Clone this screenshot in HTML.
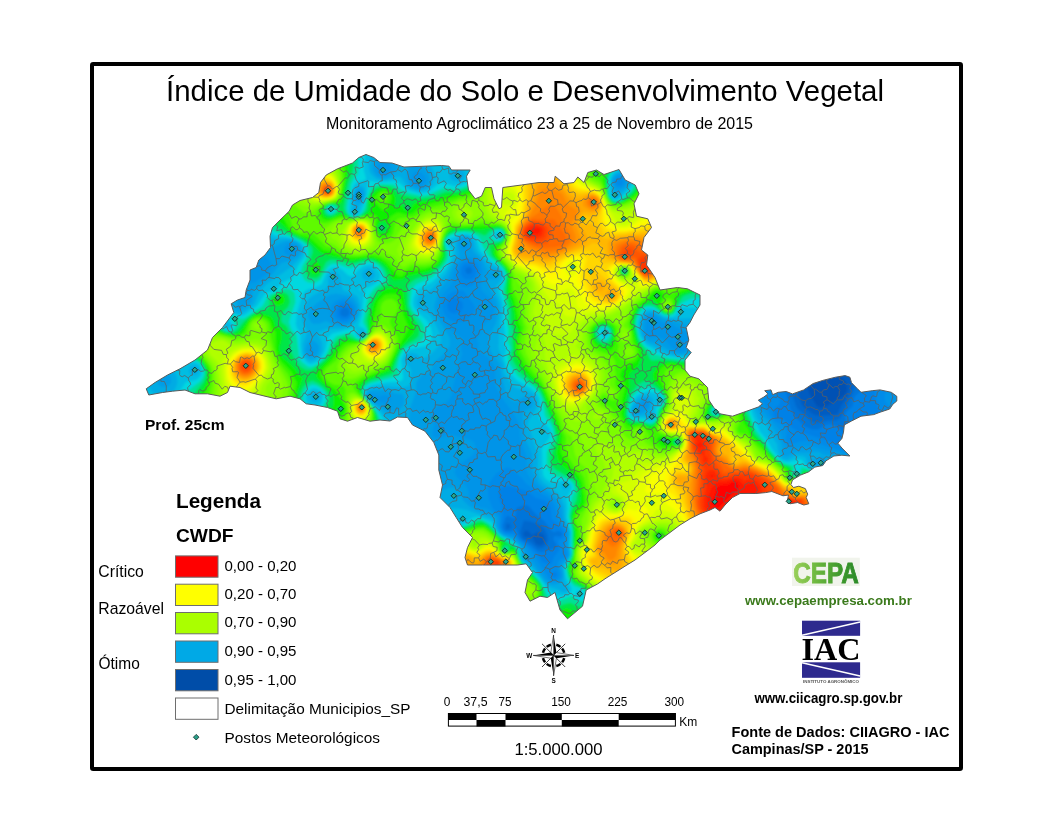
<!DOCTYPE html>
<html lang="pt-BR"><head><meta charset="utf-8"><title>Índice de Umidade do Solo e Desenvolvimento Vegetal</title>
<style>
html,body{margin:0;padding:0;background:#fff}
body{width:1056px;height:816px;position:relative;overflow:hidden;font-family:"Liberation Sans",sans-serif}
svg text{font-family:"Liberation Sans",sans-serif;fill:#000}
svg text.b{font-weight:bold}
svg text.serif{font-family:"Liberation Serif",serif;font-weight:bold}
</style></head><body>
<svg width="1056" height="816" viewBox="0 0 1056 816" style="position:absolute;left:0;top:0">
<defs><clipPath id="st"><path d="M366,154.5 373.8,157.5 380,162.5 392,163 404,167 441.5,165.5 449,166.2 451.5,170 470.2,170 466.5,176.2 468.5,190 475.2,198.8 481.5,196.2 485.2,187.5 491.5,187.5 494,198.8 499,208.8 501.5,207.5 502.8,187.5 521.5,185 539,182.5 554,182.5 555.2,176.2 564,183.8 574,182.5 577.8,177 584,182.5 587.8,172.5 596.5,170 604,174.5 619,169.5 625.2,180 635.2,185 639,193.8 634,203.8 636.5,216.2 647.8,218.8 651.5,227.5 644,237.5 641.5,250 647.8,255 646.5,265 650,270 655,277.5 660,290 677.5,287.5 687.5,288.8 700,295 700,305 693.8,315 690,322.5 686.2,327.5 688.8,340 686.2,347.5 691.2,352.5 685,360 685,370 690,376.2 698.8,378.8 707.5,387.5 708.8,400 713.8,407.5 720,413.8 732.5,416.2 750,410 758.3,407 762.5,403.8 758.3,400.2 763.9,397 767.9,393.9 764.7,390.7 771,389.9 772.6,394.7 778.2,392.3 786.2,391.5 792.5,393.9 803.7,389.9 813.2,383.5 822.8,380.4 835.5,377.2 845.1,375.6 849.9,377.2 851.5,382.7 857,388.3 861,392.3 872.2,390.7 880.1,389.9 891.3,392.3 896.8,396.3 896.8,401 892.9,404.2 889.7,409 880.1,412.2 873.8,414.6 861,416.2 851.5,421 844.3,424.9 843.5,432.1 841.9,438.5 837.9,443.2 841.9,448 849.9,456 841.9,455.2 833.9,456 826,460.8 822.8,465.5 814.8,467.1 808.5,471.9 800.5,475.1 792.5,479.9 790.9,484.6 793.5,487.5 798.9,486.2 805.3,488.6 807.7,494.2 806.2,497.5 808.8,503.8 803.8,505 797.5,502.5 790,503.8 787.5,500 788.5,495 783,495.8 771.8,491.5 765.5,492.6 755.9,493.5 748,493.4 740,493.5 732.5,497.5 725,505 720,511.2 715,507.5 710,510 700,513.8 690,518.8 680,525 670,532.5 660,540 655,545 645,552.5 635,560 625,566.2 615,572.5 605,578.8 597.5,584 586.2,590 582.5,606.2 575,612.5 567.5,618.8 560,610 555,592.5 547.5,597.5 540,596.2 530,601.2 525,592.5 527.5,580 532.5,572.5 526.2,563.8 517.5,565 500,565 482.5,565 467.5,565 465,557.5 467.5,547.5 472.5,537.5 462.5,527.5 456.2,517.5 450,507.5 440,497.5 442.5,485 438.8,470 438.8,455 433.8,442.5 425,431.2 412.5,425 407.5,417.5 397.5,417 390,421 380,420 370,421.2 357.5,417.5 347.5,421.2 340,418.8 337.5,411.2 327.5,407.5 315,405 306.2,403.8 300,398.8 290,396.2 276.2,398.8 265,396.2 250,392.5 240,387.5 230,386.2 227.5,392.5 220,396.2 207.5,393.8 195,393.8 185,390 172.5,391.2 162.5,392.5 148.8,395 146.2,388.8 155,382.5 167.5,375 180,368.8 195,360 207.5,350 212.5,337.5 222.5,327.5 233.8,312.5 231.2,303.8 237.5,300 245,297.5 246.2,290 250,280 250,270 256.2,267.5 258.8,260 265,255 270.5,247.5 270,236.2 272.5,227.5 280,220 289.2,211.2 292.5,205 300,200.5 312.5,197.5 318.8,192.5 320.5,182.5 326.2,175 337.5,168.8 352.5,163 358.8,157.5Z"/></clipPath>
<filter id="bl" x="-2%" y="-2%" width="104%" height="104%"><feGaussianBlur stdDeviation="1.2"/></filter>
<linearGradient id="cepa" x1="0" x2="1" y1="0" y2="0"><stop offset="0" stop-color="#9ad05a"/><stop offset="0.35" stop-color="#6db83f"/><stop offset="0.7" stop-color="#3f9a2c"/><stop offset="1" stop-color="#2a8a28"/></linearGradient>
</defs>
<rect x="92" y="64" width="869" height="705" fill="#fff" stroke="#000" stroke-width="4" rx="1.2"/>
<g clip-path="url(#st)">
<g filter="url(#bl)">
<rect x="126" y="136" width="792" height="504" fill="#ff0000"/>
<path d="M908,630.3 136,630.4 135.5,146 908,145.4 908.6,146 908,630.3ZM719.8,506 732,493.8 738,490.2 739.1,486 736.6,482 732.5,482 728,485.1 720,485.5 716.7,488 714.3,496 711.7,500 711.5,504 716,507.8 718,507.7 719.8,506Z" fill="#ff1800" fill-rule="evenodd"/>
<path d="M908,630.3 136,630.4 135.5,146 908,145.4 908,630.3ZM537.9,234 540,232.1 540.3,230 538,227.4 534,227.7 529.5,232 530.6,234 537.9,234ZM702.2,446 702,443.8 700,442.8 698.1,444 698,446 700,447.4 702.2,446ZM713.9,476 712,473.6 709.8,476 712,477.8 713.9,476ZM752.2,584 752.9,568 754.7,560 756.4,520 754.1,510 751.5,506 755.4,494 758,490.2 758.1,488 754.5,484 752,482.8 744,485.5 738.2,480 736,479.1 726,481.8 716,482.8 711.6,488 707.1,498 706.5,502 707.6,508 716,521.1 722.9,528 725.5,532 732,545 735.5,550 738.2,560 743.7,570 748,582.6 750,585.5 752.2,584ZM791.9,504 791.6,502 788,500 786,502 788,504.6 791.9,504ZM794.3,504 794,503.8 792.2,504 794,504.2 794.3,504Z" fill="#ff2800" fill-rule="evenodd"/>
<path d="M908,630.2 136,630.4 135.5,146 908,145.4 908,630.2ZM540.1,236 542.1,234 542.9,230 542,227.8 538,225.4 532.6,226 528,229 526.2,232 527.8,236 530,237.1 536,237.5 540.1,236ZM644.2,262 642.9,262 644,263.4 644.2,262ZM646.2,272 647.3,270 646.4,268 644,267.5 644,271.4 646.2,272ZM706.9,462 707.9,460 707.3,458 704.2,454 705.4,448 703.1,440 703.7,436 702,435.2 698,436 696,434.2 694,434.4 694,436.7 697.4,440 695.8,444 696.2,448 698,451.1 703.7,456 703,460 703.9,462 706,462.6 706.9,462ZM698,438 697.6,438 698,437.9 698,438ZM752.4,590 755.1,582 755.3,568 757.1,560 757.3,548 758.9,542 759.4,530 760.5,524 760.7,518 759.6,512 762,492 760.8,486 758,482.3 752,478.8 744,480.4 740.5,478 736,477 726,479.5 722,479.4 719.1,478 714,470.4 710,470 707.3,472 705.7,476 707.2,486 704,498 703.5,504 704.2,508 708,515.8 713.5,524 719.5,530 732.8,550 736.7,562 741.4,570 746.4,584 750,589.6 752.4,590ZM797.1,506 798.2,504 797.5,502 790,499.5 786,499.4 784.1,502 785.6,506 788,507.3 794,507.4 797.1,506Z" fill="#ff3700" fill-rule="evenodd"/>
<path d="M908,630.2 136,630.4 135.5,146 908,145.4 908,630.2ZM536.1,240 542.2,238 544.2,236 545.5,232 544.7,228 543,226 536,223.7 532,224.5 528,226.8 526,228.8 524.7,232 525.6,236 527.7,238 536.1,240ZM648.7,272 649.3,268 647.2,260 644.3,258 642,258.2 640,260 639.6,262 642,270.3 644,273 646,273.6 648.7,272ZM247.2,368 248.4,366 247.5,364 244,364 243.3,366 244,367.9 247.2,368ZM764,612 768.1,584 766.8,578 766.7,570 765.2,564 765.3,556 763.9,550 764.6,528 769.2,510 767.6,504 765.4,500 765.8,490 764.5,484 763.1,482 754,476.1 748,474.3 734,475.2 726,477.4 722,476.8 716,468.8 712.1,466 710.9,464 710.8,458 705.7,436 703.8,434 694,432.8 692.2,434 691.9,436 693.8,440 694.4,448 698.9,456 701.9,464 704.9,468 703.1,476 703.6,488 700.9,502 701.5,508 706,516.5 720.1,538 726,551.2 733.2,564 736,573.9 739.9,582 746,602.2 752,596.8 759,604 764,612ZM794.6,510 798,508.4 799.8,506 801.2,502 800,500.3 794,500.1 788,498 786,498.1 783.2,500 782,504 783.6,508 788,510.7 794.6,510ZM498,564 498,561.9 495.2,562 495.4,564 498,564Z" fill="#ff4700" fill-rule="evenodd"/>
<path d="M908,630.2 136,630.3 135.6,146 908,145.5 908,630.2ZM329.1,192 330,190 328,187.9 326,188.5 325.2,190 325.8,192 329.1,192ZM540.1,242 544,240.6 546.5,238 548.4,232 547.7,228 544,224.4 540,223 534,222.3 530,223.7 526,226.8 524,229.7 523.4,232 524.1,236 526,238.4 530,240.7 536,242.2 540.1,242ZM629.7,256 632.6,254 633.2,252 632,249.3 628,248.2 624,251.7 622.6,256 624,257.5 626,257.6 629.7,256ZM648.4,274 651.1,270 650.2,260 646,255.7 642,255.5 638.8,258 638.2,260 638.8,264 642,272.3 644,274.1 648.4,274ZM248.5,370 250.2,368 250,363.6 248,361.7 243.5,362 241.2,366 242,369 246,370.9 248.5,370ZM581,388 581.8,386 580,384 578,384.5 577.1,386 577.6,388 581,388ZM767.5,618 769.4,610 770.2,600 771.1,584 770.1,572 772.6,536 775.1,530 776,523.7 778,520.1 782,521.1 784,515.7 786,514.9 792,515.2 800,510.1 803.1,504 802.5,500 800,499.1 794,499.4 786,497.1 783,498 778,502.3 776,502.8 772,500 771.5,498 771.6,494 773.6,490 772,489.2 768.2,482 764,479 754,473.8 748,471.9 732,473.6 726,475.2 722,474.1 714.5,462 712.4,456 710.7,450 710.7,440 709.7,438 704,433.2 693.3,432 691.1,434 691,436 692.7,442 693,448 697.9,458 701.9,470 700.9,476 701.1,486 698.6,502 699.6,508 706,520.7 720,544 723.7,554 727,560 728,565.3 738.9,592 742,605.3 746,613.5 748,614.7 749.1,614 750.4,606 752,602.9 756,604.6 764,618.4 766,619.6 767.5,618ZM618.9,534 619.1,532 618,531.6 617.6,534 618.9,534ZM498.3,566 499.7,564 499.5,562 498,560.5 490,560 488.5,562 490,564.7 496,566.6 498.3,566Z" fill="#ff5700" fill-rule="evenodd"/>
<path d="M908,630.2 771.6,630 775.4,608 773.6,592 774,570.6 778,559.7 788,551.3 790,547.6 788,525 790,522.8 794,520.9 796,517.8 802,513 804.6,508 804.9,502 802,498.5 796,499 788,496.4 780,496.2 778,489.5 768.7,480 750,470.7 746,470.1 736,471.7 724,471.7 721,466 716,459.6 713.3,454 712.4,450 712.9,442 711.5,438 704,432.3 694,431.2 691.5,432 690,436 691.6,442 692.2,450 696.5,458 699.5,468 698.9,488 696.9,502 698,508 704.6,522 720.5,550 736.8,592 740.8,606 744.6,614 748.7,620 749.9,626 751.8,630 136,630.3 135.6,146 908,145.5 908,630.2ZM330.5,192 330.9,190 330,187.7 328,186.6 324.4,188 324,191.3 326,193.4 328,193.7 330.5,192ZM546.3,244 549.8,240 551.9,234 551.6,228 548.7,224 544,222.2 534,220.7 530,222.1 524,227.5 522.3,234 524,238 526,239.9 536,244.4 546.3,244ZM359.1,230 358,229.9 357.9,230 358,230.3 359.1,230ZM430,240 432.4,238 432,236.3 430,235.6 428.3,238 430,240ZM650.3,274 652.8,270 653.6,264 652.4,258 650,254.9 646,252.5 638,251.5 635.7,248 632,245.6 626,245.8 622.7,248 620,254 621.6,258 626,259 634,256.9 635.9,258 637.6,264 642,273.2 646,275.5 650.3,274ZM248.3,372 251.9,368 251.9,364 248,360.2 244,360.3 240.1,364 240,368.5 242,371.3 244,372.4 248.3,372ZM580.9,390 583,388 582.9,384 580.3,382 578,382 575.5,384 575.2,388 578,390.3 580.9,390ZM620.3,536 621.7,534 621.5,532 619.9,530 615.9,530 614.3,532 615.4,536 618,537 620.3,536ZM498,568 500,566.4 501,564 500.7,562 498.9,560 492,558.2 490,558.2 487.3,560 486.6,564 488,566.4 492,568.2 498,568ZM766,630 752.5,630 753.9,618 756,614.6 758,613.7 764,624.4 766,630Z" fill="#ff6700" fill-rule="evenodd"/>
<path d="M908,630.2 817.9,630 810.3,606 810,601.9 800.8,574 800.1,568 795.6,554 792.8,540 794,535.2 796,533.8 796.6,532 798,523.6 804,517.9 807.1,512 807.7,506 805.6,500 802,497.6 794,498 782.5,494 778,487.1 770,479.4 764,475.6 751.8,470 746,468.6 736,470.2 730,468.7 718,459.1 716,456.4 713.9,450 714.8,442 713,438 704,431.6 694,430.6 690.3,432 689.3,436 690.7,442 691,450 695.1,458 697.8,468 697,488 695.4,500 696.6,508 701.4,520 719,552 720.9,558 724.9,566 739.2,606 746.8,622 749.2,630 136,630.3 135.6,146 908,145.5 908,630.2ZM329.4,194 331.3,192 331.2,188 328,185.5 324.9,186 323,188 323,192 326,194.3 329.4,194ZM596.2,204 595.6,200 594,199.1 590.8,200 589.9,202 592,205.2 594,205.5 596.2,204ZM560.2,246 564,244 566,240.6 566.2,238 564,233.2 554,219.5 532,219.2 526,223.6 522.5,228 521.2,234 522.6,238 526,241.4 532,245.1 538,247 546,247.9 560.2,246ZM361,232 361.5,230 360,228 357.8,228 356.2,230 358,233 361,232ZM432.9,240 433.8,238 432,234.3 430,233.8 428,234.8 426.6,238 428,240.9 430,241.6 432.9,240ZM648.8,276 653.4,272 655.6,266 655.4,258 652,252.2 648,249.5 632,243.2 626,243.5 620.9,246 617.9,252 618.5,256 619.8,258 624,260 634,259.7 642,274.2 646,276.3 648.8,276ZM374.7,346 374.5,344 371.9,344 372,346.5 374.7,346ZM246.4,374 250,372.6 252,370.5 253.4,366 252,361.7 250,359.8 246,358.8 242.1,360 240,362 238.5,366 239.2,370 240.6,372 244,373.9 246.4,374ZM582.8,390 584.6,386 583,382 580,380.4 578,380.4 575,382 573.2,386 574.8,390 578,391.6 582.8,390ZM362.4,408 362,407.1 360,408 362,408.6 362.4,408ZM615.2,542 622,536.4 622.9,534 621.6,530 618,528.2 612.9,530 609.4,538 610.6,542 612,542.8 615.2,542ZM497.3,570 500,568.5 501.7,566 501.8,562 500.2,560 492,557.1 487.4,558 484.9,562 486,567.1 490,570 494,570.6 497.3,570Z" fill="#ff7700" fill-rule="evenodd"/>
<path d="M908,630.1 819.9,630 803.6,572 804.4,556 800.9,534 802,530 808,524 810.9,518 811.6,510 808.8,502 804,497.5 794,497.3 784,492.7 778,485.5 770,478 754.7,470 746,467.1 736,468.8 730,466.7 724,460.9 718,456.7 716.2,454 715.1,450 716.5,442 714.3,438 704,430.9 694,430 689.3,432 688.7,436 689.9,442 690.3,452 694,458.6 696.4,468 693.9,498 696.2,512 698.2,518 706,530.2 723.4,566 725.9,576 736.5,606 740,611.5 741,616 747.2,630 136,630.3 135.6,146 908,145.5 908,630.1ZM330.6,194 332.4,190 330.7,186 326,184.4 323,186 321.4,190 323.6,194 328,195.1 330.6,194ZM596.5,206 597.9,202 596,198.5 594,197.5 590,198.2 587.8,202 589.7,206 594,207.4 596.5,206ZM548.3,252 558,250.1 564,247.7 570.2,242 571.1,238 570.2,234 563.5,222 560,213.2 556,207.4 550,204.7 542,209.2 538,213.3 530,218.2 522.6,226 520.2,232 520.5,236 522,239.4 528,244.7 534,248.1 548.3,252ZM360.6,234 362.4,232 361.6,228 358,227.1 356.2,228 355.3,230 356,233 358,234.4 360.6,234ZM432.3,242 434.6,238 434,234.8 432,233 428,233.3 425.7,236 425.7,240 428,242.4 432.3,242ZM650.9,276 654.8,272 658,264 657.6,256 655.3,250 648,245.8 634,241.2 626,241.5 618,245.2 616.3,248 615.6,252 618.2,258 622,260.2 632,260.5 634,261.6 642,274.9 646,277.1 650.9,276ZM375.1,348 376.6,346 376.5,344 374,342 372,342.6 370.1,346 372,348.4 375.1,348ZM250.1,374 252.3,372 254.4,368 253.5,362 252,360 248,357.9 242,359 237.9,364 238,370.3 240,373.3 244,375.3 250.1,374ZM581.2,392 584,390 585.1,388 585.4,384 582,379.7 580,379 576,379.5 574,380.9 572.1,384 572.1,388 576,392.2 581.2,392ZM362.2,410 363.5,408 362.5,406 360,405.7 358.9,408 360,409.9 362.2,410ZM672.5,426 673.1,424 672,422.5 670,422.5 669,424 669.6,426 672.5,426ZM615.4,546 622,538.5 624.1,534 622.8,530 618,527 614,527.3 610.1,530 606.1,538 607,542 610,545.8 612,546.8 615.4,546ZM497.2,572 502.4,568 503.9,564 503.5,562 498,558 492,556.1 488,556.5 486,557.7 484.2,560 483.2,564 484,567.6 485.7,570 492,572.7 497.2,572Z" fill="#ff8700" fill-rule="evenodd"/>
<path d="M908,630.1 830.4,630 814.1,576 811.3,570 806.6,550 806.5,544 814.8,534 818.3,524 817.8,516 812.6,504 806,497.5 802,496.2 794,496.6 786,492.3 770,476.6 756,469.5 746,465.8 736,467.5 732,466.4 725.9,460 717.6,454 716.4,450 718.3,442 715.8,438 704,430.2 694,429.5 690,430.4 687.9,434 689.3,442 689.4,454 694,463.6 695,468 692.8,480 692.2,498 693.1,506 697.3,520 706,533.6 715.1,554 722,566.9 726.3,592 726.3,600 728.2,610 732,623.6 735.5,630 136,630.3 135.6,146 908,145.5 908,630.1ZM331.4,194 332.7,192 332.7,188 330,184.4 326,183.4 322,185.4 320.4,190 322.4,194 328,195.7 331.4,194ZM552.6,254 564.1,250 574.6,242 575.6,240 575.7,236 571.7,226 571.4,222 576,217.5 577.4,212 576,209.4 568,205.3 562,193.8 552,188.4 546,188.2 542,188.9 540,190.9 538.5,198 535.3,206 529.6,216 520.4,228 519.3,232 519.4,236 522,242.1 530,249 546,255.1 552.6,254ZM596.4,208 598.8,204 598.3,200 596.8,198 592,196.2 587.7,198 585.8,202 587.1,206 592,209 596.4,208ZM362.3,234 363.4,230 362,227.4 358,226.3 355.3,228 354.5,232 356,234.5 360,235.4 362.3,234ZM433.6,242 435.3,238 434.5,234 432,231.9 428,232.1 424.6,236 424.5,240 425.5,242 430,243.9 433.6,242ZM652.6,276 657.5,270 660.5,262 660.3,254 658,247.6 650,243 636,239 626,239.7 617.7,242 615.2,244 613.3,248 613.3,252 616.4,258 622,260.8 632.6,262 634.7,264 640.6,274 644,277.1 648,278 652.6,276ZM376.9,348 377.7,344 376,341.7 372,341.6 369.7,344 369.8,348 372,349.6 374,349.8 376.9,348ZM248.7,376 254,371.5 255.4,368 255.4,364 253.4,360 250.9,358 248,357 244,357.2 240,359.4 237.8,362 236.5,366 236.7,370 239,374 242,376.1 246,376.7 248.7,376ZM582.8,392 586,388 585.7,382 584,379.7 580,377.7 574,379.1 570.7,384 571.7,390 576,393.1 580,393.2 582.8,392ZM363.5,410 364.3,408 363.4,406 360,404.9 358.4,406 357.9,408 358.9,410 362,411.1 363.5,410ZM674,426 674,423 672,421.3 670,421.4 667.9,424 668.3,426 670,427.2 672,427.3 674,426ZM612.4,560 616,556.5 617.1,550 625,534 624,530.1 622.2,528 616,525.7 612,526.2 607.6,530 604.2,536 604.1,546 600,547.6 599.4,550 602,552 604,552.1 608,558.9 610,560 612.4,560ZM497.6,574 503,570 506.5,564 506.5,562 492,555.2 488,555.4 486,556.4 482,562 481.5,566 482.6,570 486,573.3 490,574.9 497.6,574Z" fill="#ff9700" fill-rule="evenodd"/>
<path d="M908,630.1 833.1,630 824,602.2 816.1,572 816.6,570 823.5,562 828,554.5 831.1,546 831.5,540 830,534.3 825.4,524 815.5,504 809.6,498 806,496.3 802,495.4 796,496.6 794.1,496 790,491.7 784,489.3 770,475.4 759.1,470 746,464.4 744,464.2 736,466.3 732,465 726,457.4 720,454.4 718.2,452 718.1,448 720.4,442 717.4,438 704,429.6 694,429.1 689.1,430 687.5,432 687.3,434 688.7,442 687.9,458 692,463.7 693.7,468 689.6,486 690.9,504 696,521.1 708,541.6 719.4,566 724,592 723.4,604 728.5,630 136,630.2 135.7,146 908,145.5 908,630.1ZM554.5,256 567.8,250 578.1,244 580,242 580.7,238 575.6,224 580.3,210 578.7,206 572,201.4 568,197.4 564,191.5 556,183.1 552,180.8 548,180.4 544,181.5 537.5,186 534.8,198 528.8,214 520.4,226 518.7,230 518.2,234 519.3,244 518.3,248 518.7,250 520.7,252 538,254.8 546,257.9 554.5,256ZM328.8,196 332.2,194 333.2,192 333.3,188 330,183.5 324,182.8 320.1,186 319.4,188 319.9,192 324,195.8 328.8,196ZM596.1,210 598.3,208 599.8,204 598,198 596,196.2 592,195.1 588,196 585.2,198 582.9,202 583.3,206 590,210.3 594,210.8 596.1,210ZM361,236 364,232.5 364,229.3 361.1,226 357,226 354,229.2 354,232.9 356.8,236 361,236ZM432.3,244 435.5,240 436,236 433.9,232 432,230.9 428,231.1 424,235.2 423.4,240 426.2,244 430,244.8 432.3,244ZM651,278 657.9,272 663.7,260 663.3,250 660,244.4 656,241.8 636,237 616,240 612.5,242 610.5,250 611.4,254 614.2,258 620,260.9 632,262.6 642,276.3 646,278.7 651,278ZM612.4,296 612,294.9 611.1,296 612,296.3 612.4,296ZM376.4,350 378.9,346 378,342.3 376,340.7 372,341 369,344 368.9,348 372,350.7 376.4,350ZM246.1,378 250,376.7 253.4,374 255.9,370 256.7,366 255.9,362 254,359.2 248,356.1 244,356.3 240,358.3 236.8,362 235.5,366 235.6,370 238,374.9 242,377.6 246.1,378ZM580,394 584,392 585.8,390 587.2,384 586,380.5 584,378.3 578,376.3 574,377.5 571.1,380 569.2,386 570.3,390 572,392.1 576,394.1 580,394ZM364.4,410 364.1,406 362,404.3 360,404.1 357.6,406 357.8,410 360,411.8 362,412 364.4,410ZM672.4,428 675,426 675.4,424 674,421.3 672,420.3 670,420.5 667.9,422 667.5,426 670,428 672.4,428ZM681.6,480 680,479.4 679.5,480 680,480.7 681.6,480ZM615.9,564 618.9,560 620.9,546 626,534 625.1,530 622,526.6 618,524.8 614,524.3 609.1,526 604,532.2 602.2,536 601.2,542 598,546.5 597.5,550 608,563 612,564.7 615.9,564ZM498.4,576 502,573.7 505.2,570 508,565.2 508.3,562 506.1,560 502,559.1 492,554.4 486,555.3 482.8,558 480.3,562 479.1,568 480.4,572 484,575.5 488,577.3 494,577.5 498.4,576ZM468.7,562 468.9,560 468,559.2 465.5,560 466,562.2 468.7,562Z" fill="#ffa700" fill-rule="evenodd"/>
<path d="M908,630.1 859.5,630 865.2,618 867.9,610 866,599 858.3,580 852.6,572 835.5,540 830,528.5 823.9,512 818,502 813.5,498 808,495.6 802,494.6 796,496 793.3,494 792.1,490 784,488.1 770,474.3 746,462.9 742,463 736,465 732.6,464 730.5,462 727.8,456 720,451.5 720,447.8 723.3,444 723.1,442 719.2,438 710,433.3 704,429 692,428.6 688,429.8 686.7,432 688.1,444 685.7,458 686.4,460 691.6,466 692,471.3 690,475.4 688,477 678.5,476 676.4,478 675.9,480 678,483.6 684,486.1 686,487.9 688,494 688.8,504 691.5,514 696,525.2 708,545.7 716.9,566 720.8,582 721.8,594 721.5,602 725.7,630 136,630.2 135.7,146 908,145.6 908,630.1ZM549.2,260 581.7,246 586,242.8 587,236 578.6,224 579.3,218 582,213.3 584,211.6 592,213.1 596,212.1 599.6,208 600.6,204 598.8,198 594,194.4 588,194.6 580,199.2 578,199.4 572,196.6 568,193.1 552,173.7 550,171.9 546,170.8 540,172.9 536.4,178 527.1,214 525.3,218 519.3,226 517.7,230 517.4,240 515.5,248 516.3,252 518,254.1 522,256.1 539.2,258 544,260.6 549.2,260ZM330.3,196 333.7,192 333.1,186 331.7,184 328,181.8 322,182.4 318.8,186 318.9,192 320.2,194 324,196.4 330.3,196ZM362.7,236 364.9,232 364,227.6 360,225.1 355.7,226 353.1,230 354,234.8 358,237.4 362.7,236ZM433.5,244 436.1,240 436.1,234 434,231.1 432,230 428,230.2 425.2,232 422.8,236 423.1,242 424.5,244 428,245.7 433.5,244ZM652.8,278 661.2,270 667.5,258 667.8,248 666.6,244 664,241 660,239.3 644,235.6 634,235.3 616,238 612,239.2 608.1,242 608.1,252 609.3,256 611,258 618,261.1 632,263.4 639.4,274 644,278.7 648,279.7 652.8,278ZM603,290 604.2,288 603.8,286 602,284 598,284 596.6,286 598,290 600,290.8 603,290ZM614.9,298 616.1,294 614,290.9 610,289.9 606.6,292 606.4,296 608,298.5 612,299.6 614.9,298ZM378,350 379.9,346 379.8,344 378,341 374,339.7 369.7,342 367.8,346 369.2,350 374,351.9 378,350ZM250,378 256,372 257.5,368 257.5,364 255.9,360 252,356.4 248,355.2 244,355.4 239.1,358 235.9,362 234.5,366 235,372 238,376.8 242,379.1 246,379.4 250,378ZM581.9,394 584.9,392 587.5,388 588.1,384 586.8,380 584,376.9 580,375.1 574,376 571.1,378 568.5,382 567.9,386 569,390 574,394.5 578,395.1 581.9,394ZM363.4,412 365,410 364.6,406 362,403.8 358,404.4 356.5,408 358,411.5 360,412.7 363.4,412ZM674.2,428 676.1,426 675.8,422 672,419.5 668,421 666.5,424 668,427.5 670,428.5 674.2,428ZM620.5,570 622.3,564 622.4,546 626.5,536 626.8,532 625,528 622,525.3 618,523.6 612,523.1 606.2,526 601.7,532 596.6,546 596.3,550 601.5,560 606,565.5 616,571 618,571.2 620.5,570ZM494.7,580 500,577.7 506,572 509.5,564 508.1,560 502,558.4 494,554.3 490,553.2 484,555.5 476,563.5 471.3,558 468,556.1 465.8,556 462.2,558 461,562 462,565 464,567.1 468,568.7 474,569.3 478.3,576 484,579.5 490,580.7 494.7,580ZM597,562 596,561.4 593.8,562 596,562.9 597,562Z" fill="#ffb700" fill-rule="evenodd"/>
<path d="M908,630 898.3,630 880.9,604 854,570 842,546.5 831.1,516 825.4,506 820.5,500 816,496.2 812,494.4 802,493.7 796,495 794.6,494 794,489.6 792,488.3 784,487 770,473.3 746,461.3 742,460.8 738,463 734,463.1 731.1,460 730,448 726.9,442 718,436.1 710,432.8 706,429.4 702,428.1 690,428.2 686.4,430 685.8,432 687.6,444 684,458 684.5,460 690.2,466 691,470 688,474.1 678,474.1 675.6,476 674.2,480 676,484.2 683.7,490 685.1,492 686,494.2 686.2,502 689.4,514 697.6,532 706.5,546 712.1,558 718.9,584 720.1,602 723.9,624 724,630 136,630.2 135.7,146 908,145.6 908,630ZM650.4,280 657.3,276 661.6,272 671.2,258 673.4,248 672,239.9 670.2,238 666,236.4 646,232.7 616,236.2 606,238.9 602.9,238 599,234 592.6,224 584,224.2 582,222.9 580.9,220 582,216.9 584,215.4 592,217.2 598,213.1 600.8,208 601.3,204 600.5,200 598.1,196 592,193.2 578,195.4 572,192.2 561.2,182 542,155.1 540,153.4 538,153.2 532.3,166 532.6,180 530.6,186 528.9,200 525.7,214 524,218 518.2,226 516.7,230 516.1,240 513.9,248 514.5,252 516,254.7 522,258.4 538,260.5 544,263.3 548,263.3 570,252.4 588,246.2 592,243.2 596,243.2 600,245.1 604,249.9 606.1,258 608,259.4 618.6,262 630,263.2 633.7,266 637.3,272 644,279.5 648,280.6 650.4,280ZM331.2,196 333.3,194 334.5,190 333.8,186 332,183.3 326,180.5 320,182.3 318,184.8 317.1,188 319,194 324,196.9 328,197.1 331.2,196ZM361,238 364,236 365.6,230 363.4,226 358,224.7 354.9,226 353.1,228 352.8,234 356,237.7 361,238ZM431.8,246 435.8,242 437,236 436,232.2 434,230 430,228.9 426.5,230 424,232.1 421.9,236 421.5,240 423.1,244 425.6,246 428,246.7 431.8,246ZM614.9,300 616.9,298 618.2,294 616,289.6 602,280.2 598,280 594.8,282 593,286 593.1,288 596,292.6 602,295.6 608,300.7 612,301.1 614.9,300ZM377,352 380.4,348 380.7,344 378.2,340 374,339.1 369.2,342 367.8,344 367.2,348 368.1,350 372,352.6 377,352ZM248.5,380 252,378 256,373.9 258.5,368 258.5,364 257.1,360 254,356.6 250,354.7 246,354.3 240,356.3 236.1,360 234.1,364 233.4,370 234.5,374 238,378.6 244,380.9 248.5,380ZM583.2,394 586,391.7 588.3,388 588.9,384 587.9,380 584,375.4 580,373.7 576,373.9 572,375.6 569.1,378 567,382 566.6,386 568,390.7 570.8,394 574,395.5 578,395.8 583.2,394ZM364.5,412 365.7,408 364,404.7 360,403.1 357.5,404 355.8,408 357.5,412 360,413.5 362,413.5 364.5,412ZM675.5,428 677.6,424 676,420.7 672,418.7 668,420.1 665.9,424 667.7,428 672,429.2 675.5,428ZM626,578 626.7,576 625.8,562 623.4,548 627.4,536 627.5,530 625,526 620,522.8 614,521.7 609.9,522 604,525.6 599.5,532 594.9,548 597.2,556 596,557.7 591,560 590.8,562 594.1,566 604,568.6 612,572.9 626,578ZM490.9,584 500,580.5 506,574.9 510.2,566 510.3,562 509.1,560 502,557.9 490,552.3 486,553.2 478,558.8 476,559.1 470,555.5 466,554.5 462,555.4 459.2,558 457.7,562 458,565.5 462,572.2 478,582.4 486,584.2 490.9,584Z" fill="#ffc700" fill-rule="evenodd"/>
<path d="M908,630 900.8,630 882,602.2 866.4,582 860.9,572 856,560 848.4,536 843.3,524 834.4,510 825.3,500 817.6,494 812,491.7 800,492.4 798.2,494 796,494 795.7,492 796.8,490 795.6,488 786,487 784,486 770,472.4 754,465.1 738,455.2 730,442.7 726.8,440 720,435.8 712,433.4 704,427.7 690,427.5 687.3,428 685,430 687.1,444 686,449.1 682.3,458 682.6,460 688.9,466 689.4,470 688,472 686,472.9 678,472.1 676,473 672.8,478 672.8,482 682.4,494 687.5,514 695.9,532 706,548.7 709.9,558 714,572 718.4,594 719.6,610 722.2,624 722.1,630 136,630.2 135.7,146 908,145.6 908,630ZM652.5,280 659.2,276 663.8,272 676.6,256 679.9,246 680.6,240 679.9,236 676,233.5 668,233 650,229.2 626,233.6 606,235.3 604,233.9 597.6,222 597.5,220 602.1,206 601.1,200 598.9,196 596,193.5 592,192.3 580,192.8 576,191.7 562.3,180 553.1,168 544.6,154 540,148.7 535.8,150 533.9,152 530,162 529.6,176 526.9,184 527.2,196 524.4,214 522.8,218 516.9,226 516,228.8 515,240 512.8,248 513.1,252 515.2,256 518,258.3 524,260.8 536,262.4 544,265.3 550,265.8 570,254.1 582,250.7 588,250.7 590.8,252 592,254.8 594,256.5 598,256.7 602,263.4 614,262.4 630,263.8 632.9,266 636.7,272 644,280.5 648,281.5 652.5,280ZM332.1,196 334,193.7 335,190 334.4,186 332,182.3 326,179.5 322,180 318.3,182 315.8,188 317.9,194 320.1,196 324,197.5 328,197.6 332.1,196ZM363.1,238 365,236 366.3,232 365.6,228 364.3,226 360,224.1 354,226 351.8,230 352.9,236 354.8,238 358,239.3 363.1,238ZM433.1,246 436,242.7 437,240 437.3,234 436,230.9 434,229 432,228.2 428,228.3 424,230.9 421.9,234 420.6,238 420.9,242 423.6,246 426,247.3 430,247.5 433.1,246ZM613.2,302 616.7,300 619.5,296 620,294 618,289.2 594,268.7 592,268 590,268.8 588.3,272 591.1,278 589.9,286 592.2,292 596,296.1 606,301.7 610,302.5 613.2,302ZM378.7,352 381.4,348 381,342 378,339 376,338.4 372,339.3 367.3,344 366.5,348 367.2,350 372,353.5 376,353.5 378.7,352ZM246.8,382 252,379.5 256,375.5 259,370 259.7,366 259.1,362 256,357 252,354.4 246,353.4 240,355.3 236,358.8 233.1,364 232.3,370 234,376 237.3,380 242,382.2 246.8,382ZM580.4,396 584.3,394 588.1,390 589.5,386 589.5,382 587.9,378 584,373.9 580,372.3 576,372.5 570,375.2 567.3,378 565.5,382 565.5,388 568,392.9 572,395.9 576,396.8 580.4,396ZM362.6,414 366,410.4 365.4,406 362,403 358,403 355.5,406 356,411.1 359.2,414 362.6,414ZM676.9,428 678.9,424 678.4,422 676,419.3 674,418.2 670,418.4 666,421.8 665.6,426 668,428.8 672,429.8 676.9,428ZM736,461 733.6,460 733.6,458 736,456.1 738.3,458 737.7,460 736,461ZM632,584 634.2,582 624.7,550 625,544 628.8,534 627.5,524 626,522.4 616,520.6 610,520.6 606,521.8 602.8,524 597.4,532 593.8,546 595.2,556 590,558.7 589,560 589.1,562 592,566.4 598,570.5 614,577.9 622,580 628,584.3 632,584ZM490.9,588 498,585 506,577.8 508.4,574 511.1,566 511.1,562 510,559.9 502,557.5 490,551.4 486,552.2 478,557 476,557.1 466,553.2 462,553.6 457.9,556 455.2,560 454.2,566 456.1,574 460,578.9 466.7,584 474,588.1 484,588.8 490.9,588Z" fill="#ffd700" fill-rule="evenodd"/>
<path d="M908,630 903.8,630 898,618.7 893.9,598 890.1,584 885,570 877.3,554 861.3,530 842.8,510 825.6,496 814,490.2 800.9,486 788,486.4 784,485.2 772,472.8 756,465.3 750.8,462 739.5,452 730,441 722,435.4 712,432.9 704,427.1 688,426.8 684.3,428 683.5,430 686.5,440 686.6,444 680.4,460 681.4,462 687.4,466 688,468.9 686,471 684,471.2 678,469.4 676,470.1 671.5,476 670.7,482 682,502.4 691.2,526 700.4,542 710,565.1 716.7,594 716.8,600 718,604 716,612 714,611.8 713.2,614 715.2,622 714.8,626 715.7,630 136,630.2 135.7,146 525.4,146 524.9,150 527.7,168 524,184 524.9,200 522.5,216 516.8,224 515.1,228 514.4,238 511.7,248 511.9,252 513.6,256 516,258.6 522,261.9 536,264.2 542,266.9 550,268.9 554,267.3 559.3,262 568,256.6 578,253.9 582,254.1 585,256 587,260 584,271.3 583.8,276 590.4,294 594,298 597.4,300 604,302.8 610,303.7 614,302.8 618,300.2 621.6,294 619.1,288 610.5,280 607.2,274 606.7,270 608.7,266 616,263.4 629.1,264 632.2,266 644,281.6 648,282.4 652,281.1 658.1,278 666.3,272 683.4,254 689.8,240 691.5,232 691,230 686,229 680,229.8 674,229.3 662,227.2 658,224.8 656,224.7 636,230.5 624,232.6 614,232.5 606,229.9 604.3,228 601,220 602.8,206 601.8,200 599.7,196 594,191.9 580,190.6 576,188.9 564,178 556,169.1 546,152.6 540.9,146 908,145.6 908,630ZM328,198 332,196.6 334.4,194 335.4,190 334.1,184 332,181.2 328,178.8 324,178.4 318.5,180 316.3,182 314.6,186 315.4,192 320,196.8 324,198.1 328,198ZM361.1,240 364,238.5 365.9,236 366.8,230 364,225.1 362,224 358,223.7 354,225.4 352,227.8 351.2,234 354,238.7 358,240.3 361.1,240ZM431.2,248 436,243.8 438.1,236 436,229.7 434,228 430,227 426,228.3 422.1,232 420.2,236 419.6,240 420.6,244 424,247.7 428,248.7 431.2,248ZM377.4,354 381.6,350 382.6,344 380,339.3 377.7,338 374,337.9 368.1,342 365.8,348 367.7,352 370,353.7 374,354.7 377.4,354ZM245,384 250,382.3 254,379.2 258.2,374 260.6,368 260.2,362 258,357.7 254,354.2 248,352.5 242,353.4 237.6,356 232.9,362 231.2,368 231.7,374 234.9,380 240,383.6 245,384ZM582.1,396 586,393.4 588.9,390 590.3,386 590,380 587.9,376 584,372.4 580,370.9 576,370.9 570,373.3 566,377.2 564,382 564.1,388 566,392.4 570,396.3 576,397.7 582.1,396ZM364.2,414 366.6,410 365.9,406 362,402.6 358,402.4 356,403.7 354.8,406 355.7,412 360,415.1 364.2,414ZM674.2,430 678.9,428 680.5,426 679.9,422 675.8,418 674,417.3 670,417.7 666,420.7 665,426 668,429.3 674.2,430ZM630.4,590 633.4,586 636,585.6 640,586.9 641.5,586 625.9,550 626,544 629.9,534 631.1,522 630,520 626,518.3 606,520 602,522 596,530.9 592.4,546 592.6,550 594,554 592.8,556 588.2,558 587.7,562 592,568.5 596,571.9 616,583.8 628,589.8 630.4,590ZM474.8,596 490,593.4 498,588.7 504,583.3 508,577.8 511.6,568 511.8,562 510,559.1 502,557.1 490,550.4 486,551.1 478,555.6 474,555.1 464,551.9 460,552.5 454.7,556 452,560 450.3,566 450.9,578 452,581.2 456,586.6 462,591.7 470,595.7 474.8,596Z" fill="#ffe700" fill-rule="evenodd"/>
<path d="M708,630 136,630.2 135.7,146 521.4,146 521.1,150 523.5,160 521.1,172 523,200 521.2,216 514.2,226 513.6,238 510.6,250 512.3,256 516,260.2 522,263.4 536,266.3 542,269.7 552,273.5 556,270.8 562.5,262 568,258.2 576,256.3 580,257 582,258.8 583.2,262 580.6,276 581.2,282 588.5,296 592,299.9 595.5,302 602,304.2 608,305 612,304.5 617.3,302 621.2,298 623.2,294 623.3,292 621.1,288 614,281.6 610.3,276 609.4,270 612,266 620,263.7 626,263.7 630,264.9 644,283 648,283.3 652,281.9 660.1,278 669.2,272 682,259.6 694.1,250 702.8,238 709.8,224 708.6,222 706,221.4 690,225 684,224.8 670,223 667.7,222 668,219.6 666,218.8 654,221.6 634,229.4 626,231.1 616,231.1 608,228.5 603.8,220 603.4,204 600,195.4 594,191 582,189 576,186.2 564,173.4 557.2,168 544.6,146 908,145.6 908,542.4 869.1,518 827.8,494 804,484.5 790,485.7 784,484.3 770,470.4 756,464.6 752.1,462 732.6,442 722.6,434 712,432.4 704,426.4 694,426.9 684,425 680.5,420 676,416.9 670,417 666,419.7 664.8,422 664.5,426 665.5,428 670,430.6 680,429.2 682,430.4 684.9,436 686.3,442 685.1,448 678.9,458 677.2,464 669.6,474 667.2,488 669.4,492 674,495.1 680,504.2 690,527.3 699.3,544 710,574 711.2,582 715.1,596 714.8,600 716,604.3 714,604.4 708,598.4 706.2,600 706.7,608 705.8,612 704,612.9 696,609.5 693.9,610 695.1,616 698,621.2 700,623.5 709.7,630 708,630ZM329.8,198 333.4,196 335.6,192 335.5,186 333.6,182 330,178.6 326,177.2 322,177.4 316,179.8 314.2,182 313.1,186 313.3,190 315.2,194 320.9,198 326,198.6 329.8,198ZM363.6,240 366,237.6 367.4,234 367.4,230 366,226.3 363.4,224 360,223.2 354,224.8 352,226.7 350.6,230 350.5,234 352,237.9 354,239.9 358,241.4 363.6,240ZM432.9,248 436,244.8 438,240 438,232 436,228.5 434,227 428,226.4 424,228.7 421.2,232 418.7,238 418.7,242 420.5,246 424,249 428,249.7 432.9,248ZM379.4,354 382,351.2 383.4,348 383,342 379.7,338 374,337.3 370,339.7 366.3,344 365.1,348 365.5,350 368,353.4 372,355.5 376,355.5 379.4,354ZM244.3,386 248,385 254,380.7 259.4,374 261.7,368 261.4,362 259.6,358 255.6,354 250,351.8 244,351.9 238,354.5 232.9,360 230.4,366 230.3,374 232.8,380 238,384.8 244.3,386ZM578.9,398 584,395.7 588.3,392 590.6,388 591.3,382 590,377.2 586,372.1 582,369.8 576,369.1 570,371.4 566,374.6 562.8,380 562.3,386 564.1,392 568,396.6 574,398.7 578.9,398ZM365.2,414 366.5,412 366.9,408 364.7,404 360,401.6 356,402.9 354,408 356,413.7 360,416 362,415.9 365.2,414ZM686,468.2 684,468.8 682.4,468 682.3,466 684.9,466 686,468.2ZM664.9,596 648,579.9 632,559.5 628,552.9 626.7,548 626.9,544 631.1,534 633.7,524 632,519.3 630,517.2 626,515.9 618,517.6 606,518.1 601.5,520 599.4,522 593.8,532 590.7,546 591.4,554 588,555.4 586.2,558 586.5,562 592,570.8 596,574.4 614,585.7 618,587.3 624,591.5 630,593.9 636,594.1 637.7,592 642,591.1 650,594.7 656,595.3 660,594.6 664.9,596ZM471.7,606 482,603.2 488,600.3 496,594.7 504,586.8 508.6,580 512.6,568 512.5,562 510,558.4 502,556.7 490,549.4 486,550 480,553.6 476,554.5 466,551 460,550.8 456,552.2 451.3,556 447.4,562 445.4,568 443.5,584 444.5,588 449.7,596 456,601.5 464,605.4 468,606.4 471.7,606Z" fill="#fff700" fill-rule="evenodd"/>
<path d="M684,630 458.7,630 458,627.7 454,630 136,630.1 135.8,146 517.6,146 518.7,158 518,159.5 514.3,162 514.2,168 515.2,174 518.8,184 521.3,198 519.7,208 519.7,216 513.2,224 513.2,236 509.6,250 511.1,256 514,259.9 518,262.8 524,265.5 536,268.6 540,271.8 546,274.5 550,278.7 552,279.6 556,278.7 559.4,276 562.4,266 565.5,262 572,258.7 578,259.1 580.4,262 580.9,266 576.8,280 586.2,298 589.8,302 593.3,304 600,305.8 606,306.3 612,305.5 618,302.6 621,300 625,294 624.9,290 614.4,280 611.9,276 611.2,270 614.2,266 622,264 630,265.4 638.1,276 642,283.1 644,284.4 650,283.5 662.2,278 672.6,272 694,254.3 718.7,240 739.2,222 738.4,220 730,215.5 724,214.7 714,216.4 708,215.2 700,218.5 678,217 677.1,216 677.5,214 679.9,212 680.6,210 680,209.3 654,218 630,228.9 622,230.2 614,228.9 609,226 607,222 604,204 600,194.5 596,191 582,187.3 576.4,184 565.3,170 560,166.7 556.2,162 546.8,146 908,145.6 908,523.3 900,520.6 885.6,512 872,505.9 820.6,490 808,483.9 802,483.2 792,485 786,484.6 782.2,482 777.5,476 770,469.3 753.3,462 734.1,442 724,432.9 712,431.8 706,426.4 704,425.8 696,426.6 691.7,426 684,422.2 682,419 676,415.5 672,415.7 668,417.2 664.2,422 663.9,426 664.9,428 670,431 678,430.4 682,432.1 685.1,438 685.7,444 684,449.1 677.2,458 672,466.8 666.4,472 662.6,486 663,488 674,501.8 675.9,506 682,514.1 698,547 708,576 709.5,588 708,591.6 706,591.9 704,594.1 702,594.1 694,589.3 690,589 687.8,592 688.7,600 688,601.7 660,582.3 634,558.5 629,552 627.5,546 635.2,526 636.6,520 636,517.8 630,513.9 626,513.8 616,516.4 606,516.3 602,517.5 598.6,520 592.4,532 590.4,542 584.8,556 584.7,560 590.8,572 594.5,576 618,589.6 627.4,598 638,604.2 642,603.6 643,602 642.5,596 644,594.9 650.7,598 654,601.6 660,605.1 680,622.7 685.1,628 685.7,630 684,630ZM331,198 334.1,196 336.4,190 335.4,184 332,178.9 328,176.5 324,175.8 318,177 314,179.2 312.1,182 311.5,186 311.9,190 314,194.4 318,197.7 322,198.9 331,198ZM362.1,242 366,239.2 367.6,236 368.2,232 367.6,228 364,223.7 360,222.7 356,223.3 352,225.8 350.5,228 349.6,232 350.1,236 352,239.6 354,241.3 358,242.5 362.1,242ZM431,250 434,248.2 437,244 438.4,240 439,234 438,230 436,227.2 430,225 426,226.2 421.6,230 418.4,236 417.4,242 418.9,246 422,249.3 426,250.8 431,250ZM377.7,356 382.7,352 384.4,348 384.5,344 381.2,338 376,336.3 372,337.7 368,341.2 365.8,344 364.4,348 365.5,352 370,355.9 374,356.8 377.7,356ZM245.1,388 250,385.8 256,380.2 260.6,374 262.9,368 262.6,362 259.5,356 256,352.9 250,350.8 242,351.4 236,354.9 230.6,362 228.7,368 229.3,376 233.6,384 240,388 245.1,388ZM581.1,398 587.3,394 590.5,390 591.9,386 592.1,380 590,374.6 586,370.2 580,367.4 576,367.2 569,370 564.2,374 561,380 560.7,386 563.6,394 568,398.3 574,399.9 581.1,398ZM363.9,416 367.1,412 366.6,406 362,401.8 358,401.2 356,402 354.3,404 353.4,408 355.2,414 360,417 363.9,416ZM643,514 643.6,512 642,510.8 639.7,514 642,514.8 643,514ZM467.7,624 475.8,620 481.4,616 483,614 483.1,612 498,598.2 508,584.7 512.7,572 513.5,564 512,559.5 510,557.7 501.5,556 490,548.3 486,548.7 480,552.4 476,553.4 462,549 458,549.4 452.1,552 447.3,556 442.8,562 438.6,572 436.7,582 431.5,588 431.1,592 432,595.3 436.4,604 442,611.1 450,617.1 460,621.1 464,624.7 467.7,624ZM670,606.3 669.9,606 670.1,606 670,606.3ZM696,630 692.4,630 684,622.9 670.6,608 672,607.2 678,610 688,617.2 694,620 696.8,630 696,630Z" fill="#f7ff00" fill-rule="evenodd"/>
<path d="M680,630 481.5,630 494,614.7 498.9,604 508,588.9 511.6,580 514.4,568 513.8,562 511.4,558 502,555.9 492,547.9 488,546.8 480,551.2 476,552.4 462,547.4 455.6,548 450.7,550 444.7,554 437.3,562 431.3,572 426.6,584 415.9,596 413.1,604 407.4,612 406.2,616 408,629.9 418,622.6 423.5,630 136,630.1 135.8,146 514.9,146 514,154.8 508.7,158 508,159.5 508,170 510.1,178 517.8,190 519.5,198 516.7,208 517.2,216 512,220 511.4,222 512.6,234 508.6,250 509.9,256 516,262.8 522,266.1 536,271.1 552,284.2 558,284.9 570,280.6 578,288.9 583.1,300 586,303.9 592,306.6 602,307.9 610,307.2 618,303.6 622.6,300 627.7,292 628,290 626.5,288 616,280 613.2,276 612.7,270 616,266 624,264.3 630,265.9 638.7,278 640.6,284 642,285.5 650,284.3 675.9,272 712,247.6 719.5,244 727.2,242 742,234.1 782,208.1 784,204.3 787.2,202 780,200.9 762,205 754,205.4 752,206.4 734,209.1 726,209.3 722,206.8 718,205.8 691.2,208 696,201.3 700.6,198 704,193.3 708,191.2 713,190 728,179.3 742,171.2 750,164.5 754,162.3 760,156.3 764,154.2 771.7,148 773,146 908,145.7 908,521.5 900,518.8 886,510 858,495.9 826,490.2 806,482.2 790,484.5 786,483.9 782,480.9 778,475.4 772,469.6 766,466.2 758,463.8 754,461.7 744.3,450 724,431.1 712,431.1 708,427 704,425.1 693.8,426 688.9,424 686.6,422 682,415.7 676,414.1 670,415.5 666,418.1 664,421.2 663.3,424 664.2,428 670,431.5 678,431.2 682,433.2 685.2,440 684.8,446 682,450.8 675.3,458 670,465.5 663.4,468 656,473 652,474.6 644.8,490 645.7,492 648,493.1 656,493.6 662,492.9 664,493.7 666,496 665.4,502 666.3,504 676,510.6 682,519.5 689.4,534 696.4,552 700.6,570 701.7,582 701.1,584 700,585 688,580.4 686,580.8 684,587.5 682,588.4 654,570.6 634,555.7 630.5,552 628.8,548 628.8,544 633.1,536 635,530 638,524.4 647,516 648.1,514 648.3,512 646.6,508 644,505.4 642,504.9 640,505.8 638,509.3 636,510.7 630,509 618,514.8 604,514.7 598,517.8 591.9,530 589.2,542 583.8,550 583,556 584.8,564 589.7,574 593.8,578 617.5,592 626.2,600 638,607.1 642,608.2 646,607.9 663.3,618 666,618.6 681.3,630 680,630ZM628,228.1 622,228.8 616.8,228 610,223 604.1,202 600,193.5 596,190.1 583,186 577,182 567.9,168 562.1,162 552.7,146 741,146 727.3,162 690.1,198 646,217.8 632.9,226 628,228.1ZM758,147.5 757,146 759.2,146 758,147.5ZM756,148.3 756,147.8 756.5,148 756,148.3ZM332.1,198 335.9,194 336.9,188 335.2,182 332,177.6 328,175.1 322,174.2 318,175.1 312,178.2 310.1,182 310.4,190 313.8,196 318,198.7 322,199.5 328,199.2 332.1,198ZM364.6,242 366.7,240 368.5,236 368.7,230 367.3,226 365.6,224 362,222.4 358,222.4 353.3,224 351,226 349.2,230 349.1,236 350.8,240 356,243.4 360,243.6 364.6,242ZM426.2,252 430,251.5 434,249.3 436.5,246 438.8,240 439.5,234 438.8,230 436,225.9 432,224 426,225.1 422.2,228 419.4,232 416.2,240 416.2,244 418.7,248 422,250.9 426.2,252ZM572,276.5 570,277.6 568,275.4 565.8,272 565.1,268 568,262.7 570,261.4 574,260.7 576,261.2 578,263.2 578.5,268 576,273 572,276.5ZM380,356 384.9,350 385.6,344 384.1,340 382,337.4 379.6,336 376,335.6 372,337.2 366.8,342 364.2,346 363.7,350 366,354.1 370,357.3 374,357.8 380,356ZM246.7,390 252,386.4 259.2,378 262.9,372 264.3,366 263.2,360 259.4,354 254,350.6 248,349.5 240,351.1 234,355.3 229.2,362 227.2,370 228.8,380 234,387.6 240,390.9 246.7,390ZM578.8,400 586,395.9 590.2,392 592.9,386 593.2,380 591.2,374 588,369.7 582,365.9 576,365.1 568,368.2 564,371.2 559.5,378 558.8,384 560.8,392 566,398.9 572,401.1 578.8,400ZM365.2,416 367.6,412 367,406 362,401.4 358,400.6 356,401.2 354,403.1 353,406 353,410 354.3,414 356,416.2 360,417.9 365.2,416Z" fill="#e5ff00" fill-rule="evenodd"/>
<path d="M676,630 489.9,630 501.1,610 502.8,604 510,589.4 514.6,574 515.3,568 514.4,562 512,557.7 502,555.5 499.4,554 492,546.5 488,545.2 484,546.7 480,550 476,551.4 472,550.5 462,545.6 456,545.8 448,548.5 438.9,554 430,562 423.3,570 416.7,580 409.3,594 402,600.1 382,609.8 376.1,614 372,620 367.2,630 280.7,630 291.3,618 290,616 280,621.2 276,625.3 273.4,630 136,630.1 135.8,146 508.3,146 507.2,154 505.3,158 502,170 502,178.7 504.9,184 514.2,190 516.6,194 517.5,198 516.9,202 514,206.3 505.2,212 505.6,216 510,224.5 511.8,232 511.5,238 507.5,250 508.7,256 516,264.1 534,272.2 544,283.2 556,291.9 560,291.8 568,288.7 572,289.8 574.4,292 576.4,296 576.8,306 580,308.6 586,310 602,309.8 612,307.7 619.2,304 624.4,300 631,292 632.3,290 632.3,288 620,281.8 614.4,276 613.9,270 617.4,266 624,264.6 629.3,266 631.3,268 634,273.6 637.9,278 638.7,282 638.1,286 642,287.3 648,285.9 670,276.6 740,239.4 744,237 746,233.9 782,210.5 786,205.4 792.4,202 795.9,198 792,197.4 790,198.7 786,198.8 783.4,198 783.3,196 802.2,186 807,182 806,181.1 792,178.9 778,178.1 762,178.7 744,180.7 741.6,178 750,168 778.5,146 908,145.7 908,520.3 900,517.1 886,508.5 858,493.9 846,491.4 830,489.6 808,481.4 802,481.4 790,484 786,483.3 782,480.1 778,474.2 772,468.4 766,465.1 758,463 754,460.7 746,449.6 732,438 728,432.7 724,429.2 720,429 714,430.8 711.5,430 708.2,426 706,424.9 702,424.4 696,425.7 692,424.8 687,420 684,412.4 676,412.3 670,414.6 666,417.2 664,420 662.7,424 663.5,428 668,431.4 672,432.3 678,432.1 682,434.2 684.2,438 685,442 683.3,448 668,463.9 648,470.9 643.6,474 638.7,480 635.3,488 630.6,494 627.2,506 624.5,510 620,512.8 616,513.9 604,512.4 598,514.3 590.8,530 588.1,542 582.1,550 581.5,554 582.7,562 586.4,572 591.3,578 615.9,594 626,603.8 640,614.1 642,615.2 646,612.3 650,612.7 674.9,628 676.7,630 676,630ZM628,226.2 620,226.8 614.8,224 611.3,220 603.1,198 600,192.4 596,189.2 582.4,184 577.7,180 571.7,170 569.7,164 565.3,158 561.5,146 707.1,146 700.3,162 702,162.6 706,161.8 713.3,156 717.8,154 726,148.1 727,150 726,151.9 716.6,164 708,174 695.2,186 671.3,202 651.7,212 644,214.7 632.1,224 628,226.2ZM730,146.5 728.7,146 730.4,146 730,146.5ZM728,148.4 726.3,148 728,146.8 728,148.4ZM325.5,200 332,198.6 335.3,196 337.3,190 336.7,184 334,178.3 330,174.6 324,172.5 318,173 311.5,176 309.4,178 308.2,184 308.9,192 311.7,196 316,199 320,200 325.5,200ZM363.5,244 366.5,242 368.9,238 369.5,232 368.1,226 366,223.5 362,221.9 358,222 352.3,224 350.2,226 348.4,230 348.1,236 349.3,240 352,243 356,244.8 363.5,244ZM431.6,252 436,248.1 438,244.1 440,232 438.9,228 436,224.5 430,222.7 424,225.1 420,229.4 415.5,238 414.5,244 418,249.6 422,252.5 426,253.4 431.6,252ZM572,270.2 570,268.7 569.8,266 572,264.3 574,264.5 575.1,266 575,268 572,270.2ZM378.3,358 384,353.7 386,350 386.7,346 386.1,342 384,338.1 381.7,336 378,334.6 374,335.5 368,340.2 363.5,346 362.7,350 364.5,354 370,358.8 378.3,358ZM244.7,394 250,391 254,386.8 263.3,374 265.6,368 264.6,360 261.2,354 256,350.1 250,348.5 242,349.2 234,353.5 228.6,360 225.8,368 226.3,378 230.9,388 234,391.4 238,393.8 244.7,394ZM577,402 586,396.9 591.2,392 593.9,386 594.4,380 592,372 588.8,368 582,363.8 576,362.6 568,365.6 562,369.9 558,376 556.9,382 559.2,392 564,399.5 570,402.6 577,402ZM684.3,400 684.8,398 683.5,396 682,395.5 679.2,396 678,397.9 680,401 682,401.4 684.3,400ZM364.1,418 366,416.5 368,412.8 368.4,410 367.3,406 362,401 356,400.4 353.9,402 352.3,406 353.4,414 356,417.5 358,418.7 362,418.9 364.1,418ZM654,506.8 650,504.5 649.3,502 650,500.8 652,500 654.7,502 655.3,504 654,506.8ZM696,576.9 686,572.3 682,576.7 670,575 662,570.5 644,558 634,553.2 630.9,550 629.9,548 629.8,544 634.6,536 638,527.1 640,524.7 652.1,516 656,510.1 658,509.4 664,510.3 674,514.1 684,527.6 688,535 693.3,552 696.8,570 696,576.9ZM374,630 372,630 370.6,630 374,627.7 374,630Z" fill="#d3ff00" fill-rule="evenodd"/>
<path d="M674,630 499,630 500.8,620 505.3,610 506.2,604 512,590.3 515.6,576 516.1,568 514.3,560 512,557 504,555.7 500,554 494,546.7 490,543.9 486,543.5 480,548.5 476,550.3 472,549.3 464,544 460,543.4 452,544.5 442.1,548 430.9,554 422.3,560 404.5,576 394.2,588 384.4,602 376.7,608 360,615 354,618.5 333.2,626 326,629.8 283.2,630 329.1,582 330.7,580 330.7,578 330,577.9 324,579.3 322,580.8 316.5,588 306,598.2 302.1,604 292,613.4 284,616 282.4,614 287.1,602 289.6,598 288,597.8 252,623.9 248,630 136,630.1 135.8,146 503.8,146 502,160.2 498.9,170 497,188 498,211.1 499.5,214 508,223.6 511.2,232 510.9,238 506.5,250 506.6,254 508.7,258 516,265.4 534,274.7 550,299.9 556,301.7 559.3,304 564,314.4 566.5,316 572,317 594,312.2 606,310.9 612,308.9 626,300.6 636,290.9 670,277.7 716,254.8 746,241.2 752.6,236 751,234 752.8,232 784,211.3 788,206.6 798,199.7 799.4,198 795.8,194 814,185.1 818,181.7 841,146 908,145.7 908,518.9 884,505.2 858,492.4 848,490.1 831.1,488 808,480.3 802,480.7 790,483.4 786,482.7 782.7,480 778.9,474 772,467.3 766,464 758,462.2 754.4,460 746,447.7 733.2,438 728,430.7 724,427 720,426.8 714,429.9 712,429.1 709.9,426 706,424.1 702,423.6 696,425.2 691.6,424 688.7,420 687.7,416 689.3,408 689.6,396 688.5,394 686,392.7 682,392 678,392.8 676,394.4 675,398 677,408 674,411.5 668,414.8 664.6,418 662.6,422 662.2,426 664,429.4 668,431.9 672,432.8 678,432.8 682,435.1 684.6,442 682.6,448 668,461.1 652,465.3 638,471.7 630,480.3 622,482.8 618,485.3 616.4,488 616.3,490 617.4,492 624,496.8 625.4,500 625.4,504 624,508 620,511.5 616,512.7 610.7,512 602,508 600,508.4 596,512.1 593.2,522 589.7,530 587.1,542 580.8,550 580.2,554 582.4,570 584.6,574 588.9,578 612,594.3 624,606.2 630,610.4 646,624.9 648,626.2 650,625.3 650.6,624 650,618 652,617.2 656,618.4 664,623 674,630ZM626,224.4 620,224.2 617.1,222 608,208.6 602,194.4 598.6,190 585.3,184 578.4,178 573.3,168 569.6,156 568.4,146 692.5,146 687.3,164 677.6,182 678,183.4 684,179.9 686.2,180 686.4,182 676,192 665.6,200 652.3,208 641.4,212 630.3,222 626,224.4ZM808,146.9 806,147.1 804.2,146 808.9,146 808,146.9ZM328.4,200 334,198 336,196 337.5,192 337.4,184 334,176.6 328,171.8 322,170.3 316,171.1 308,175.6 306.3,182 305.8,190 309.3,196 314,199.4 318,200.7 328.4,200ZM512,204.3 506,205.2 501.4,202 500.5,198 502.8,194 508,192.2 512,193.3 514,195.3 514.9,200 512,204.3ZM361.9,246 366.2,244 369.3,240 370.2,236 369.9,230 368.8,226 366,222.7 362,221.4 358,221.6 352,223.5 349.2,226 347.1,232 347.1,238 348.8,242 352,244.8 356,246.2 361.9,246ZM430,254 434,251.6 436.8,248 439.1,242 440.6,234 440.4,230 439,226 436,222.8 432,221.4 426,222.6 421.5,226 414.2,238 412.7,244 414.1,248 420,253.4 426,254.8 430,254ZM634,284.3 626,283 618,279.1 614.8,274 614.9,270 616.1,268 618.7,266 624,265 628,265.7 630,267.1 633.2,274 636.7,278 637.4,280 636,283.4 634,284.3ZM375.2,360 380,358.6 383.5,356 386.3,352 387.6,348 387.3,342 385.3,338 382,334.9 378,333.7 374,334.8 367.7,340 362.7,346 361.6,350 362.9,354 368,359.6 372,360.7 375.2,360ZM245.3,398 250,394.9 254,390.2 265,374 267.2,368 266,360 262,352.7 258,349.4 250,347.2 242,348 233.4,352 226.4,360 224,368 225.3,382 230,391.8 236,397.2 242,398.4 245.3,398ZM576.4,404 590.8,394 594.4,388 595.7,380 593.9,372 590,366.4 582,361.5 578,359.9 574,359.5 566,363.5 559.7,368 556,374.2 554.9,380 556.8,390 562,400.1 566,403.3 570,404.7 576.4,404ZM362.2,420 366,417.7 368,414.7 368.5,408 366.3,404 364,401.9 360,399.8 356,399.6 354,400.7 352,404 351.6,408 352.5,414 356,419 360,420.3 362.2,420ZM690,570 684,568.2 680,570 672,566.4 662,564.6 656,561.8 644,553.4 636,551.6 633.1,550 631.5,548 631.2,544 635.6,538 637.7,530 640,526.6 650,520.8 662,515.9 668,516.2 676,520.5 685.5,534 688.9,544 692.2,562 691.8,568 690,570Z" fill="#c1ff00" fill-rule="evenodd"/>
<path d="M644,630 503.6,630 503.5,620 507.3,612 508.7,604 514.4,590 517.1,576 516.6,566 514.9,560 512,556.2 504,555.4 500.7,554 492,543.3 486,540.9 483.1,542 478.3,548 476,548.8 472,548 466,542.1 464,541.5 456,541.6 446,543.6 427.1,550 406.2,560 379.2,576 357,592 336.1,610 316.6,630 312.2,630 317.6,620 321.4,616 326.8,606 330.5,602 333.8,596 333.9,590 337.3,576 334,573.2 328,575.1 326,575.4 324,574 322,574.8 300,588.8 296,588.6 294,589.8 250,621.7 248,624 245.4,630 136,630.1 135.8,146 498,146 496.8,164 490.9,192 491,202 492,207.9 494.4,212 497.5,216 506,223.1 510.1,230 510.2,238 505.4,250 505.4,254 508,258.6 516,266.9 530,274.3 534.1,278 541.1,292 542,298 540,310 546,319.2 547.4,324 547.1,328 548.3,330 554,334.4 566,334.9 568,334.4 572,330.9 575.3,324 584,318.4 594,314.6 610,311.3 627,302 638.6,292 670,278.9 716,256.8 734,249.2 746,243.2 760,232.6 794,216.8 798.8,212 804,204.6 804.3,202 801.8,200 811.1,192 820,181.5 842.7,146 908,145.7 908,517.4 896,510.8 874,495.5 866,491.7 850,487.9 830,485.4 810,479.5 804,479.6 790,482.9 786,482.1 783.5,480 780,474 772,466.3 766,462.9 758,461.3 754,458.4 746,445.4 734,437.6 726,425.3 720,424.7 714,426.7 704,422.9 702,422.7 696,424.6 692,423.2 689.7,418 694.3,404 693.7,398 692,392.9 690,390.5 688,389.8 678,390.4 676,391.3 673.9,394 673.3,398 674.4,406 673.2,410 664,417.8 662.1,422 661.5,426 663.6,430 666,431.5 670,433.1 678,433.5 682,436 684,440.4 683.2,446 680,449.9 666,459.7 654,462.1 642,463.2 636,465.3 628,472.2 616.5,480 611.6,488 611.4,492 613.4,494 620,497 622.9,500 623.6,504 622.3,508 618,511.1 614,511.4 608,508.7 604,503.6 602,502.5 599.1,504 593.6,512 591.9,522 588.6,530 586.2,542 580.8,548 579.2,552 581,564 580.7,570 582,574 611,596 624,612.1 626,613 628,611.8 630,613 639.5,622 645.7,630 644,630ZM628,214.6 622,215.6 612,211.5 608,206.5 600,190.2 596,187.1 586,182.8 580.7,178 575.2,166 574,158 574.2,146 684,146 674.3,174 670,182 664.2,190 658.7,196 650,203.2 634,212.4 628,214.6ZM330.3,200 336,196.9 338,192 338.1,184 335,176 330,170.9 324,168.2 316,168 310,170.5 306,174 303.7,180 302.3,188 304.6,194 310,199.1 316,201.5 322,201.5 330.3,200ZM428.1,256 432,254.5 436.5,250 439,244 441.1,234 441,228 439.2,224 436,220.9 432,219.8 426,221.1 420,226 412.7,238 410.7,244 411.1,248 414.3,252 420,255.3 428.1,256ZM365.8,246 369.8,242 371,238 370.6,230 368.5,224 366,221.9 362,220.8 356,221.5 350,224 347.1,228 346.1,232 345.5,238 346.7,242 350,245.4 354,247.2 360,247.8 365.8,246ZM634,281 626,281.2 620,279.4 615.8,274 615.9,270 617,268 622,265.5 628,266.1 630.2,268 632.7,276 634.6,278 635.1,280 634,281ZM373.1,362 382,359.1 386.5,354 388.9,348 388.6,342 386.7,338 384,334.9 380,332.7 376,333 372,335.5 363.4,344 360.8,348 360.9,354 364,359.2 368,361.7 373.1,362ZM248.2,402 254,395.8 260.2,384 267.1,374 269,368 266.9,358 262,350.3 256,346.8 248,345.7 242,346.5 236,348.5 226.7,354 222.9,360 221.9,370 224,385.8 226.3,392 230,398.1 234,401.6 240,403.7 244,403.7 248.2,402ZM577.6,406 590,396.3 593.7,392 596.4,386 597.3,378 594.2,368 590.7,364 580,357 572,355.1 569.2,356 556,365.9 552.7,372 552.6,378 555.2,390 558.7,398 562,403 566,405.9 570,407.4 574,407.4 577.6,406ZM364.9,420 369,414 369.3,410 368,406 364,401.5 360,399.2 356,398.8 354,399.5 351.8,402 350.9,406 351.6,414 353.3,418 358,421.6 362,421.5 364.9,420ZM682,562 678,563.6 658,557.5 642,547.2 636,548.5 634,547.7 633.2,544 637.7,540 638.2,532 640,528.4 644,525.5 660,519.7 668,519.7 674,522.3 681.4,532 685,542 685.6,552 683.6,560 682,562ZM670,630 657.1,630 655.3,622 657.9,622 662.1,624 671.8,630 670,630Z" fill="#b0ff00" fill-rule="evenodd"/>
<path d="M634,630 505.9,630 506,623.1 512.1,610 513.5,602 516.9,592 518.8,576 517.4,566 515.5,560 512.8,556 501.3,554 499.1,552 494.6,544 492,541.4 486,538.2 482,537.7 480,538.1 478.1,540 478.1,544 476,546.5 473.2,546 471.8,544 471,540 468,539 462,539.1 439.2,542 388.4,552 365.7,560 350,567.4 344,571.4 341.6,570 346.1,560 344,558.5 342,559.1 330,564.4 304,583.1 294,587.4 290,591 280,597.3 276,601.1 249.5,620 246.2,624 243.8,630 197.2,630 205.5,618 206,615 204,614.9 201.7,616 192.7,624 187.5,630 136,630 135.9,146 492.7,146 492.5,166 487.2,194 487.6,202 489.7,212 492,215.1 504,222.7 508,227.1 509.4,230 509.6,238 503.9,252 505,256 514,266.8 529.1,276 534.1,282 537.5,294 534,308 533.5,314 538.4,322 538.4,326 540.9,330 545.3,344 544.8,356 552.1,386 555.9,396 560.2,404 566,409.2 574,412.8 578,410.9 585,402 592.4,396 597.3,388 599.1,380 598.8,374 595.8,366 592.3,362 581.8,354 575.6,346 578.1,342 577.4,336 578.6,328 579.5,326 583.9,322 594,316.7 610,313.2 624,305.9 634,297.8 649.4,288 668,281.1 678.8,276 686,274 704,264.3 740,249.3 764.1,236 788,224.5 794,219.8 804.7,208 810.9,196 825.8,176 844.4,146 908,145.7 908,515.9 874,493.2 858,484.9 828,482.9 808,478.2 790,482.4 786,481.4 784,479.7 780,472.7 772,465.3 766,461.8 758,460.3 754.9,458 746.8,444 734,436.4 728,424.2 726,422.8 712,423.6 702,421.7 696,424.1 692,422 691.7,418 695.6,412 699.6,398 697,396 695.5,390 692,386.8 686,386.2 676,388.3 674,389.9 672.2,394 672.1,408 664,416.7 661.5,422 660.8,426 662.6,430 666,432.1 670,433.6 678,434.2 681.2,436 683.5,440 682.7,446 680,449.1 670,455.5 662,458.4 652,458.9 644,453.8 636,452.8 624,455.7 616.8,460 614,465 612.8,476 610.1,484 604.5,496 595.7,504 592.6,510 590.5,522 587.4,530 586.1,540 584,543.7 579.6,548 578.2,552 579.9,564 579.4,572 580.1,574 610.3,598 624,617.2 633.2,626 635.6,630 634,630ZM624,210.3 616,211 612,209.5 608,204.9 600,188.9 596,186 587.2,182 582.9,178 579.9,172 578,163.5 578.3,156 580.5,146 672.2,146 673,156 672.3,162 665.1,180 658.9,190 651.4,198 642,204.9 634,208.7 624,210.3ZM323,202 334,199.3 337.3,196 339,188 338,179.8 334,172.1 328,167.1 320,164.5 312,165.2 306.2,168 302.4,172 300.5,176 299.3,184 297.6,188 300.7,194 308,200.6 314,202.7 323,202ZM464.8,216 465.9,214 464,212.6 462,213.9 463.1,216 464.8,216ZM432.1,256 436,252.5 438,249 442.1,230 441.7,226 439.8,222 436,218.7 432,218 426,219.5 420,224 410.8,238 407.7,246 409.1,252 411.2,254 420,257.3 424,257.7 428,257.7 432.1,256ZM365.2,248 370,244.9 371.9,240 371.4,230 369.5,224 366,221 362,220.3 354,221.6 348.5,224 345,230 343.5,236 343.5,240 345.5,244 350,247.5 354,248.9 360,249.4 365.2,248ZM628,279 622,279.3 618,276.4 616.4,272 617.9,268 624,265.6 626.7,266 629.7,268 631.2,274 630,277.3 628,279ZM372.7,364 380,362 384,359.4 387.9,354 390.1,348 390.3,344 388.2,338 384,333.2 380,331.3 374,333.1 360.8,346 357.2,354 352.2,360 351.8,362 352.7,364 356,365.2 362,363.7 372.7,364ZM251,410 254,408.1 256.8,404 261.8,386 270.9,372 270.5,364 266,352.5 262,347.6 254,344.4 246,344.3 232,346.7 225.8,342 222,340.6 218,341 212,343.4 209.2,346 208.3,350 210,354.3 218,362.2 222,388.8 226.8,402 230,405.9 238,411 244,412 251,410ZM364.5,422 368,418.4 369.7,414 369.7,410 368.4,406 362,399.7 358,398.1 354,398.3 351.8,400 350.4,404 350.5,412 352,418.4 354,421.4 358,423.5 362,423.3 364.5,422ZM616,510.3 612,509.1 608.5,506 607.7,502 610,498.5 614,497.5 618,498.2 620.7,500 621.8,502 621.9,506 620.7,508 616,510.3ZM676,556.6 672,556.9 660,554.1 652.2,550 640.3,538 639.2,534 640.3,530 644,527 658,522.5 668,522.6 674,525.1 676.4,528 679,534 681,544 680.2,550 676,556.6Z" fill="#9efe00" fill-rule="evenodd"/>
<path d="M624,630 511,630 514.2,618 520.6,602 524,597 532,592.7 532.6,590 532,588 528.6,586 524,585.5 522.6,584 518.8,568 514,556 512,554.7 502,554 498.4,550 496,543.8 492,539.4 486,535.6 478,533.8 462,537.1 438,538.9 424,541.5 406,541.4 392,546 370,556.1 366,557 348,564.9 347.3,564 349.3,558 348.3,556 342,556.9 328,563.6 304,580.9 300,582.1 299.1,580 298,579.9 254,611.3 252,611.4 249.1,608 252.2,594 250,594.4 242,606 240.5,610 241,616 243,622 239.1,630 223.1,630 224.2,628 224,625.7 221.4,626 213.9,630 206.4,630 216.6,614 220.4,610 225.2,598 224,596.8 218,598.8 214,599 210,604.6 206,606.7 176.3,630 136,630 135.9,146 487.9,146 489.5,162 489.1,176 482.6,200 483.2,204 486.2,212 490,217.5 502,222.6 506,225.9 508.7,230 509.5,234 509,238 502.5,252 503.7,256 516,270.6 528,277.7 531.4,282 532.6,286 532.8,294 530.9,302 530,316 537.8,336 534.9,348 535.4,354 544,367.3 545.5,374 552.4,392 559.2,406 572,419.2 576,421.4 584,420.6 589.3,416 586.7,410 586.3,406 588,403 593.4,398 598.3,390 600.6,384 601.8,378 601.6,374 596.5,362 584.7,352 581.4,346 582.8,328 588,322.1 596,318.1 612,314.7 624,309.1 634,299.6 654,286.6 672,281.5 688,275 704,265.9 746.7,250 754,246.5 782,236.8 790.3,228 796,220 806,209.9 808.2,206 816.7,196 822.3,186 832,174 833,168 848.3,148 848.9,146 908,145.7 908,513.2 887.8,498 857.4,482 852,480.7 842,481.5 828,481.1 808,477.2 790,481.9 786,480.7 783.7,478 780.8,472 772,464.3 766,460.6 760,459.9 756,457.7 751.3,448 747.1,442 740,439.1 734,434.9 728,421.2 726,420.7 710,422.5 700,420.3 696,423 693.5,422 693.1,420 694,418 696.8,416 697.9,414 699.5,406 704.5,396 704.5,394 701.9,392 699.6,388 694,383.3 686,379.9 679.6,380 676,382.7 672,388.3 670.8,394 671.3,404 670.5,408 662.5,418 660.1,426 661.4,430 664.3,432 670,434.3 678,434.9 682,437.7 683,440 683,444 680,448.3 668,454.7 662,456.2 654,455.7 644,450 628,450.3 602,442.6 598,443.6 596,445.6 595.3,448 596,452 601.6,458 603.8,462 606.6,476 606.5,482 600.5,496 594,502 591.6,506 588.8,522 586.3,528 585.2,540 577.7,550 577.2,556 579,566 577.9,572 580,576.2 598.2,590 607.7,600 622,622 625.7,630 624,630ZM624,208.3 616,209.3 612,207.8 608,203.5 600,187.4 588,180.8 583.7,176 581.8,170 582.1,160 587.4,146 661.2,146 664,156 664.5,166 662.9,174 658.3,184 651.1,194 642.1,202 634,205.9 624,208.3ZM318,204 332,200.5 336.8,198 339.1,192 339.4,182 336,172 330,165.3 322,161.1 312,160.3 305.6,162 299.5,166 296,172 294,181.4 290.4,184 290.5,186 295.2,194 302,200.4 310,204.2 318,204ZM468.1,220 471.8,216 472.4,212 471,210 466,206.6 462,206.7 459.4,208 456.4,212 456.2,214 458.1,218 462,220.5 468.1,220ZM431.7,258 436,254.4 438.5,250 443.2,228 442.9,224 441,220 438,216.9 434,215.9 426,217.5 419.6,222 405.2,242 403,250 403.6,252 408,257.2 414,257.2 420,259.5 428,259.4 431.7,258ZM364.7,250 371.8,246 373.5,242 371.7,228 370,223 366,220.2 362,219.7 352,221.5 346.3,224 341.3,232 340.1,236 340.3,240 342.3,244 346.8,248 352,250.2 360,251.1 364.7,250ZM626,278.5 621.4,278 617.5,274 617.5,270 618.8,268 622,266.3 626,266.2 628,267.1 630.2,270 630,274.9 626,278.5ZM359.8,370 366,367.4 376,365.3 382,363 385.5,360 388.1,356 391.5,348 391.5,342 388.7,336 384,331.2 380,329.8 376,330.7 374,332.1 356,349.8 350,354.6 348,357.4 346.4,364 348.6,368 354,370.9 359.8,370ZM250.1,424 258.1,416 267,402 267.3,398 265.6,390 266,386.3 274,375.4 273.8,368 268,352.4 264,346.2 258,342.8 248,342.3 236,344.2 232,343.4 226.5,340 222,338.5 216,338.5 210,340 205.6,344 204.9,350 206.6,354 215,364 216.7,368 219.7,394 223.1,408 230,417.3 236,422 242,423.4 246,425.7 250.1,424ZM364.6,424 368,420.6 370,416.1 370.5,412 369.7,408 367.5,404 362,399.2 358,397.2 354,396.9 351.7,398 349.7,402 349.8,414 350.9,420 353.8,424 356,425.3 360,425.8 364.6,424ZM601.2,418 602.4,416 602.2,414 600,412.4 596,412.9 592.5,416 593.2,418 596,419.6 601.2,418ZM259.5,464 259.9,452 259.6,450 258,449.5 256.9,452 256.4,462 258,465.3 259.5,464ZM618,508.4 614,508.4 611.3,506 610.7,504 612,501.2 616,499.7 620,501.9 620.4,506 618,508.4ZM668,552.1 660,551.2 654,548 642,537 640.7,534 641.9,530 644,528.5 650,527.7 660,524.2 666,524.7 672.8,528 676.2,534 677.8,542 677.5,546 676,548.5 668,552.1Z" fill="#8cfe00" fill-rule="evenodd"/>
<path d="M612,630 518.2,630 519.3,618 522.2,610 526,603 534,596.3 535.7,592 535.1,588 532.1,584 524,578.3 514,554.9 512,553.9 506,554.5 502,553.5 499,550 497.4,544 494.7,540 488,534.4 482,531.5 476,531.6 462,535.4 440,536 422,539.5 406,538.6 358,555.8 355.9,556 354,552.8 344,552.7 340,551.6 334.5,554 328,557.9 324,561.6 318,563.9 308,571.6 300,575.5 254,608.7 252,608.5 251.3,606 254.7,594 253.8,588 257.1,580 256.2,578 240,590.1 238,588.6 236,588.8 220,595 218.9,594 222,584 225.7,576 242,528.5 248.6,516 258.9,482 262.1,478 263.1,468 267.5,452 271,434 272.3,430 274,428.8 276,424.7 278.6,406 282.3,394 283.2,386 281.9,380 268,347.6 266,344.2 262,340.5 256,338.9 236,341.9 224,337.5 214,336.3 208,337.2 204,339.5 201.5,344 201.5,348 204.1,354 212,364 214.9,370 216.2,380 217.1,412 224.4,430 228,434.4 234,434.7 236,436 237,444 238,445.3 242,445.6 248,444.3 252.3,442 260,432.1 268,419.4 270,420.4 270.3,422 269.4,428 268,430.2 267.5,434 262.9,442 256,446.9 253.9,450 254,459.4 251.3,470 243.7,486 220,510.9 215.3,514 193.8,536 164.4,584 158,592.8 149.4,608 139.9,622 136,626 136,145.9 485.3,146 487.4,164 487.3,176 482.2,194 476,202.3 472,203.7 462,203.2 456.1,206 452.4,210 452,214 453.9,218 456,220 462,222.8 469.7,222 476,216.9 482,215.4 488.5,220 498,222 504,225.2 507.9,230 508.8,236 507.6,240 501.5,250 501.3,254 503.6,258 516,273.3 524.5,278 528.1,282 529.2,286 527.1,302 528.3,320 531.7,328 529.7,346 531.4,356 540.7,370 554.9,402 560,411.2 566.5,420 570,429.1 577.1,432 579.4,434 583.1,444 588.3,450 596,466 595.9,470 593,480 596,490 595.8,494 591.7,500 587.8,512 586.4,522 584.5,528 584.2,540 578,547.2 576.9,550 576.4,558 578.1,566 576.4,572 578,576.1 593.7,588 602,598 607.3,608 611.1,618 613.9,630 612,630ZM626,206.2 618,207.8 612,206.5 608,202.3 600,185.7 589.4,180 586,176 584.4,170 586,162.2 590,155.8 598.9,146 651.5,146 655.9,156 657.7,164 657.5,174 655.2,182 650.7,190 643.2,198 636,202.6 626,206.2ZM908,511.3 888,495.2 880,491.7 868,484.5 852,478.7 842,480 826,479.3 808,476.2 790,481.3 786,480 782.3,472 778.3,468 768,460.3 764,458.6 759.1,458 756.7,456 754.5,450 748,440.7 746,439.2 740,437.6 734.8,434 733.1,430 731.6,420 730,419 726,418.7 720,420.5 708,421.6 703.2,420 700.8,418 700.2,414 701.1,408 705.5,400 712.4,392 712.5,386 710,385 706,387.1 704,386.8 699.3,382 694,378.4 686,375.4 682,375.2 678,376.6 672,382.4 669.5,390 669.7,406 662,417.7 659.2,426 660.1,430 664,432.7 670,435 680,436.4 682.6,440 682.5,444 681.4,446 678,448.7 664,454 654,452.5 644,446.4 638,445.6 630,446.8 626.8,446 618,439.7 610.3,436 605.2,430 604.6,426 607.1,418 606.4,414 604,410.6 598,407.2 596,404 596.1,398 603.2,386 605.3,376 602.8,366 600.3,362 596,357.1 588.8,352 586.3,348 585,334 586.2,328 591.8,322 600,318.5 608,317.5 618,320.5 622,320.1 624.2,318 631.5,304 654,287.6 674,283.5 692,275.2 704.6,268 734,256.1 748,251.4 754.9,248 782,238.7 792,228.5 800,217.6 807.9,210 810,205.5 825.3,192 824.6,188 834,174.5 833.9,170 834.9,168 850,148.3 850.6,146 908,145.8 908,511.3ZM316.5,206 334,200.6 337.8,198 340.2,188 339.5,176 337.2,170 334,165.2 326,158.3 316,154.5 310,154 304,154.7 296,157.9 291.8,162 288.8,168 285.4,184 290,194.5 296.6,202 302,205.3 308,207.2 312,207.3 316.5,206ZM431.7,260 436,256.5 438.7,252 444.9,226 444.9,222 443.5,218 440,214 436,213.1 428,214.3 418.7,220 410.1,232 401.3,240 396.6,250 398.9,256 406,261.8 412,260.1 420,261.6 428,261.4 431.7,260ZM364,252 373.4,248 375.6,244 372,225.2 370,221.1 366,219.2 360,219.3 340,222.5 336.1,224 334,226 330.7,232 331.3,238 336,240.5 342,247.5 346,250.1 352,252.2 358,252.8 364,252ZM628,276.3 624,277.8 619.8,276 617.9,272 619.6,268 624,266.4 628.5,268 630,272 628,276.3ZM669.7,308 670.3,306 669.4,304 668,303.3 666,303.9 665,306 665.6,308 668,308.9 669.7,308ZM258.3,330 260,329.2 261.6,326 261.1,324 258,322 254.2,324 253.7,326 256,329.8 258.3,330ZM357.3,374 382,365 386,362.1 389.7,356 392.9,348 393.3,342 390.8,336 384,328.8 380,327.8 376,329 366,339.9 350,350.8 345.5,356 342.5,362 342.4,364 345.1,370 350,374.1 357.3,374ZM625.3,338 627.4,336 627.4,334 626,332.1 624,331.8 622,333.8 621.9,336 623.8,338 625.3,338ZM362.1,428 366,425.6 369.8,420 371.2,414 370.8,410 367.8,404 362,398.7 356,395.6 352,395.6 349.4,398 348.5,402 349.4,422 351.6,426 354,427.8 358,428.8 362.1,428ZM618,506.3 616,506.8 614.3,506 614,503.5 616,502 618,502.9 618.6,504 618,506.3ZM666,548.3 660,548.2 656,546.7 652.7,544 648,537.5 644,535.9 642.7,534 642.8,532 645.8,530 650,530.5 658,526.3 664,526.4 668,528.2 672.9,534 674,540 672.7,544 666,548.3ZM236,630 225.5,630 230.1,622 231.3,618 236,612.9 238,612.1 240.8,622 236.9,630 236,630Z" fill="#7bfd00" fill-rule="evenodd"/>
<path d="M608,630 520.7,630 522,616.5 526,608.7 532,603.1 536,597.5 537.5,592 536.9,588 534.6,584 529.1,580 524,574.3 514,553.7 512,552.9 504,554 502,553 499.6,550 498.7,544 496.5,540 488,532.1 482,529.3 476,529.9 460,534 442,533.6 420,535.2 410,534.1 388,536.1 379.1,538 368,542.5 364,542 358,547.5 356.4,546 356,542.8 354,542.7 346,547.2 340,547.8 328,555.5 322,560.6 318,561.5 312,565.5 306,570.6 300,572.8 294,578.2 284,584.4 280,588.2 256,604.8 254.4,604 254.6,600 256.4,594 256.5,590 259,586 260.9,576 263.4,570 262,568 258,569.9 240,583.5 232,587.9 229.7,588 230,584 235.3,570 236,564.6 254,512.5 258,507.1 260,506.5 262,511.2 264,510.2 267,504 272,497.6 275.3,482 274,468 276,439.7 279.8,426 281.9,422 288.6,390 288.4,386 286,379.1 276,362 269.7,344 266,338 265.5,334 266.5,328 265.7,324 262,320.5 258,319.4 254,320.7 252,322.7 250.8,326 250.7,334 249.3,336 245.3,338 236,339.7 218,334.8 208,333.7 202,335.3 197.8,340 197.3,344 199.2,350 211,366 213.3,372 213.7,386 209.4,420 212.8,424 213.2,426 212.8,448 214,450 218,450.2 224.3,460 223.6,466 218,484 217.7,488 220,491.8 225.4,496 225.8,498 217.6,508 214,510.2 191.2,534 178.4,556 171.2,566 162.4,582 155.2,592 146.3,608 136,622.4 136,145.9 289.7,146 286,151.2 282,152.8 279.6,156 277.1,164 278.2,170 282.9,186 289.1,198 294,204.4 304,212.9 306,213.5 312,211.6 323.7,204 337.1,200 339.6,196 340.8,190 341.2,176 339.7,170 336.9,164 328,153.7 314.5,146 483.2,146 485.7,164 484.8,178 482.4,188 480,192.5 472,199.2 460,200.8 452.9,204 446,209.4 432,210.3 424,213.3 404,226.1 400,230.4 394,240.4 388,243.6 380,242.8 378,241.1 374.3,232 372.4,222 371.1,220 368,218.5 364,218.2 350,220.4 338,220.2 334.1,222 325.7,228 324,230 323.6,234 324.9,238 328,242.2 334,244.4 340.9,250 346,252.7 352,254.2 360,254.4 378,250.1 394,256.8 398.9,264 402,266.7 404,267 412,263 422,263.9 430,263.1 436,258.9 439.9,252 441.8,240 444,233 448,223.6 450,221.7 452,221.6 460,224.3 466,224.5 472,223.4 478,220 482,219.2 488,222.2 500,223.9 506,228.2 507.9,232 507.7,238 500.9,248 499.4,252 500.6,256 511.8,270 518,282.4 520.7,286 521.5,298 524.5,306 525,322 527.6,328 526,332 525,340 525,348 526.2,354 530.4,362 542,378.2 554,404.6 563.3,422 566.4,432 568,434.3 570.9,436 572.4,440 574.2,452 576,456.9 580,463.1 586,468.1 587.6,472 590.4,496 588,504.8 581.4,520 582.8,540 576.6,548 575.4,558 576.8,566 574.6,572 575.9,576 577.7,578 589.9,586 596.6,594 601,604 608.6,630 608,630ZM620,206.3 614,206.2 610,203.7 607.4,200 602.8,188 600,183.4 592,179.6 588.5,176 587.2,172 587.7,168 592,161.2 610.7,146 639.8,146 646,151.3 651,162 652.6,172 650.9,182 646.9,190 639.1,198 630,203.1 620,206.3ZM908,510.2 888,493.6 880,490.3 866,480.9 860,478.9 852,477.1 842,478.3 824,477.7 808,475.3 792,480.3 787.3,480 785.4,478 784,472.2 782.3,470 761.3,454 748,438.4 746,437 740,435.9 736,433.1 734.5,428 736.2,420 732,413.9 718,419.8 708,420.8 705,420 702.7,418 702.1,412 705.2,404 716,392.9 722,392 723.2,390 722.8,386 720,384 714,383.6 712,382 708,382.2 698,375.3 692,373.1 686,372 680,372.2 676,374 669.8,380 667.9,386 669.2,400 668.5,406 662,416.1 658.3,426 658.4,430 662,432.9 670,435.8 678,436.2 680,437.1 682,439.8 682.4,442 680.7,446 678,447.9 666,451.7 662,451.8 655.8,450 644.7,442 643.3,438 644.3,432 643,430 640,428.5 636,429.8 634.8,432 636.1,440 630,439.8 624.8,436 620.8,430 619.8,424 618,420.8 612,415.7 607.8,410 600.7,406 599,404 598.4,398 602,393.2 606,392.5 612,396.5 614.1,396 615.4,394 615.2,392 614,389.6 610,386 609.3,384 609.9,376 607.3,364 600.5,356 591.1,350 589,346 587.6,334 588.9,328 595.2,322 604,319.1 610.1,320 619.8,326 620.3,328 618.9,336 620,339.5 624,342.5 626,342.7 628,341.5 630,337.7 630,333 628,329.5 623.1,326 627.5,318 631.1,308 634,304 646,296 652,289.8 658,287.5 670,287.8 674,286.9 709.9,272 722,265.7 742,257.1 776,243.7 784,238.9 795.9,226 801.1,218 809.3,210 811,206 827.6,192 826.4,188 829.6,182 834.7,176 836.6,168 850.2,150 851.8,146 908.2,146 908,510.2ZM626,276.7 622,276.6 619.2,274 618.9,270 620.4,268 624,266.8 628,268 629.4,272 628,275.2 626,276.7ZM669.5,310 671.3,308 671.7,304 670,301.4 668,300.9 664,303.3 663.2,306 663.8,308 665.8,310 669.5,310ZM355.2,378 370,371.3 382,367.1 386,364.6 388,362 393.8,350 395.4,342 394.5,338 392.2,334 388,328.7 384,325.4 380,324.8 376,326.7 369.1,336 364,341.1 358,344.5 348.9,348 343.1,354 337.3,366 338.7,372 341.7,376 346,378.8 350,379.5 355.2,378ZM632.1,356 634,352.8 633.7,350 630,346.8 626,347.4 624.2,350 624.1,354 625.7,356 628,356.9 632.1,356ZM361.5,432 366,429 370,423.4 371.9,416 371.4,410 368.3,404 360,396.6 354,393.1 350,392.9 348,395.2 347.2,398 347.9,410 346.5,422 347,426 349.3,430 352,432 356,433 361.5,432ZM666,544.4 662,545.6 658,545.1 654,542.4 652.4,540 651.4,534 656,528.9 662,527.9 666,529.7 668.4,532 670.1,536 670,539.4 668.7,542 666,544.4ZM254,606.1 253.9,606 254,605.4 254.1,606 254,606.1ZM234,630 227.8,630 233.6,620 236,617.7 238,619.9 238.4,622 234,630Z" fill="#5ffa00" fill-rule="evenodd"/>
<path d="M602,630 522.9,630 524.7,620 532,609.4 538,597.9 539,592 538,586.8 536,583.5 530,578.6 524.5,572 514,552.4 512,551.9 506,553.7 502,552.5 500.3,550 500,544 498.2,540 490,531.9 484,527.6 476,528.4 464,531.9 458,532.6 438,531.3 424,529.6 418,527.8 408,527.7 392,530.7 368,540.3 365.8,540 364,535.9 361.2,538 360,541 354,540.4 346,544.9 338,546.7 326,554.4 322,558.2 318,559.2 310,564.5 306,568.2 304,568.2 303.5,566 304.9,558 304,556.6 300,557.6 282,570.9 264,581.5 262.6,580 262.4,578 266,569.2 269.4,564 271.4,552 288,525 295.6,508 296.7,484 295.6,464 296.7,454 296,446.2 290,435.3 287.5,426 289.7,418 289.3,406 292.6,388 292.2,384 287.8,374 280,364 275.5,356 270.5,336 269,324 265.7,320 260,317.5 256,317.8 252,320 249.3,324 246,333.7 240,337 232,337.3 210,330.7 204,329.8 196,331.5 192.2,336 191.6,340 193.4,346 209.1,366 210.8,370 211.8,376 211.2,384 208.9,394 196.8,430 196.5,432 199.8,434 199,440 189.1,476 168,525 152,556 142,571.8 136,579.4 136,145.9 263.5,146 266.7,156 268.8,172 271.1,180 274.7,188 281,198 282.2,202 289,210 289.3,216 292,226 294.4,230 300,233.1 310,232.8 314,233.9 326,246.4 332,247.6 338.8,252 346,255.1 358,256.3 374,253.8 378,254.5 390,261 396,268.2 400,271.1 404,270.9 412,266 424,266.4 430,265.5 434,263.4 438,259.3 440.7,254 441.9,242 444,235 448,228.1 452,225 464,226.2 472,225.5 482,223.2 488,224.4 498,224.6 502,225.9 504.8,228 507.2,232 507,238 504,243 498.8,248 497.4,252 498.7,256 507.4,266 511.3,272 512.4,276 512.1,284 513.1,290 519.5,304 520.9,316 524.1,328 520.8,338 520.3,348 521,352 527.2,364 534,373.4 540,379.6 544.8,388 552.3,406 557.6,416 562.9,432 565.4,436 566,438 565.5,448 567.7,456 574,466 581.7,474 584,478.5 587.4,498 586.9,502 584,509.7 578,514.4 575.8,518 575.8,522 579.7,530 580.7,540 575.7,548 574.2,560 574.8,566 572.4,572 576,578.5 588,585.8 593.4,592 596.1,598 602.6,622 603.7,630 602,630ZM388,238.3 382,239.3 380,238.8 378,236.8 375,230 373.7,220 372.1,218 370,217.1 364,217.2 352,219.5 340,217.8 328,222.6 324,223.3 320,222.2 317.7,220 316.6,218 316.5,214 319.9,208 325.4,204 338,200.8 340,198 341,194 343.1,178 342,168.5 338,158 330.1,146 481.2,146 482.8,152 483.2,176 480.3,186 474.2,194 470,196.3 460,198.1 444,204.3 426,208.8 414,216.4 398,218.4 395.4,222 393,234 391.7,236 388,238.3ZM908,509 888,492.2 880,488.5 866,479.1 860,476.8 846,475.1 838,476.3 822,476.3 808,474.3 798,478.4 790,480.1 788,479.5 786.4,478 784.7,470 767.2,456 764,451.4 756,444.7 748,435.4 746,433.9 740,433.2 738,432 737.4,428 739.7,424 739.6,420 737.7,414 734,410.9 730,409 724.1,416 718,418.9 708,420.1 704.1,418 703.3,416 703.9,412 706.2,406 709.3,402 716,396.4 720,396.2 724,397.2 726.1,396 724.6,384 720.3,380 720,377.4 716,377 712,373.4 706,373.4 700,371.1 686,369.1 670,368.7 665.7,370 664.4,374 664.5,382 668,397.2 668,403.6 661.2,416 656.2,430 658,432.8 670,437 678,436.9 680,437.8 681.9,442 680,445.9 678,447.1 672,447.7 666,449.5 660,448.9 651.3,442 649.9,440 649,434 644.4,428 638,426.3 630,430.4 628,430.2 625,428 621,420 610,406.7 601.8,404 600.4,400 602,396.8 604,396 606,396.4 612,400.7 616,399.5 618.6,396 618.9,392 615.1,384 616,374 614.5,368 615.8,362 612,355.8 598,350.5 594,348 591.7,344 590,336 591.1,328 595,324 604,320.5 610,322 615.2,326 616.4,328 616.9,338 618.7,346 617.4,352 618.2,356 622,359.4 626,360.8 630,360.6 634,358.7 636.1,356 637,352 636,348.3 632.1,342 631.6,332 628.2,324 634,307.1 646,297.8 654,290 660,289.1 668,292.4 672,292.7 706,278.3 722,269.5 778,246.5 789.7,236 802,218.9 810,210.9 812.5,206 828,193.4 829.1,190 828.4,188 830,184.3 835,178 839.5,168 852,151.5 854.2,146 908.2,146 908,509ZM622,204.6 616,205.5 612,204.3 610,202.6 607.1,198 602,182.7 600,179.9 592,176.1 590.9,172 592.9,168 600,163.8 610,154.6 618,150.6 624,149.5 634,151.5 642,156.7 646.8,166 648.1,176 645.5,186 640,194 632.2,200 622,204.6ZM386.8,200 387.8,196 386.7,194 384,192.7 380.4,194 379.2,196 380.1,200 384,201.9 386.8,200ZM624,276.2 620.1,274 619.4,272 619.6,270 621.3,268 624,267.2 627.1,268 628.7,270 628.9,272 628,274.2 624,276.2ZM360.3,438 366,433.3 370,427.8 372.3,422 372.9,414 371.3,408 368.8,404 354.6,390 353.2,386 355.8,382 361.5,378 386,367.2 388.9,364 393.7,354 397.6,344 398.1,338 390.3,324 389.8,320 396,313.9 398.3,308 396.5,302 392,298.8 386,299.5 382,303 380.5,308 381.1,316 380.4,318 374,325.5 369.9,334 366.9,338 360,342.7 350,344.6 346,346.4 340.8,352 336,360.5 326.6,368 324.4,372 324.2,376 328,381.6 334,384.7 343.3,386 345.5,390 344.6,398 346.7,410 346,414.5 340.8,426 340.3,430 341.6,434 348,438.5 352,439.7 356,439.7 360.3,438ZM671.3,310 673.2,306 672,300 670,298.3 666,298.8 661.8,304 662.4,308 666,311.3 668,311.6 671.3,310ZM664,542 662,542.9 658,542.6 654.6,540 653.3,536 653.7,534 656,530.9 660,529.6 665.2,532 666.5,534 666.8,538 664,542Z" fill="#3af600" fill-rule="evenodd"/>
<path d="M594,630 530.4,630 532.8,616 539.5,600 540.5,592 539,586 522,566.4 515.1,552 512,550.4 506,553.1 502.1,552 500.8,548 501.4,542 490,530.2 484,525.9 478,526.3 464,530.6 458,531 446,529.5 418,523.2 392,528.5 370,536.6 364.4,532 362.5,524 364.4,520 364.3,518 363.4,518 356.1,520 344,526.6 314,545 312,545 310,543.1 308,543.5 276,559.6 274,559.6 273.6,552 300.5,510 305.4,494 306.5,486 306.8,472 302.9,458 299.6,450 302,431.8 295.1,420 295.2,414 293.5,402 296.8,384 296.5,382 291.4,372 282,362 278,356 276,348 275.5,332 272.3,328 270,320.7 264,316.4 258,315.6 252,318.1 248.4,322 243.3,332 240,334.4 236,335.6 230,335.5 224,333.9 206,325.6 198,322.9 190,322.5 186,323.8 183.3,326 181.5,330 181.6,334 184.8,342 189.7,348 202,358.9 208.4,368 209.8,376 208,385.7 194.1,416 188,425.4 180,435.3 170,445.5 160,453.3 148,459 136,462.5 136,145.9 244.8,146 256.1,178 259.1,184 259.1,186 256.6,188 257.6,190 279.6,212 289.1,228 293,232 300,235.4 310.1,238 323.4,250 330,251.2 342,256.5 352,258.5 372,256.3 380,258.7 385.3,262 398,276.3 402,276.6 408,271.3 426,268.9 434.2,266 439.9,260 441.8,256 442.6,242 444,236.7 448,230.7 452,227.8 498,225.8 504,228.3 506.4,232 506.3,238 502,243.7 496.1,248 495.5,254 498,258 507.4,268 510.2,274 510.3,292 514.1,300 519,324 521.4,328 517.8,338 516.7,346 518,353.5 524.3,366 532,375.7 540,383.4 544.8,392 550.9,408 556,418.2 562.1,436 560.8,450 561.4,454 567.7,464 578.9,476 581.8,484 584.5,502 582,507.7 576.2,512 574,516.1 573.9,522 576.6,530 577,534 573.5,558 570.2,570 571.3,574 574,578.5 588,587.4 592.7,594 596.5,608 597.3,616 595,630 594,630ZM384,236.4 380,235.6 377.1,232 375.8,226 377.3,218 376.5,216 374,214.8 370,214.7 354,218.8 350,218.6 342,215.7 340,215.7 328,219.9 324,219.3 320.7,216 320.7,210 323.8,206 328,203.7 338,202.4 340,201.1 341.4,198 345,178 345.3,170 343.7,160 339.2,146 478.7,146 480.6,152 481.3,176 480,180.7 474,190.5 468,193.8 446,198.9 442,200.7 422,205.8 412,213.8 406,214.4 398,212.6 394,214.2 389,218 391.1,226 390,232 388,234.4 384,236.4ZM908,507.6 890,491.9 882,486.1 860,475 842,472.2 836,474.2 824,475.1 806,473.3 798,477.8 790,479 788,478.3 787.1,470 780,465.4 771.4,458 762,446.5 750.8,436 748,428.8 743.3,422 740.5,410 736.3,408 731.8,404 730.8,396 727.6,392 727.5,374 720,366.8 710,367.9 682,366.2 670,364.1 666,364.8 661.1,368 658.2,372 657.7,376 666,393.4 667.3,402 666.1,406 662,412.2 658,422 654,428.2 652,429.6 650,429.5 644,425.9 640,424.8 632,426.2 628,425.5 624,420.3 621.1,414 623,406 622.2,400 625.2,386 624,382 620,376.6 621.6,370 626.7,366 636,361.3 639.5,354 639.1,350 634.9,342 630.8,324 631.7,318 636,308 646,300.4 653.9,292 658,291 661.2,292 662.9,294 662.7,298 659.8,304 660.9,308 665.2,312 670,312.2 672.6,310 674.3,306 675,296 680,292.3 707.2,282 734,275.7 764,270 768,268.3 782,252.1 794,233.5 803.5,220 810.7,212 814,206.3 829,194 832,186.7 846,170.7 850,164.3 854,157.1 858,146 908.2,146 908,507.6ZM618,204.4 612,203.2 607.7,198 603.5,180 604.4,172 607.9,164 614,158.1 620,155.5 628,155.5 636,158.8 640.9,164 643.9,172 643.6,182 640,190 634.5,196 625.1,202 618,204.4ZM384.9,210 388,208.5 391.5,198 390.6,194 389,192 384,190.1 378.7,192 371.7,200 373.4,202 376,203.1 382,210 384.9,210ZM626,275 624,275.4 621.1,274 620.1,272 620.4,270 622,268.2 626,267.8 628.2,270 628,272.8 626,275ZM328.7,462 342,452.3 346,452.8 350,451.9 358.1,446 366,439.1 372,429.6 374.3,420 372.8,410 369.3,404 358.6,392 357.6,386 360.2,382 364,379.2 372,375.2 384,370.9 388.8,368 398,348.2 407.8,330 408.2,326 403.1,314 401.6,302 400,297.8 398,295 396,294.1 388,294.2 384,295.2 378,301.7 370.1,332 366.4,338 360,341.9 348,342.2 344,343.8 340,348 331.7,360 324,366.9 320.5,372 320.3,376 322.3,380 326,383.8 335.6,390 337.3,392 339.9,398 344,403.8 345.1,408 344.7,412 342,416.4 334,421.6 330.4,426 324.2,440 322.5,448 322.6,454 324.9,460 326.8,462 328.7,462ZM278.3,300 279.3,298 278,297.5 277.2,298 278.3,300ZM610,350.6 600,347.6 596,344.9 593.7,342 592.2,336 592.2,330 594.9,326 600,322.9 604,321.9 608,322.8 612.6,326 614.8,330 614.6,344 612,349 610,350.6ZM716,418.1 708,418.9 705.7,418 704.7,416 707.3,408 709.8,404 714,400.5 718,399.4 725,404 726.2,410 722.2,416 716,418.1ZM678,446.3 672,445.6 666,446.8 662,446.3 658.1,442 657,440 657.3,438 662,436.2 672,438.8 678,437.6 680,438.8 681.2,442 680,445 678,446.3ZM660,540.4 658,540.1 656,538.4 655.3,536 656,533.7 658,532 660,531.8 663.3,534 663.9,536 662,539.7 660,540.4Z" fill="#11f100" fill-rule="evenodd"/>
<path d="M570,630 534.3,630 535.8,620 540,609.5 541.6,600 542,592 539.4,584 522,564.9 515.1,550 512,548.2 507.8,552 503.1,552 501.7,550 501.7,548 503.7,544 503.6,542 490,528.7 484,524.3 478,524.1 468,528.2 460,529.6 450.3,528 436,523 426,522.6 418,520.6 394,525.1 372,531.3 370.3,530 369.6,528 370.8,522 370.5,516 364,514.6 356,517.3 346,522.3 332,525.8 322,529.3 314,538.5 310,539.2 306,542.1 282,553.7 276,554.7 276.7,552 297.9,520 304,513.5 313.8,506 312.4,504 313.7,502 328,492.8 334,486 336.1,480 342.6,468 346,464.4 354,460.5 356,458.6 368.1,444 373,436 376.1,424 375,414 371.3,406 361.1,394 359.9,388 361.8,384 366,380.6 390,370.9 400,348.4 413.5,334 414.8,330 414.5,326 406.1,310 403.4,292 402.5,290 398,287.1 394,286.4 390,288.3 386,288.7 382,291 374.9,300 373.1,304 369.6,320 369.2,332 366,337.8 360,341 348,339.2 342,340.8 337.5,346 329.6,358 317.6,370 315.8,374 316.8,378 329.4,390 332.2,394 333.2,398 333.1,406 324,418.2 314,426.2 312,431.1 308,437.1 306.9,436 306.9,434 309.7,426 306,425 304,422.9 300.7,416 297,402 297.9,392 303,378 300,375.5 294,367.6 281.5,356 279.4,348 281.9,338 281.5,330 280.2,328 275.3,326 273.8,320 270.2,316 262,313.5 258,313.7 254,315.2 248.1,320 240,331.2 236,333.4 232,334.2 226,333.4 218.4,330 198,313.9 194,316.7 192,317 186,316.6 182,315.3 160,316.5 154,315.1 136,316 136,146 203.8,146 230,174.3 242,191.3 270,213.5 289.7,232 308,240.6 320,252.3 324,254.5 352,261 366,258.5 374,258.6 382,262.7 387.3,268 389.7,272 391.2,278 394,280.6 402,279.8 408,276.4 428,271.7 436,267.4 441,262 443.8,256 443.1,244 444,238.6 448,232.8 452,230.2 456,229.2 466,228.9 482,230.1 498,226.9 502,228 504,229.5 506.1,234 505.4,238 502,242.4 494.1,246 493.3,254 496,258.3 505.9,268 508.6,274 507.7,292 511.4,302 514.2,314 514.5,324 517.7,330 514.7,346 516,357 521.5,368 530,377.8 538,384.6 542.9,392 548.7,408 555.2,422 559.3,436 558.7,442 556.1,452 557.4,460 562,465.9 574,475.4 578,481.1 579.6,486 580.7,496 579.5,504 574,510.8 572.2,516 572.1,520 574.3,528 574.9,534 573,556 569.1,566 568.8,570 570,574.6 574,580.8 586,587.5 588.6,590 590.9,594 592.2,602 590,610.2 584,618.5 582,619.2 578,618.1 574,612 570,608.9 566,608.2 562.4,610 561.2,612 561.3,616 566,621.3 570,623.6 570.8,630 570,630ZM214,146.4 213.5,146 214.4,146 214,146.4ZM354,218.2 350,217.6 342,212.9 332,217.2 328,217.6 324.3,216 322.5,212 323.6,208 328,204.5 332,203.6 340,204.3 342.1,202 348.9,168 348.3,156 345.5,146 473.5,146 478,158.6 479.2,166 479.2,174 478.4,178 474.4,186 470,190 458,193.9 446,195.1 438.9,198 428,200.8 416,202.4 412.9,204 411.1,208 408,210.2 405.7,210 404,208.6 402,205.3 400,205.2 398,207.1 396,207.4 395.2,206 395.7,198 393.1,192 388,188.5 382,188 376,190.8 370,197 369,202 371,208 369,212 361.9,216 354,218.2ZM908,504.1 887.9,488 876,480 854,471.4 840,469.4 832,472.9 822,474 806,471.9 798,477.1 790,477.3 789.2,476 789.4,470 788,468 777.4,462 770,454.5 762.3,444 753.4,436 748.8,424 745.6,420 743.5,410 741.3,406 739.6,394 738,392.8 732,392.4 730.1,390 733.6,376 733.4,372 732,369.4 724,363.8 718,362.9 686,364.2 670,361.9 662,363.5 656.6,368 652.5,374 653.4,380 662.6,390 665.9,396 666.5,400 665.8,404 660.7,412 656,423.5 654,425.6 650,426.9 640,423.3 632,423.9 628,421.9 624.6,416 626.5,398 630.1,386 629.3,374 638.6,366 642.2,356 641.6,350 636.4,340 632.8,324 634.2,316 638.4,308 650,300.9 654,300.3 663.2,312 666,313.3 670,313.4 672,312.3 674,309.5 678,297.6 682,293.9 700,289.1 712,288.3 718,286.9 732,286.5 738,285 752,284.9 758,282.6 768,272.4 778.1,266 784.7,256 799,238 818.1,206 830,195 832.9,190 848,172.6 853.6,164 863.2,146 908.2,146 908,504.1ZM622,202.1 616,203.4 612,202.2 610,200.4 607.1,194 605.5,180 607.5,172 612,164.6 618,160.6 626,159.8 632,161.7 637.2,166 640.1,172 640.9,180 639.3,186 635.5,192 628.8,198 622,202.1ZM384,233 380,232.3 377.7,228 378.6,224 382,221.4 384,221.5 386,222.9 387.5,226 387,230 384,233ZM317.2,274 319.1,272 320.2,268 319.3,264 318,262.4 316,262.1 311.4,266 310,270 312.4,274 317.2,274ZM626,274.2 624,274.6 622,273.8 621,272 622,269.1 624,268 627.4,270 627.6,272 626,274.2ZM278.9,306 283.3,304 285.1,300 283.7,296 280,294.3 274.8,296 272.7,300 274.1,304 276,305.6 278.9,306ZM656,297.3 655.8,296 656.8,296 656,297.3ZM152,436.2 136,437 136,318.4 144,321 152,325.2 178.7,346 198,357.4 204.5,364 207.7,372 207.1,380 204,387.2 184,417.2 178,423.2 170,429.1 162,433.2 152,436.2ZM608,346.3 604,346 598,343 596,341.1 594.2,336 593.7,332 595.3,328 598,325.5 602,323.7 608,324.5 612,327.9 613,330 613.4,336 612.1,342 608,346.3ZM720,416.2 716,417.2 708,417.2 706.8,416 709.1,408 714,403 718,402.4 723.2,406 723.9,408 723.5,412 720,416.2ZM340,410.8 337.4,410 336.9,408 338,407.1 340,406.7 341.4,408 341.1,410 340,410.8ZM680,444 676,445.5 673.2,444 672.2,442 673.1,440 678,438.4 680.2,440 680,444Z" fill="#00e646" fill-rule="evenodd"/>
<path d="M312,370 306,369.9 300,366.3 295.1,360 290.3,350 290.7,336 286.8,326 282,322.6 281.3,320 281.7,316 283.4,312 288,307.3 290.2,302 288.8,296 287.3,294 284,292.2 278,292.8 272,296 269.5,300 269.2,306 268,308.6 256,312.3 252,314.5 243.3,322 237.1,330 232,332.5 226,332.2 221.1,330 216.9,326 208,312 198,307.1 194,307.2 192.6,308 192,310.3 190,310.9 182,310.4 160,313.2 154,311.9 136,312.4 136,146 187.8,146 195.5,156 212,173.6 216,179.4 224,188.1 234,196.1 252,208.3 260,216.6 281.6,230 302.5,240 310.6,246 312,248 312.6,252 310,260 306.2,266 305.2,270 306.4,274 310,278 316,278.6 320,276 326,262.6 330,260.1 336,260.3 352,264.2 366,260.3 372,260 378,262.7 383.7,268 385.7,272 388.4,282 387.5,284 384,285.2 377.7,290 370.2,302 366.4,320 368.3,330 366.8,336 364,338.8 360,340.2 356,339.5 348,336 344,336.4 340,338 335.9,342 324.7,360 312,370ZM358,216.7 354,217.4 349,216 345.2,212 344,208 347.6,186 352.5,172 353.7,166 351.8,146 470.4,146 476.8,166 477,172 476,177.7 474,182 472,184.9 468.1,188 456,191.8 446,191.6 432,196.7 422,198.4 412,197.1 400,194.2 394,188.4 390,186.5 380,186.3 374,189 372,191.2 368,198 366.7,210 363,214 358,216.7ZM908,497.8 902,495.1 878.2,480 858,470 850,467.4 838,467.2 830,471.5 824,472.7 814,472.3 804,470.2 799.3,476 796,476.6 793.2,476 791.8,474 791.3,468 790,466.7 782,463.9 778,461 769.7,452 764,443.2 755.1,434 751.6,424 746.3,414 743.1,390 742,388.8 734,388 736,379.5 739.3,374 738.5,372 734.5,368 733.3,362 731,358 727.5,356 724,355.5 688,361.9 664,359.4 652,360.6 650,359.1 647.6,354 638.3,340 634.5,324 635.4,318 638,311.9 640.9,308 646,305.3 650,304.5 654,305.6 664,313.6 670,314.5 673.8,312 682,297.8 684,296 688,294.4 700,291.5 712,291 718,289.3 732,289.1 738,287.3 752,287.2 758,284.8 768.2,274 774,269.6 778,268 794,246.2 804,234.9 809.8,230 855.7,164 864.9,146 908.2,146 908,497.8ZM618,202.2 614,202.1 612,201.1 608.4,196 606.9,184 607.4,178 610,171.4 614,166.5 620,163.6 626,163.5 632,166.1 635.6,170 637.8,176 637.8,182 635.6,188 632,192.7 623.1,200 618,202.2ZM334,214.8 330,215.8 325.7,214 324.5,210 327.1,206 330,204.8 334,204.8 336.8,206 338.5,208 338.6,210 337.5,212 334,214.8ZM550,610.3 548,608.9 545.3,602 543.3,590 540.8,584 522,563.5 519.9,560 516,548.7 514,546.6 508,543.6 498,535.4 488,525.1 482,521.6 478,521.4 468,526.6 460,528.2 454,526.8 442,521.6 428,519.8 420,516.9 404,519.8 398,522.3 392,523.1 374,528.5 372,528 373.7,514 372,512.7 364,512.8 356,515.1 352,518.1 346,520.1 340,520.8 324,525.1 322.3,524 325.3,514 328,509.2 333.4,504 344,486.3 350.5,480 354,473.5 368,458.8 374,448.8 377.4,440 379,426 376.9,416 373.4,408 363.1,396 361.7,392 362.1,388 365,384 370,381 392,373.9 393.7,372 394,367 397.1,358 401.3,350 406,345.1 414.7,340 418.7,336 419.7,330 419.1,326 410.4,312 407.8,306 407.6,286 411.5,282 416,279.1 430,274.5 440.6,266 444.8,260 446,256 446,252 443.9,244 444.4,240 448,234.7 456,231.2 468,230.6 478,232.9 484,235.6 486,235.3 490,231.1 496,228.4 502,229.1 504.7,232 505.2,236 502,241 498,242.6 490,243.5 488.5,246 491.9,256 504,267.6 507,274 505.5,292 510.5,312 510.5,324 513.2,330 512.1,338 512.9,350 511.5,354 512.3,360 520,372.8 536,385.9 540,390.6 543.7,398 548,413.2 553.7,424 556.5,436 556,440.6 550.5,458 550.6,462 552,465.7 556,470.1 574,480.8 576.7,486 577.2,492 576.2,500 571.8,510 570.4,516 573.4,532 572.7,554 571,560 567.7,566 567.5,570 569,576 572.9,582 586.5,590 588.7,594 588.7,600 586,604.4 582,606.4 578,606.2 570,602.8 562,604.7 550,610.3ZM626,273.1 624,273.8 622,272.3 622,270 624,268.9 626,269.3 626.8,272 626,273.1ZM608,342.2 606,343 602,342.4 598,340 597,338 595.6,332 597.6,328 600.3,326 606,325.3 610,327.9 611.3,330 611.8,336 610,340.2 608,342.2ZM152,422 144,421.3 136,419.1 136,344.1 146,343 156,344.1 164,346.5 180,353.5 194,357.2 202,363 205.7,370 205.8,376 203.4,382 180,410.2 174,415.1 166,419.3 160,421.1 152,422ZM314,416.2 308,416.3 304.5,414 300.1,400 300.5,394 302.9,388 306.4,384 312,380.7 318,383.4 324,388 327.3,392 329.1,398 327.6,404 324,410 320,413.9 314,416.2ZM652,424.8 650,425 642,422.1 632,421.8 628,418.4 626.4,414 628.6,400 630.8,394 638,385.1 642,382.2 646,380.9 648,381.2 662,391.8 665.4,398 664.6,404 660.1,410 657,420 654,423.8 652,424.8ZM716,416.3 710.7,414 710.2,410 712.5,406 716,404.4 718,404.6 720.6,406 721.9,408 721.9,412 720,414.8 716,416.3ZM678,444.4 675.5,444 674.4,442 676,439.6 678,439.4 679.9,442 678,444.4ZM506,552 504,551.8 502.6,550 504,546.6 506,545.7 508,546.2 508.7,548 508.3,550 506,552Z" fill="#00e097" fill-rule="evenodd"/>
<path d="M356,216.5 352,216.3 348.7,214 347.4,212 346.9,208 348.1,200 350.2,194 351.2,184 354,178.8 358,174 358.5,172 358.3,160 360.2,146 445,146 456,151.6 458,151.6 460,150 461.6,146 466.4,146 468,147.8 470.7,154 474,167.6 474.2,172 471.9,180 466,186.2 456,189.2 446,187.8 442,188.6 428,194.8 422,195.7 410,193.3 402,190 394,184.6 382.8,184 376,185 372,186.6 370,190.1 366.9,198 364.6,208 362.6,212 360.9,214 356,216.5ZM908,496.1 904,494.6 870,474.4 850,464.9 836,465.1 828.6,470 822,471.5 812,470.7 802,466.7 800.6,468 800.1,474 798,475.6 796,475.8 793.5,474 793.3,472 794.8,466 784,463.3 778.6,460 770,450 765.4,442 756,430.3 748.8,412 745.2,390 744,385.7 742.6,384 744.3,372 737.5,364 738.2,358 737.4,354 736,351.8 732,351.9 729.3,346 728,340.2 720.8,342 709.2,350 705.5,354 696,357.9 684,359.9 670,358.2 656,354.4 644.3,346 639.2,338 636.4,326 636.6,320 639,314 642,309.9 646,307.1 650,306.7 654,307.6 664,314.8 670,315.7 674,313.9 678,306.9 682,302.9 690,299.3 718,293 734,291.7 740,290.3 752,289.8 756,288.3 764,280 778,269.2 787.2,256 798.7,242 812.4,230 826.4,214 834,203.1 850.1,174 858,163.2 860.1,158 863.2,154 866.1,146 908.1,146 908,496.1ZM314,366.1 310,367 308,366.4 302,362 299.4,358 296.8,336 296.1,334 291.6,330 289,322 295.5,302 294.8,294 293.8,292 290,288.9 284,288.4 270,294.8 266.6,298 262.5,306 244,318.3 240,318.6 234.2,316 232,316.4 231,318 235.1,324 235.6,326 233.2,330 228,331.2 223.9,330 219.8,326 218.3,322 217.4,314 215.9,312 212,308.8 206,306 192,294.9 176,284.1 174,283.1 172.8,288 170,289 166,289 160,287.2 142,287.1 136,285.3 136,153.2 156,161.8 184,177.3 190,179.7 196.9,186 197.6,188 196,189 192,184.9 184,180.6 183.8,182 186.2,186 192,190 198,192.6 200,192.4 201.6,190 204,190.5 222,198.3 228,201.4 238,210.5 254,218.4 267,228 275.9,232 294,237.5 302.6,242 306.9,246 308.2,252 307.1,258 302.3,266 300.7,272 304,279.8 308,282.6 314,283.3 320,280.3 328,266.5 332,263.9 338,264 350,268.6 368,262.1 374,262.8 378.8,266 381.7,270 384.1,280 382.7,282 374.4,288 368.9,296 367.3,300 363,322 367,330 366.1,336 364,338.1 360,339.2 356.4,338 352,333.7 348,332.7 336.7,336 331.2,342 327.3,352 324,357.5 319.8,362 314,366.1ZM620,200.2 614,201 610,197.7 608.8,194 608.4,180 610.5,174 614,169.5 618,167.1 624,166.4 628.9,168 633.2,172 634.9,176 635.2,182 631.7,190 620,200.2ZM334,212.7 330,213.9 328,213.1 326.4,210 327,208 330,205.8 334,206.3 335.6,208 335.9,210 334,212.7ZM500,240.6 496,240.5 491.7,238 491.4,234 496,230 500,229.5 502,230.4 504,232.9 504,236.8 500,240.6ZM584,600.2 582,601.1 578,600.8 572,595.6 560,600.3 556,600.7 552,599.4 547.1,594 540,580.8 522,562.1 519.9,558 518.4,550 516,546.5 512,543 500,536 490,524 482,519.5 478,518.7 474,520.2 466,525.6 460,526.3 434,515.3 422,513.2 396,519.1 378,521.4 376,520.7 375.3,512 372,510.1 367,510 366.1,508 371.5,496 370,494 368,494.7 365.7,494 375.5,476 376.2,470 382.6,450 384.1,436 382,424 376.9,412 364,396 363.4,390 366,386 370,383.4 398,376.1 399.2,374 397,368 399.2,358 402,352.3 406,348.2 419.7,342 423.5,338 425.2,332 424,326 420.5,320 412.3,310 410,304.1 411.7,290 416,284.6 432,277.5 444,266 447.6,260 448.9,254 445.7,246 445.1,242 446,238.8 450,235.5 458,232.8 464,231.9 472,233.3 477.4,236 480.8,240 482,245.1 488,255.4 502,267.4 505,272 505.4,280 503,288 502.7,292 507.3,312 506.7,322 508.5,330 507.3,342 510.5,348 507.6,356 507.9,360 510,364.8 517.6,376 534,387.3 539.7,394 542.2,400 544.9,416 550.7,424 553.4,430 553.7,436 552.9,440 546.8,452 546.8,464 548.2,470 554.5,476 564,478.1 570,480.7 572,482.2 574,486 574,492 571.7,498 568.6,516 572,530 571.9,554 566.1,568 568,578 572,584 574,586.1 582,588.8 585.6,592 586.4,596 584,600.2ZM624,272.6 623.2,272 623.4,270 625.5,270 625.8,272 624,272.6ZM606,340.1 603,340 600,338.4 598,334.6 598.7,330 602,327.3 604,326.9 607.6,328 610.2,332 610,336 606,340.1ZM166,410.1 158,411.5 150,410.7 142.9,408 136,403.3 136,359.1 142,355.9 150,353.5 158,353.2 166,354.7 178,358.9 192,359 198.8,362 203.3,368 204,374 202.6,378 200,381.6 188.6,390 180.9,400 176,404.7 166,410.1ZM316,410.5 310,410.7 306,408.6 303.2,400 303.6,394 305.5,390 309.3,386 312,384.8 316,385.5 320.7,388 324.5,392 326,396 325.8,400 324,404.4 320,408.7 316,410.5ZM654,422.1 650,423.2 642,420.4 633.2,420 630,417.9 628.1,414 629.5,404 633,396 638,391.2 648,387.2 652,388.2 660,392.4 664.3,398 664,402.6 658,410 656.8,418 654,422.1ZM718,414.7 714,414.7 712,412.5 711.7,410 714,406.9 718,406.5 720,408.1 720.5,412 718,414.7ZM678,442.6 676.4,442 678,441.2 678,442.6ZM506,550.3 504,550.2 504,549.5 506,548.9 506,550.3Z" fill="#00d8e0" fill-rule="evenodd"/>
<path d="M358,214.6 354,215.7 350.5,214 349.3,212 350.8,198 352.8,188 354.8,184 358,181.9 365.6,180 365.9,178 363.7,170 363.9,162 366,153.4 370.6,146 435.9,146 433.8,154 436,158 440,161.7 442,162.1 450,158.7 460,159 464,156.7 466,156.8 466.7,158 467.3,164 469.7,170 469.7,176 466.5,182 460,185.7 454,186 442,182.5 438,184.3 428,191.9 420,193.4 407.7,190 398,181.8 394,181.3 376,182.1 370,180.4 368.1,182 367,194 364,203.5 360.6,212 358,214.6ZM908,494.3 870,472.9 850,463 836,462.9 832,464.6 826,469 822,470.1 817.1,470 808.9,468 806.2,466 802,460.2 800,459.4 788,462.1 784,461.6 780,459.3 772,449.1 767,440 760,431.7 752.9,416 749.5,406 745.7,384 746.2,366 744,363.1 742,362 741.9,356 740.7,352 738.1,348 741.6,336 740,334.1 732,337.1 726,336.7 720,339.2 704.7,348 700,352.4 694,355.4 686,357.6 680,357.8 670,356.3 660,352.7 646,344.9 640,336 638.1,326 637.9,322 640.2,316 646,309.2 648,308.6 654,309.5 664,316 672,316.9 676,314.8 678.3,310 682,306.9 702,308.2 730,304.2 740,302 752,292.9 756,291.7 765.2,280 772,277.5 773.5,276 781.6,266 788,256.1 799.7,242 813.6,230 828,214 844.2,188 851.3,174 858.9,164 861.2,158 864.8,154 867.3,146 908.1,146 908,494.3ZM246,314 242,315.9 240,315.8 227.6,312 222,307.9 199.3,276 186,253.9 179.5,246 158,233.2 154,232 144,226.4 140,224.8 136,225.5 136,165.2 162,178.1 166,179 182,186.8 220,212.8 240,216.8 260.4,230 268,231.9 276,235.8 286,236.7 294,238.8 300,241.8 304,246 305.5,250 304.9,256 297.9,266 292.1,278 282,283.1 276.2,290 266,292.6 256.8,306 246,314ZM616,200 612,198.6 610.3,196 610,178.9 612,174.4 616,170.5 620,169 624,169.1 628,170.8 631.2,174 632.7,178 632.5,184 628,191 620.7,198 616,200ZM332,211 330,211.1 329.1,210 329.6,208 332.6,208 333,210 332,211ZM500,238.9 496,238 494.7,236 494.7,234 498,231.2 502,232 503,234 502,237.7 500,238.9ZM562,596.1 556,594.9 548,589.7 540,578.7 530.5,568 522,560.5 520.4,556 519.9,550 517.4,546 512,541.1 502,536.4 499,534 495.6,530 492,522.8 490,521.2 478,516.4 472,518 466,522.8 462,523.9 456.5,522 450.6,516 448,514.8 440,514.2 434,511.7 410.4,506 402,505.7 390,508.5 380,508.7 377.9,508 377.8,506 384,494 384.3,490 385.9,486 385.2,482 391.5,452 392.1,440 390.4,432 385.2,422 377.5,410 365.9,398 364.5,392 366.9,388 372,385.2 388,382.2 398,382.1 402,380.4 403.3,378 401.2,360 404,353.5 410,349.2 426,346.1 430.3,342 432.4,336 431,328 426.4,320 418,312.5 414.3,308 413,304 413.6,298 417.4,290 432,282.3 444,271 449.5,262 451.9,256 451.6,250 447.1,244 447.4,240 460,234.2 468,234 475.4,238 476.9,240 479.8,250 488.8,260 500,267.7 503.3,272 504,278 499.8,288 499.3,292 502.4,300 504,310 503.3,320 505,334 504.1,342 506.3,350 503.9,358 506.9,368 508.6,372 516.3,380 532,389.2 537,394 539.2,398 540.4,404 539,418 540.2,420 546,424.4 550.1,430 550.5,434 549.5,438 541.9,448 542.6,470 543.5,476 546,479.2 550,481.9 554,482.4 564,480.2 568.9,482 571.5,486 571,490 566.6,498 567.5,508 566.9,518 571.1,532 570.4,546 571.2,554 570,558.3 565.9,564 564.8,568 566.1,578 570.5,586 571.7,590 570.9,592 568.2,594 562,596.1ZM312,364.1 310,364 306.6,362 301.8,356 300.2,346 300.6,334 297,328 295.7,324 297.3,312 301.4,298 304.1,292 308,289.2 316,287.5 321.9,284 326,274 328.8,270 332,267.7 336,267.3 338.8,268 342.5,270 348,275.3 352,276.4 354,275.2 357.9,270 364,265.7 370,264.6 374.9,266 379.4,272 380.3,276 379.1,280 374,284.4 368,287.6 359.4,288 359.2,290 360,290.5 362.6,290 364,288.7 365.7,290 363.6,296 362.2,314 358.5,326 364,328.5 365.3,330 366.2,334 365.1,336 362,338.1 358,337 355.9,334 355.4,330 354,328.2 332,333.5 327.9,338 325.3,350 322.5,356 318,361 312,364.1ZM230,329.2 226,329.1 222.5,326 222.1,322 224,319.3 226,318.9 228,319.7 232.1,324 232,327.7 230,329.2ZM606,336.7 604,337 601.9,336 600.9,332 602.2,330 606,329.7 608,332 608,334.1 606,336.7ZM166,402.5 160,403.3 152.8,402 146,398.1 142.4,394 139.5,388 136.9,378 142,368 149.8,362 158,359.9 166,360.7 180,366.6 190,361.9 194,361.9 198,363.7 200.3,366 201.9,370 201.5,374 200,376.8 196,380 185.9,382 176,396.7 172,399.9 166,402.5ZM316,406.4 310,405.7 307.9,404 306.2,400 306.4,396 307.7,392 312,388.4 316,388.4 319.4,390 322,392.6 323.4,396 322,402.1 320,404.4 316,406.4ZM654,420.2 650,421.3 644,418.6 634,418.4 632,417.4 630,414.7 629.5,410 632,402.3 636,396.7 640,393.7 648,391.2 660,394.7 662.8,398 663.2,400 662,403.1 655.9,408 655.9,416 654,420.2ZM718,412.9 716,413.9 714,412.8 714,409.3 716,408.2 718,409 718.7,412 718,412.9ZM798,474.2 795.5,474 796,471 798,471.1 798,474.2ZM582,596.8 580,597.4 578,596.7 576,594 575.9,592 578,590.5 582,591.5 583.3,594 582,596.8Z" fill="#00bde2" fill-rule="evenodd"/>
<path d="M426,190.1 418,191.2 410,188.5 407,186 402,178.5 400,176.8 398,176.6 386,180.1 380,180 376,178.7 370.8,174 369,170 368.8,164 370.9,158 376,152 380,149.5 386,147.6 387,146 418.6,146 420,148.2 426,150.7 428,152.5 428,162 433.1,170 434.4,174 434.4,178 432.5,184 429.2,188 426,190.1ZM908,490.9 900,488 882,478.9 870,471 850,461 844,460.2 834,460.8 824,467.5 814,468 809,466 807.7,464 806.3,458 802,455.8 796,455.8 788,459.9 784,459.6 781.3,458 778.3,452 776.9,444 768.7,432 766.3,424 764,422.4 760,421.4 758,419.3 751.5,404 747.5,384 748.2,366 747,362 746.7,356 742,346 745,338 746,330 749.2,322 749.6,314 748,312.3 742,313.9 739.3,312 739.5,308 744,302.4 751.1,296 758,292 766,280.8 774,278.2 788,257.3 798.9,244 814,230.6 828,215.1 841.6,194 852.6,174 860.2,164 862.5,158 866.2,154 867,150 869.2,146 908.1,146 908,490.9ZM458,182.1 451.6,180 450.1,178 449.4,174 452,168.7 454,167.4 458,166.9 462,168.5 464,170.9 464.9,174 464.2,178 462.7,180 458,182.1ZM244,312.1 240,313.6 238,313.4 232.3,310 211.9,268 200.2,256 177.4,238 169.8,228 165.6,224 162,217.8 154,208.5 151.6,204 144,195.7 140.7,190 136,186 136,169.7 181.6,190 191.6,196 212,211.2 222,217 230,219.1 240,220 252,228.9 268,237.5 276,239.3 286,238.7 292,239.6 297.9,242 301.9,246 303.3,252 300,258.6 292,266.6 266,284.8 259.6,292 254.3,304 244,312.1ZM616,198.4 614,198.2 611.7,196 611,180 612.7,176 616,172.7 620,171.3 624,171.6 629.4,176 630.6,180 630.2,184 628,188.1 618,197.7 616,198.4ZM356,214.2 353.1,214 351.3,212 352,208.4 354.2,206 354.3,204 352.6,200 352.7,196 355.3,188 358,185.8 360,185.5 362,185.9 364.5,188 365.6,194 363.9,200 362,203.3 358.9,206 358.4,212 356,214.2ZM500,236.1 499.3,236 498.8,234 500.4,234 500,236.1ZM566,592.2 562,592.2 558,589.4 550,587 546,584 532,566.9 523,560 521.5,556 521.7,550 519.3,546 512,539.4 504,536.4 500,533.7 496.9,530 494,521.4 492,518.8 466.5,510 458,508.5 446.1,508 433.4,500 424.2,498 406,501.1 390,506.2 382.3,506 383.1,500 386.1,496 389,484 393.5,478 399.3,462 401,448 399.2,432 398,426.9 396.1,424 384,415.4 378,408 366.8,398 365.7,396 366,392.1 368,389.7 374,387.6 386,386.3 402,387.6 408,385.9 411.8,382 410.3,376 411.6,372 410,368 405.3,362 405.3,358 406.2,356 408.3,354 412,353 416.5,354 422,358.4 424,358 428,356.2 433.1,352 440.4,344 441.1,340 440,334 434,321.4 429.3,314 421.6,310 418,306.9 417,304 417.3,300 420,295 432,289 446,274.1 455.3,256 455.2,242 457.7,238 462,235.5 468,235.8 472,238 474.7,242 475.4,248 477.7,252 488,263.4 498,268.7 500,270.3 502,274 501,280 496.3,286 495.4,290 496.2,294 500,301.7 500.9,308 498.5,348 500.7,354 500.8,358 503.8,364 503.6,372 510.8,384 516,388.2 526,390.4 532,393.1 535,396 536.9,400 537.4,404 536.6,408 529.1,420 527.7,426 530.9,432 535.4,448 538,454 537.6,470 540,478 544,483.1 558,493.6 562,499.8 564.5,506 565,518 569.9,532 569.2,546 570.4,554 569.3,558 563.5,566 564.6,582 567.8,588 568,590 566,592.2ZM372,280.3 366,281.1 362.5,278 361.8,274 364.1,270 368,268.2 370,268.2 374,270.7 375.1,276 372,280.3ZM314,360.4 310,360.8 308,359.9 304.5,356 303.1,352 303.1,344 307.4,332 302,320 302.2,312 308,299.2 312,295.9 326.8,288 328.3,284 328,277.4 329.5,274 332,271.9 336,271.9 339.9,276 342.8,290 352,293.2 356.6,296 358.2,298 360.3,306 360,314 356,321.9 350,326.2 342,328.4 326,329 318.9,332 317.7,334 322,342.5 322.5,350 319.7,356 314,360.4ZM682,356.1 674,355.3 670,354 648,343.6 644,339.9 641.1,334 639.9,324 642.3,316 646,311.7 652,310.9 656,312.4 664,317.6 676,318.8 688,318.4 716,313.8 732.2,314 732.3,316 730.3,318 722.4,324 721.3,326 722,332 719.2,336 696,351.1 690,354.1 682,356.1ZM228,326.7 226,326 226,323.7 228.7,324 229.1,326 228,326.7ZM362,336.7 359.5,336 358.6,334 360,331 362,330.5 364,331.4 364.8,334 364,335.9 362,336.7ZM168,394.9 162,396 156,394.5 152,391.8 148.3,386 147.4,378 148.4,374 151.5,370 156,367.1 162,365.8 168,367 172.7,370 176.8,376 177.6,382 176,387.4 172.6,392 168,394.9ZM196,374.9 192,375.1 188.9,372 189.3,368 191.2,366 196,365.8 198.3,368 198.6,372 196,374.9ZM318,401 314,401.9 311.2,400 310.3,396 312,393.2 316,392.1 319,394 320.1,398 318,401ZM652,418.5 650,418.4 646,415.6 634,416.5 631.4,414 630.9,410 632,406.4 636.4,400 642,395.7 648,395.1 652.6,398 653.7,400 651.9,412 653.4,416 652,418.5ZM660,401.4 658,401.8 656,400 657.1,398 660.1,398 660.7,400 660,401.4ZM566,489.1 564,489.3 562,488 562,484.6 564,483.1 566,483.1 568,484.9 568,487.1 566,489.1Z" fill="#00abe4" fill-rule="evenodd"/>
<path d="M908,488.6 900,486.1 882,477.5 870,468.2 866,466.8 852.2,458 840,455.6 824,455.2 819.2,452 816,451.6 810,452.6 796,452.3 788,456.1 784,456.3 782.8,454 781.5,444 778,436.4 769.6,422 760.4,414 758,410 754.3,402 749.8,384 749.3,376 750.3,366 749.1,362 748.9,354 746.5,348 746.7,344 750,332 756.2,318 756,315.2 753.5,310 754,306.6 768,284 775.5,278 788.5,258 799.7,244 814,231.5 829.7,214 842.7,194 854.3,174 861.7,164 864.1,158 867.4,154 868.6,150 871.6,146 908.1,146 908,488.6ZM384,178.2 378,176.9 374.9,174 373,170 373.3,164 375.6,160 378,157.8 382,156.1 388,155.2 392,151.1 396,154.1 397.5,160 397.3,168 395.2,172 391,176 384,178.2ZM424,188.3 420,189.2 416,188.5 410.8,186 409.2,184 407,178 407.1,172 408.5,168 412,164.6 418,163.7 422,164.4 429.1,174 430.1,178 429.6,182 427.3,186 424,188.3ZM616,194.6 614.1,194 615.8,192 612.3,184 612.4,180 616,174.8 620,173.4 623.6,174 627.7,178 628,184 624,189.1 616.3,192 616,194.6ZM358,202.2 354.9,200 354.1,196 356,190.3 360,188.5 362,189.3 363.7,192 363.9,196 362,200.4 360,202 358,202.2ZM558,584.1 552,584.7 548,583.2 546,581.4 532,564.1 524,559.1 522.9,556 523.8,550 521.2,546 514,539.1 504,535.4 499.6,532 496.6,526 496,517.9 492,515 482,512.6 468.9,506 462.7,500 460.5,492 458,488.9 452,487.3 442,490 434,490.1 424,493.3 418,493.6 408,495.9 390,501.5 386,504 384.8,502 388.1,496 391.3,484 394.8,480 396.5,474 401.3,464 401.9,458 404.5,450 407.9,432 410.2,408 415.9,392 416.5,382 422,374.5 426,373.5 431.4,370 434,362.3 442,355.4 449.8,346 449.8,338 436.5,316 434.3,308 434.6,304 438.3,292 448,278.5 453.1,266 459.2,256 459.6,254 457.5,244 458.9,240 462,237.6 466,237.3 470.7,240 472,242.3 472.3,248 473.5,252 482.3,260 488,271.5 496,271.3 498.5,274 498,277.6 496,279.3 490,279.3 488,280.8 487.8,282 490.3,290 496.3,300 498.1,308 496,323 489.1,336 488.6,346 492,353.6 500,364.3 500.9,374 505.7,392 508,396.2 512,400.4 516,402.2 521.4,398 526,396.5 530.5,398 532.9,402 532.2,406 530.5,408 522.9,412 522.5,416 525.8,440 532,454 532.5,472 539.6,484 552.9,494 558.4,500 562.2,508 563.4,520 568.7,532 568,546 569.4,552 569.2,556 568,558.6 562.6,564 561.8,566 563.2,574 562.9,578 560.9,582 558,584.1ZM240,310.1 237.2,310 236.4,308 237.3,304 236.1,298 237.5,290 236.7,286 225.7,272 222.7,266 220.6,250 222.4,246 227.5,242 232,240 240,242.1 248,241.6 258,242.5 274,246.8 283.3,242 288,240.9 294,241.8 297.9,244 299.6,246 300.8,250 300,253.4 298,256.5 292,260.4 282,262.7 280.3,264 272.5,274 253.7,290 252.6,292 252.2,300 250.1,304 242,307.6 240,310.1ZM342,326 334,324.7 326,321 320,323.5 313.5,324 311,322 308.8,318 308.3,314 309.5,310 315.5,304 330,294.8 336,293.6 350.2,296 354,298.8 357.2,304 358.4,310 358,314 356,318.5 352,322.8 348,324.8 342,326ZM682,354.2 674,353.2 660,344.4 650,341.4 646,339 643,334 642.3,324 643.7,318 646,314.5 650,312.9 654,313.5 664,319.5 672,320.8 692,326.3 699.5,330 701.2,338 700,342 692.2,350 689,352 682,354.2ZM314,357.1 310,357.3 308,356.2 306,353.4 305.2,350 306.8,344 310,340.7 312,340.2 314,340.7 317.9,344 319.3,348 318,353.5 314,357.1ZM168,386.6 162,387.3 157.8,384 157.2,378 160,374.1 166,373.2 170,376 171.2,382 168,386.6ZM394,412.2 388,412.5 379.3,406 374,403.4 367.8,398 367,396 368,392.3 372,390.7 386,390.3 396,393.5 402.1,394 404.4,398 404.1,404 401.1,408 394,412.2ZM638,414.5 634,414.2 632.7,412 632.6,410 634,406.9 642,398.7 646,397.9 648,398.6 650.4,402 649.8,408 648,410.2 638,414.5ZM822,464.8 812,464.5 811.4,462 812,460.6 822,456.4 824,457.4 824.8,462 823.8,464 822,464.8Z" fill="#009de6" fill-rule="evenodd"/>
<path d="M908,483.1 880,471.5 854,455.3 844,454 840,452 826,450.6 812,446.5 804,446.6 798,448.2 792,448.5 786,446.1 783.5,442 779.6,430 762.3,410 758,401.7 751.7,362 752.4,358 751.2,342 756.9,326 759.4,314 774,284 790,258.3 801.1,244 814,232.5 829.2,216 843.9,194 858,170.3 865.1,162 869.5,154 870.1,150 873,146 908.1,146 908,483.1ZM388,174.1 384,175.6 378.8,174 376.6,170 377.1,166 378.4,164 381.7,162 384,161.7 388,162.4 389.9,164 390.8,170 388,174.1ZM422,186.1 416.7,186 413.3,184 411.9,182 411.9,176 414,172.9 416,171.8 420,171.7 424,174.7 425.9,178 425.8,182 422,186.1ZM620,188.3 616,187.1 614,184.3 613.6,182 616,177 620,175.5 624,177 626.2,182 624.5,186 620,188.3ZM360,199.1 358,199.3 356,196.7 356.3,194 358,191.7 360,191.6 362,194 362,196 360,199.1ZM468,248.6 466,250 464,249.9 461.3,248 459.9,244 462,240.2 466,239.8 468.6,242 469.1,246 468,248.6ZM290,256.1 285.5,254 284.2,252 284,248 287.4,244 292,243.5 296.5,246 297.7,250 295.7,254 290,256.1ZM256,282.1 250,283.6 244,281.2 240.3,276 239.6,268 242,262.3 250,256.9 256,255 262,255.2 267.6,258 269.4,260 271,264 270.7,268 266.8,274 256,282.1ZM556,582.2 550,581.8 545.5,578 532,559.1 528.5,556 525.4,548 514,537.3 504,534.4 500.9,532 498.1,526 498.6,518 497.5,516 486,508.2 480,507.5 476,505.6 469.6,500 467.9,490 466,486 456,476 454.4,472 457.1,466 471.3,456 475,452 475.7,448 473.8,442 470,439.7 450,434.6 440,438 436,437.8 432.9,436 432.1,434 434.1,424 432.3,416 434,410.1 436,407.2 446.7,402 450,398.1 451.7,394 452.9,386 462,354 460.7,346 463.1,340 461.6,338 450,329.2 444,322.4 439.5,314 438.4,304 442.7,294 451.3,284 454.4,270 457.3,264 462,258.8 466,257.1 472,256.9 478,259.7 480.6,262 482.9,270 481.1,286 481.5,290 491.8,300 494.5,306 494.4,310 491.9,318 484,324.6 481.3,328 480.2,334 477,340 478.8,344 477.8,350 488,357.2 495.5,368 495.4,386 502,397.5 515.3,416 519,424 520.5,440 526.8,456 526.5,470 527.7,474 533.4,482 555.1,500 559.1,508 561.2,520 566.9,530 567.6,536 566.4,546 568.2,552 568.3,556 560.3,564 560.1,568 561.8,576 560,579.7 556,582.2ZM348,322.9 342,323.9 338,323.1 333.3,320 330.8,316 330,310 330.8,306 333.7,302 340,298.4 344,297.7 348,298.4 352.9,302 355.4,306 356.4,312 355.3,316 352,320.5 348,322.9ZM246,300.3 244,300.3 244,299 246,299.1 246,300.3ZM686,350.1 682,351.6 678,351.5 672,348 666,341.3 662,338.6 658,337.1 652,338.1 648,337 646,334.8 645.2,332 645.6,322 646.8,318 650,315.7 654,316.1 662,322.2 670,322.8 676,327 687.1,332 690.5,336 691,340 688.5,348 686,350.1ZM312,352 309.9,350 312,347.6 314.1,350 312,352ZM388,402.8 384,403.8 380,402.2 375.3,402 369.8,398 368.8,396 370,394 380,396.1 384,394.8 388,395.2 390.7,398 390.6,400 388,402.8ZM646,408.2 642.3,408 640.7,406 642,402.2 644,401.1 646,401.1 648.2,404 648,406.1 646,408.2Z" fill="#0094e8" fill-rule="evenodd"/>
<path d="M908,472.8 902,469.8 892,466.9 869.5,458 862,456.5 856,453.7 845.8,452 808,440.7 800,441.4 792,444.6 788,443.5 785.8,440 786.6,432 785.2,428 782,424.9 776,422.1 771.7,418 762.3,400 760.6,394 760.5,388 758.5,376 755.5,364 756.1,356 754.5,346 756.2,334 766.1,308 777.7,286 793.6,262 802,246 830.3,216 845.3,194 859.9,170 872,160.7 878.5,152 878,150.9 874,151.7 872,151.1 871.6,150 874.2,146 908.1,146 908,472.8ZM620,186.1 618,185.8 616,184.2 615.5,182 616,180 620,178 622,178.8 623.6,182 623,184 620,186.1ZM470,286.4 464,287.1 462,285.7 458.4,280 457.2,274 458.2,268 460.5,264 464,261.3 470,260.1 476,261.9 478,263.8 479.8,270 477.3,280 474,284.1 470,286.4ZM462,322 454,321.7 448,318.4 444,313.4 442.2,306 442.9,302 448,294.6 454,291.3 460,290.1 464,291 473.5,304 475.2,308 474.9,310 470.9,316 466.3,320 462,322ZM348,321 344,322 340,321.3 336,318.5 334.4,316 333.8,310 335.2,306 338,303.2 342,301.2 348,301.6 352,304.8 353.8,308 354.4,312 353.3,316 348,321ZM900.4,408 903.5,406 906.5,402 907.6,398 906.8,394 904.2,390 900,387.1 896,386.3 892,387 887.5,390 885.2,394 884.6,398 885.7,402 888.6,406 892,408.1 896,408.9 900.4,408ZM556,580 552,580 548.9,578 533.1,554 528,548 520,541.7 514,535.4 504,533.2 500,528.3 500.1,516 498,513.2 493.6,510 491.5,506 488.5,498 487.5,488 489.8,482 496,473.5 506,467.6 508,467.2 512,469.1 522,478.2 526.5,484 550,499.1 554,504.1 558.4,520 566.1,532 566.2,536 563.9,546 567,554 566,557.1 560,559.6 558.1,562 557.2,566 560,573.5 559.9,576 558,578.9 556,580Z" fill="#008be9" fill-rule="evenodd"/>
<path d="M882,452.1 874,453.1 862,450.6 851.9,450 840,445.1 798,431 792.7,428 784,419.5 775.4,418 773.7,416 773.3,412 775.3,408 780,404.2 780.2,398 776.5,392 771.2,386 766,377.4 762.2,364 761.4,356 757.4,348 759.8,338 759.6,332 761.2,328 792,269.8 799.1,260 805.6,254 810.7,244 820,233.3 847.4,194 860,173.4 862.8,170 872.8,162 880.5,152 880,149.1 874.5,148 875.3,146 908,146 908,372.1 898,372 888,375.7 884,378.6 879.2,384 875.8,390 874.9,394 875.2,398 879.5,412 884,419 888,422.3 894,425.3 900,426.8 908,426.9 908,431.8 905.2,432 905,434 908,434.4 908,451.7 892,449.1 886,449.7 882,452.1ZM472,279 466,279.3 463.7,278 461.1,274 461.4,268 464,264.5 466,263.5 472,263.5 476,267.1 476,272.9 474,277.2 472,279ZM460,312.1 454,313.7 450,312.1 448.2,310 446.9,304 450,299.4 452.9,298 456,297.8 462.1,302 462.9,304 462.7,308 460,312.1ZM348,318.8 342,319.5 337.6,316 336.9,310 339.4,306 342,304.5 346,304 348,304.8 352,309.8 352,314 348,318.8ZM550,564.2 548,564.3 542,561.5 539,556 530.8,548 520,540.1 514,533 506,532.8 502.2,530 501.1,526 502.8,514 501.9,510 502.6,506 499.6,500 498.7,494 499.5,490 502,487.4 508,485.8 524,490.2 530,492.9 535.4,498 544,500.2 549.2,504 550.7,508 551.4,518 552.3,520 562.9,530 564.6,534 563.2,538 558.4,540 557.9,542 559.6,546 559.4,550 553.4,558 552,562.8 550,564.2ZM556,576.9 554,577.2 552,576 551.5,574 553,572 556,572.2 557.1,574 556,576.9Z" fill="#0081e7" fill-rule="evenodd"/>
<path d="M852,432.2 848,433.2 844,432.4 836.5,426 830,424 826,424.8 818,429.4 812,429.3 804.4,426 796,417.4 791,410 785.9,392 776.2,376 766.2,350 763.9,348 763.3,346 766,334 764.6,328 767.6,320 773.6,310 792,289.3 802.6,274 818,244.6 822.1,238 828,232.1 839.2,210 852.7,192 866,171.5 880.9,154 883.4,148 882,146 878,146.7 877.3,146 908,146 908,343.4 896,348.9 884,358.4 876,368.3 865.6,386 855.2,396 853.6,400 852.7,406 846.2,412 845,416 846,421.3 850.2,426 852,432.2ZM468,274.1 466,272.7 465.3,270 466,268 470,267.1 472,268.9 472,271.7 470,273.9 468,274.1ZM346,316.8 342,316.2 340.3,314 340.6,310 344,307.5 348,308.8 349.5,312 348,315.7 346,316.8ZM542,552.1 538,551.5 530,544.7 521.8,540 518.7,536 516,527.9 510,531.4 506,531.3 504,530 502.8,526 506,516.9 508,515.9 514,518.9 516.4,514 516,509.3 518,507.3 526,505.1 528,505.7 537.6,516 544,520.8 552,531.5 554,532.2 558,530.9 560,531.5 562,533.5 561.3,536 560,536.5 554,536.1 553.4,540 556,544 556.5,546 555.6,548 542,552.1Z" fill="#0074da" fill-rule="evenodd"/>
<path d="M820,422.3 816,422.9 812,421.7 806.9,416 799,410 796,406 788.7,384 778,363.2 776,357.2 774.1,340 772.3,336 772.8,332 776.2,328 777.2,322 788.2,300 800,281.7 805.3,278 808.9,274 827.5,238 830,237.6 832,240.4 834.6,238 869,186 874.3,180 890,157.1 895.2,154 898.9,146 908,146 908,193.5 894,230.7 879.2,280 870,319.1 858.9,380 840,418.3 836,420.4 828,420.2 820,422.3ZM542,548.1 538,548.2 530,541.5 525,540 521.9,538 520,532 524,520.6 534,522.6 540,525.3 544,528.4 547,534 547.9,540 546,545.2 542,548.1ZM510,528.2 508,529.2 506,528.5 506,524.6 508,523.2 509.6,524 510.5,526 510,528.2Z" fill="#0067ce" fill-rule="evenodd"/>
<path d="M836,414.6 820,415.7 814,414.5 804,407.2 801.8,404 799,396 796.8,380 796.5,352 792.3,322 794,313.9 796,309.3 804,297.9 812,291.1 814,291.1 816,293.2 828,310.8 832,313.6 836,321.2 844,340 846.9,358 848.9,364 851.7,380 851.2,388 848,395.8 840.8,406 838,412.9 836,414.6ZM542,544.7 540,545.3 536,544 532,536.6 526,537 524,536.2 523.3,534 524,532 526,530.7 528,530.9 532,535.3 538,532.4 542,533.5 544,536.1 544.8,540 544,542.8 542,544.7Z" fill="#005cc1" fill-rule="evenodd"/>
<path d="M826,406.2 820,407.8 816.9,406 809.7,394 808.1,388 810,382.1 814,377.7 822,373.1 828,371.6 832,372.4 842,377.6 846,382.4 847.2,388 846.3,392 844,395.6 826,406.2Z" fill="#0051b4" fill-rule="evenodd"/>
</g>
<path d="M160.7,379.1 160.9,381.3 164.4,381.5 166.3,385.9 166.2,392M177.1,370.2 179.8,370.6 179.5,374.5 180.6,376.1 182.3,376.7 184.7,375.5 188.3,378M208.9,382.9 209.4,384.6 206,387.9 206.2,389.3 202.9,391.2 199.8,389.6 198.9,390.5 198.3,393.8M189.1,391.5 188.3,391 187.5,387.8 190.7,384.4 189.9,381.8 188.8,380.9 188.3,378M188.3,378 190.8,375.3 192.4,375.1 192.3,370.9 193.7,370.1 196.2,371.3 198.5,369.6 200.7,371.4 203.6,371 204.7,370M231.5,332.3 228.8,331.3 226.6,326.5 222.6,329.1 221.8,328.2M208.6,372.5 207.4,370.1 204.7,370M204.7,370 201.1,363.6 201.8,359 203,357.6 202,354.4M226.4,354.6 223.3,354.4 221.6,350.4 213.9,349.4 210.2,345.4 210.1,343.6 210.1,343.6M208.6,372.5 212,373.4 214.1,370.7 215.6,370.6 217.2,369.1 217,366.1 225.1,363.3 227.3,363.9M208.9,382.9 207.5,379.7 208.7,377.6 207.5,375.4 208.6,372.5M208.9,382.9 213.8,380.5 215.2,383.3 218.5,384.2 222.2,389.2 224.8,386.3 227.7,387.3 228.1,389.5 228.6,389.8M231.3,304 233.1,304.7 235.1,307.3 238.7,306.2 239.6,306.7M226.4,354.6 226.7,357.8 228.5,359.1 227.3,363.9M226.4,354.6 227.9,353.1 226.3,349.3 230.7,346.2 231.8,340.5 234.4,339.9 235.5,338.7 235.8,336.3M230.4,364.1 227.3,363.9M240.1,382.1 237,377.3 238.6,372.4 237.8,371.7 232.7,371.8 232,368.6 232.7,367.4 230.4,364.1M230.4,364.1 233.7,360.3 235.5,361.7 239.5,362.5 240.5,357.3 241.5,357 244.4,358.9 247.1,357.7 249.2,358.7 252.5,356 254.1,356.3M240.1,382.1 236.3,387M231.5,332.3 231.8,333.7 235.8,336.3M239.6,306.7 241.6,313.5 240.3,315.4 237.7,316 236.1,320.1 236.9,320.8 237.3,324.9 236.3,325.7 232,324.8 231,325.4 232.7,330.3 231.5,332.3M246.7,288.9 247.5,290.4M244.2,337.3 241.5,337.2 240.1,335.6 237.8,335.1 235.8,336.3M239.6,306.7 242.4,305.3 245.3,306.9 246.7,305.3M255.4,379 245.4,382.3 243.7,381.7 240.1,382.1M244.2,337.3 246.5,341.3 249.1,341.8 250.1,346.2 252.1,346.6 256.3,353M261.6,332 260,333.2 251,330.4 250,331.3 250,335.4 249,335.9 245.9,334.9 244.2,337.3M270.4,244.3 271.2,245.3 272.4,245.2M256.6,266.6 256.7,266.7 259.5,265.6 261.7,268.4 261.5,270 265.4,270.7M259.8,312.3 256.9,314.1 253.7,311.8 253.6,309.3 250.8,308.1 250.3,305.4 246.7,305.3M246.7,305.3 246.1,300.6 252.2,296.4 250.8,295.3 247.5,294.9 245.9,292.5 247.5,290.4M256.6,288.6 254.4,290.4 251.3,289.3 249.7,290.6 247.5,290.4M254.1,356.3 254.8,361.5 253.1,364.6 253.6,365.7 252.9,368.2 259,375.5M254.1,356.3 255.5,355.4 256.3,353M253.6,393.4 253.7,393 255.5,393.1 257.9,390.5 255.9,388 257,381.4 255.4,379M255.4,379 259,375.5M263.5,350.5 261.9,353.8 258.6,352.2 256.3,353M256.6,288.6 258.9,290.7 263,290 263.8,291.7 266.4,292.9 267.7,296 267.2,297.4 270.4,300.6 272.1,300.6M256.6,288.6 256.9,286.3 258.2,285.5 260.3,285.8 262.8,283.9 262,280.1 265.7,280.3 267.9,277.7 269.1,277.5M259,375.5 261.5,375.1 262.8,376.9 267.5,379 271.2,377.6M261.6,332 262,328.7 259.9,327.3 260.2,325.4 257,322.4 260.1,319.6 262.6,315.2 259.8,312.3M259.8,312.3 260.1,311.2 265.2,310.3 266,308 268.9,306.1 274.3,305.5M261.6,332 266.5,333M277,356.4 274.9,356.3 273.6,351.5 272.6,351 270.3,351.8 263.5,350.5M266.5,333 266.4,334.2 261.2,338.6 266.6,340.6 266,345.4 262.7,348.9 263.5,350.5M282.9,233.7 281.7,229.6 276.7,230.6 277.8,226.4 275.6,224.4M265.4,270.7 266.2,272.4 269.8,273.4 269.1,277.5M265.4,270.7 267.3,267.8 272.2,265.2 274.2,266 276.8,264.7 276,258.6M266.5,333 267.6,331.7 271.6,332.8 274.3,328.1 278.7,326.3M284.1,287.1 283.4,285.1 279.7,283.6 280.9,280.3 279,277.7 275.7,277.4 274.8,278.6 269.1,277.5M271.2,377.6 273.5,379.4 272.9,381 274.7,383.9 277.8,382.5 279.4,383.7 278.7,387.5M277,356.4 278.3,360.5 277.2,362.7 278.5,364.8 277.6,366.5 273.2,368.6 274.2,370.6 273.2,374.2 271.6,374.6 271.2,377.6M274.3,305.5 272.1,300.6M284.1,287.1 282,289.2 282.5,292.5 281.6,293.3 276.7,292.2 276.2,296.1 278.7,297.7 278.9,298.8 277.5,301 273.5,299.4 272.1,300.6M272.4,245.2 276,258.6M282.9,233.7 278.4,235.1 278.7,238.6 274.6,240.7 274.2,243.9 272.4,245.2M277.3,312.3 274.3,311.2 274.9,305.8 274.3,305.5M299,219 297.1,216.9 295.5,216.5 291.6,218.4 288.6,212.9 286.9,213.5 286.9,213.5M289.1,258 281.9,256 279.4,258.7 276,258.6M277,356.4 278.9,355.1 281.4,355.8 283.6,353.5 288,355.7M278.7,326.3 278.3,322.7 279.3,317.6 278.1,316.8 277.3,312.3M277.3,312.3 281,310.4 283.4,314.3 285.3,314.8 288.1,311.4 292.5,313.6 293.1,313 297.1,312.8 298.7,314.6 301.3,313.7 302.8,314.5M293.4,334.8 290.2,332 286.5,334 284,330.7 281.8,330 281.4,328.4 278.7,326.3M278.7,387.5 280.3,389.1 284.5,387.4 285.2,387.9 290.5,386.5M278.7,387.5 275.7,387.5 273.6,393.7 276.3,397.1 274.8,398.4M290.1,231.4 286.8,231.8 284.8,234.4 282.9,233.7M289.2,283.3 286.7,287.8 284.1,287.1M288,355.7 287.9,356.6 291,360.3 294.5,358.9 295.6,359.4M293.4,334.8 289.7,338.9 292.3,342 289.3,345.2 290.4,348.1 286.8,349.8 289.1,354.2 288,355.7M289.1,258 290.5,260.2 288.4,263.7 290.2,265.8 292.3,266.4 294.3,269.2 293.3,270.8 294.1,274.5M289.1,258 290.8,254.6 294.2,256 295.5,255.5 295.3,251.7 297.7,249.9M289.2,283.3 292.3,286.9 292.4,288.8 293.9,289.7 298.1,289.4 298.5,290.5 301.6,293 299.8,296.6 302,298.8 304.4,298.7M294.1,274.5 290.5,277.3 291.2,280.6 289.2,283.3M290.1,231.4 292,233.6 291.3,236.4 293,238.7 292.2,241.8 289.9,243.2 289.8,246.4 290.8,248.2 296.3,246 297.2,246.9 297.7,249.9M299.5,227.8 297.2,229.8 295.7,229.7 292.9,226.7 290.9,227.7 290.1,231.4M295.9,397.7 297.3,395.9 296.8,394.5 294.6,392.7 293.9,390.5 292.3,390 290.5,386.5M290.5,386.5 291.5,381.6 290.5,376.6 294.6,376 296.2,374.1 299.9,374.4M293.4,334.8 297.1,331.2 300.4,333.9 304.2,332.3M294.1,274.5 297.1,275.5 299.3,272.3 302.8,273.6 305.8,271.3 307.1,271.2M299.9,374.4 299.9,370.1 298.8,368.9 298.6,367.1 296.1,365.3 296.8,361.5 295.6,359.4M295.6,359.4 298.9,357 301.6,358.4 303.7,357.6 303.9,355.8 306.5,353.6 307.5,353.7 309.2,355.8 312.1,355M300.1,398.8 300.2,397.2 302,396.5 303.7,393.3 305,393.1M297.7,249.9 302.2,251.9M299,219 297.1,223.3 299.5,225.9 299.5,227.8M299,219 301.4,218.9 303.3,216.9 307.1,216.8 307.1,212.7 310.4,210.8M309.9,235.7 307.3,231.7 303.6,232.4 302.8,230.3 299.5,227.8M299.9,374.4 300.9,375.4 304.7,373.5 307.7,375.6M302.2,251.9 305,252.9 306.8,256.8 308.6,256.9 311,259.6 307.5,262.9 307,264.4 307.9,265.5M309.9,235.7 308,241.4 307.5,246.4 303.8,247 302.2,251.9M302.8,314.5 302.8,317.2 305.4,318.8 304.2,322.7 304.4,327 303.4,328.2 304.2,332.3M302.8,314.5 306.8,312.9 306.2,310.4M312.4,337.1 309.9,330.7 306.1,332.5 304.2,332.3M304.4,298.7 306.3,302.1 305.9,303.9 304.7,305 304.4,308.9 306.2,310.4M313.5,289.1 310.7,290.2 310.3,292.5 305.3,294 305.3,297.2 304.4,298.7M305,393.1 307.3,395.2 310.9,394.2 311.8,392.3 313.5,391.5 316.4,394 320.2,391.9 321.7,394.2 324.9,394.7 326,396.1M307.7,375.6 305.6,380.8 307.5,389.3 305,393.1M306.2,310.4 311.2,307.1 312.6,309.6 314.9,310.4 318.2,308.8 322.6,308.3 328.9,309M307.1,271.2 308.8,272.1 309.2,273.3 307.5,278 308.4,278.9 311.6,279.2 313.9,281.7 313.5,289.1M307.1,271.2 307.9,265.5M307.7,375.6 309.2,375 310.1,372.9 313,371.8 316.3,373.6 318.2,369.7M312.8,266.3 307.9,265.5M309.9,235.7 313.8,231.2 316.7,234.1 320.3,232.1 323.4,232.8M317.1,217.4 315.2,215.5 311.4,216 310.4,210.8M307.9,198.6 308.1,202.3 310,203.7 309,208.1 310.4,210.8M320.5,358.3 316.9,356.2 314.6,357.2 312.1,355M312.1,355 312.9,352.2 310.1,350.3 311.1,347.8 309.6,343.1 310.5,342.6 312.4,337.1M322.8,335.1 319.1,335.1 316.7,332.3 312.4,337.1M313.2,196.9 313.3,197 318.6,197.3M334.8,275 332.1,275.5 328.7,272.1 319.5,271.8 319.9,266.2 313.5,267.5 312.8,266.3M331.8,247.7 330.3,252.9 328,254 326.7,253.6 324.2,254.2 323.2,255.6 319.1,256.6 315.7,259 316.4,262 313.2,264.4 312.8,266.3M324.5,292.4 322.9,290.1 319.8,291.2 313.5,289.1M323.4,232.8 324.7,229 321.9,226.7 321.7,225.2 319.8,224.2 319.3,219.8 317.4,218.8 317.1,217.4M317.1,217.4 320.7,213.8 319.1,210.4 319.4,209.4 322.8,208.2M327.1,407.4 327.8,406.8 326.7,403 328.3,401.1 325.7,397.8 326,396.1M318.2,369.7 321.6,370 322.2,374.4 324.1,375.9M318.2,369.7 316.9,367.2 318.8,365 318.3,361.6 320.5,358.3M318.6,197.3 320,200.9 319.6,201.8 323.5,205.9 322.8,208.2M318.6,197.3 319.4,195.5 322.9,194.2 325.1,188.6 327.8,185.9M324.6,177.1 324.7,177.2 324.1,179.1 327.8,185.9M320.5,358.3 325.7,358.2 327.5,354.9 329.9,355.7 332.5,353.2 331.3,349.8 332.6,348.6M322.8,208.2 324.5,209.6 329.4,208.5 337.1,209.5M322.8,335.1 326.4,337.2 326.6,340.9 330.9,339.9 332.5,342.9 331.4,344.3 332.6,348.6M322.8,335.1 323.7,332.9 328.5,331.1 329.2,326.7 332.8,326.3 334.3,323.4M323.4,232.8 324.4,234.6M328.7,395.3 330.9,388.9 329.8,387.4 326.3,386.7 324.1,375.9M343.2,373 339.9,372.5 338,373.8 336.1,372.2 326.1,373.8 324.1,375.9M324.4,234.6 326.6,238.5 325.3,242.1 330.6,245.8 331.8,247.7M324.4,234.6 330.8,232.2 332.2,233.5 336.9,232.9M335.6,284 333.5,286.9 328.1,286.1 328.7,289.7 327.2,292.4 324.5,292.4M324.5,292.4 323.3,295.1 325.1,296.9 323.7,300.3 326.4,302.5 329.2,308.2 328.9,309M326,396.1 328.7,395.3M327.8,185.9 329.8,185.9 332.4,189.2 336.4,186.5 337.7,186.6M328.7,395.3 330.9,396.6 333.8,394.4 335.6,395.6 339.2,393.6M338.3,413.8 339,413.7 341.5,416.3 345,414.9 345.5,413.8 348.1,412.9 349.6,413.3M328.9,309 333.2,312.3M331.8,247.7 335.4,249.3 335.6,251.3 340.2,254.3M332.6,348.6 335.1,348.5M334.3,323.4 332.6,321.5 332.9,318.9 330.6,316.2 333.2,312.3M346.1,303.7 344.3,307.1 343.2,307.5 340.9,306.1 339.2,306.7 337,305.3 334.6,306.7 335.4,309.6 333.2,312.3M334.3,323.4 337.6,321.9 341.4,324.1 341.6,325.2 346.3,326.2 347.4,327.2 351,325.4M335.6,284 334.2,281 337.9,278.2 334.8,275M334.8,275 335.5,272.8 333.3,269.4 338.5,267.5 337.3,265.2 337,260.4 342.7,261.3 343.6,258.6 340.2,254.3M346.2,361.6 342.2,358.2 339.6,359.3 336.4,357 337.2,351.5 335.1,348.5M354,330.3 350.5,331.7 349.6,333.9 345.7,334.6 347.3,339.7 345.8,341.1 344,341.2 340.2,339 339.2,339.5 339.5,345.6 336.6,346.2 335.1,348.5M335.6,284 338.1,284.7 339.8,283.1 344.3,284.8 348.5,285 349.6,285.9M336.9,232.9 339.7,235.1 341.7,234.1 347.1,235.1M336.9,232.9 337.4,228.5 336.4,226.9 337.8,223.7 342,223.9 342.1,220.5 344.6,219M337.1,209.5 338.3,211.5 342.1,211.8 344.6,219M337.1,209.5 339.3,206 336.5,203.6 339,199.2 340.6,199.4 343.5,196.3M349.4,174.7 346.5,170.7 343.7,172.1 339.8,169.3 340.5,167.6M343.5,196.3 343.1,194.4 339.3,194.2 338.2,192.2 339.6,189.3 337.7,186.6M337.7,186.6 345.2,177.8 347.4,178.1 348.4,177.2 349.4,174.7M339.2,393.6 341.9,396.7 340.8,399 346,402.4 348.1,401.6 351.4,405.5M343.1,380.8 341.1,385.9 337.2,389.8 339.2,392.2 339.2,393.6M347.1,235.1 346.9,239.7 344.1,244.7 343.8,248.1 341.4,249.5 340.8,253.6M340.8,253.6 346.4,253.5M343.1,380.8 346.1,381.7 347.6,385.3 351,384.1 352.6,384.9 355.4,383.8 357.3,384.6 356.9,388.1 360.5,389.7 362.6,388.4M343.1,380.8 342.3,378.3 344.1,376 343.2,373M346.2,361.6 342.2,364.6 341.7,366.6 344.5,368.9 344.7,370.5 343.2,373M352.4,198.8 347.2,198.7 343.5,196.3M344.6,219 346.9,219.8 348.9,217.4 353.7,218.2M353.9,315.9 350.7,313.4 351.9,309.1 349.9,308.4 348.3,304.5 346.1,303.7M349.6,285.9 350,288.8 348.9,290.4 351.8,294.9 345.5,302.2 346.1,303.7M346.2,361.6 348.6,363.3 352.2,363M355.3,268.4 352.6,263.2 348.2,265.7 346.3,264.6 348.8,259.3 344.6,258.1 346.4,253.5M360.9,249.8 359.5,251.6 355.1,248.9 353.2,250.4 352.3,253.8 349.4,254.2 347.1,253 346.4,253.5M355.6,233.3 352.6,236.4 349.8,234.5 347.1,235.1M349.4,174.7 351.4,173.7 354.5,174.5M353.4,284.2 349.6,285.9M349.6,413.3 350.8,417.4 352.8,417.9 353.2,419.1M351.4,405.5 350.2,407.1 351.6,411.6 349.6,413.3M354,330.3 354,327 351,325.4M351,325.4 350.9,322.9 354.7,319.2 353.9,315.9M351.4,405.5 358.4,404.2 359,403 363,400.7 364.1,395.1M352.2,363 356.1,364.3 358,367.5 362.2,365.2 363.9,365.4 363.6,369.3 367,371.8M360.6,343.3 357.2,346.9 359.1,349.3 358.2,351.7 351.2,353.8 350.6,356.9 353.2,359.6 352.2,363M352.4,198.8 353.4,200.5M358.9,183.7 358.7,186.4 354.8,187.8 353.1,189.5 351.9,193.9 353,195.1 352.4,198.8M362.1,289.1 360.4,285 358.9,284.5 355.6,286.6 353.4,284.2M353.4,284.2 353.7,282.1 351.7,280.1 351.8,278.7 355.5,277 355.7,275.8 353.5,273.1 355.3,268.4M353.4,200.5 351.8,204.1 356.9,206.2 355.7,209.6 356.4,211.1 353.5,213.8 354.2,217.5M353.4,200.5 355.6,200.4 359.3,197.2 360.1,197.4 361.6,202.1 363.5,203.2 366.2,197.8 368.4,198.9 371,197.5M355.6,233.3 355.6,231.8 357.6,230.3 356.6,225.5 357.5,222.1 353.9,219.3 353.7,218.2M353.9,315.9 356,313.7 356.1,311.3 358.5,309.8 360.2,310.7 362.7,309.6 365.8,312.1 368.3,308.1M354,330.3 360,335.9M372.9,217.1 369.5,217.8 367.2,214.4 364.3,217.9 360.5,218 357.8,216.5 354.2,217.5M358.9,183.7 356.2,179.8 354.5,174.5M354.5,174.5 356.1,172.7 355.1,167.5 355.5,166.9 359.3,168.3 363.2,166.9 362.3,162.3 362.8,161.8M355.3,268.4 358.9,264.3 365.2,263.9 364.9,261.2 368.6,258.7M355.6,233.3 357.6,235.6 360.7,235.1M359.4,157.2 361.7,157.2 363.4,159.4 362.8,161.8M358.9,183.7 367.8,180.7 368.8,181.6 368.5,186.8 374,186.4M360,335.9 360.5,337.6 359.3,341.5 360.6,343.3M376.6,326.7 372.9,325.9 370.4,329.5 370.9,331.2 368.9,334.1 366.4,334.1 363.6,332.4 360,335.9M360.6,343.3 366.5,345.8 368.3,344.2 371,344.6 372,345.9 369,350.6 371.8,352.1 375.2,351 378.1,354.3M360.7,235.1 361.9,238.5 358.8,239.9 359.7,244.5 360.5,244.8 360.9,249.8M376.4,230 371.2,231.8 365.8,229.1 364.3,233.1 361.6,233.6 360.7,235.1M360.9,249.8 365.7,249.4 368.7,253.8M362.1,289.1 361.8,289.9 364.7,293.4 364.2,296.2 366.5,298.5 370.3,297.1 373.2,298.9M362.1,289.1 365.9,286.8 365.5,281.7 367.4,281.5 369.4,282.4 373.5,280.6 374.9,281.6 378,280.3 380.5,281.5 381.8,283.9M362.6,388.4 364.8,390.1M367,371.8 365.3,375 367,378 366.6,379.1 364,380.8 364.1,384.6 362.7,385.8 362.6,388.4M362.8,161.8 368.5,162.6 369.9,160.5 374.4,161.6M365.1,419.8 369.1,414.4 368.6,413.6 370.4,408.1M364.1,395.1 367.2,395.4 368.4,397.8 366.7,401.5 369.3,403.4 369.3,407.1 370.4,408.1M364.1,395.1 364.8,390.1M382.8,386.6 379,388.5 376.8,387 373.8,388.2 372.2,387.5 368.8,388.6 368.2,389.7 364.8,390.1M374.9,361.2 372.1,365.6 371.1,365.4 368.3,366.8 368.4,371.3 367,371.8M377.2,321.9 373.3,321.5 372.3,319.1 372.7,317.9 370.4,314.5 371.3,313.3 370.5,308.9 368.3,308.1M368.3,308.1 367.3,306.2 369.9,302.9 371.3,302.6 373.2,298.9M386.2,277.8 383.3,276.7 379.5,270 376.9,267.7 373.2,268 373.5,262.8 370.7,262.1 368.6,258.7M368.6,258.7 367.6,256.7 368.7,253.8M374.8,251.3 374,251.2 371.9,253.9 368.7,253.8M370.4,408.1 372.3,408.4 375.4,406.7 379,410.3 380.1,409.7 381.3,406.1 386.3,406.1M375.5,199.9 371,197.5M371,197.5 371.4,193.2 372.7,192.9 374,186.4M374,218.4 372.9,217.1M372.9,217.1 373.4,213.1 371.3,211.8 371.2,208.2 375,205.9 374.3,202.3 375.5,199.9M373.2,298.9 377.6,290.8 378.7,290.4 380.4,291.2 384.6,289.6 384.7,287.9 381.8,283.9M378.2,183.2 375,183.9 374,186.4M374,218.4 372.6,225.4 376.8,227.8 376.4,230M386.1,219.7 384.4,219.4 381.4,220.9 379.5,220.4 378,217.5 374,218.4M382,175 380.6,174.6 379.1,172.1 379.5,169.9 374.5,165.6 374.4,161.6M374.4,161.6 375.5,160.7 377.7,160.6M397,267.3 392.7,265 392.5,263.3 394.2,260.3 390.9,256.8 389,257.7 386.3,256.7 385.2,253.5 385.7,252 383,249.2 381.5,249.2 379,254.4 378.3,254.6 374.8,251.3M387.3,238.5 381.9,239 383.6,243.2 380.3,244.4 379.2,247.2 374.8,251.3M374.9,361.2 375.7,361.4 378.3,365 373.9,367.9 374,368.5 374.9,369.7 378.5,370.3M374.9,361.2 373.9,359.9 374.3,356.9 378.1,354.3M375.5,199.9 376.5,199.3 380.2,202.6 383.5,202.3M376.4,230 377.2,236.1 379.9,237.3 382,234.4 385.1,234.1M377.2,321.9 376.6,326.7M391.3,335.8 390.1,331.1 385.2,332.9 384.6,330 382,328.8 381.7,325.4 376.6,326.7M396,317.2 384,316.4 381.7,313.8 377.3,316.6 378.5,320.8 377.2,321.9M392.1,342.2 389.9,343.8 389.7,347.7 386.4,348.1 385.4,349.9 381.1,349.5 379.9,353.1 378.1,354.3M378.2,183.2 380.5,186.9 387.2,188 389.1,193.9M378.2,183.2 380.1,181.1 382.3,180.8 382,175M378.5,370.3 379.3,372.6 375.9,375.9 376.2,377.3 378.9,377.7 381.5,381.4 381.2,382.3 382.8,386.6M400.3,372.2 396,368.6 393.4,371.7 390.1,369.3 390,366.6 385.1,366.9 384.3,369.5 380,368.5 378.5,370.3M381.8,283.9 386.3,281.9M390.6,172 385.2,174.9 383.6,174.4 382,175M391.7,390 388.2,388.8 385.2,391.6 382.8,386.6M383.5,202.3 384.2,203.7 388.9,204.1M383.5,202.3 384.3,199.4 382.4,197.1 383.4,193.7 388.5,194.4 389.1,193.9M388.8,420.9 388.9,419.9 383.9,416 385.5,413.2 389.8,412.6M387.3,238.5 385.1,234.1M389.2,224.5 390.1,226.6 386.8,230.4 387.2,232.1 385.1,234.1M389.2,224.5 387.6,223.7 386.1,219.7M388.9,204.1 388.4,207.3 384.6,209 384.4,210.3 385.6,212.1 387.5,213 388.5,217.6 386.1,219.7M386.2,277.8 387.1,279.8 386.3,281.9M386.2,277.8 389.1,274.3 393.6,276.5 395.4,271.3 397.2,269.4M399.1,289.5 396.9,287.7 394.3,288.5 391.4,285.4 388.4,285.4 386.3,281.9M386.3,406.1 389.6,407.4 390.2,408.3 389.8,412.6M391.7,390 389.7,393.3 390.6,396.6 388.2,398.2 388.2,400.7 386.1,403.9 386.3,406.1M387.3,238.5 390.7,237 394.4,237.9 399.4,237.7M388.9,204.1 393.9,205.6 394.3,207.6 396.5,208.3 399.3,207.5 400.1,204.6 403.8,202.7M396.6,189.2 393.3,189 391.6,193.8 389.1,193.9M389.2,224.5 393.8,221 395.7,222.5 399.2,223.7 399.6,224.7 403.9,227.2 405.1,226.5M389.8,412.6 394,413.4 396.5,407.9 398.6,408.4 398.8,415.1 404.2,412 405.1,412.2M396.6,189.2 397.6,188.1 396,183.3 396.7,182.4 396,179.9 393.3,178.5 393.9,176 390.6,172M390.6,172 396.3,171.3 397.6,169.4M392.1,342.2 392.1,339.7 390.4,337.4 391.3,335.8M391.3,335.8 394.5,334.6 394.8,331 395.7,330.3M405.1,412.2 405.9,413.4 405.6,417.4M391.7,390 395.6,389.6 398.9,390.6 401.2,388.4M392.1,342.2 394.9,344.4 397.1,343.3 399.6,344 399.5,348.5 400.6,349.3 403.5,348.5 406,353.3M395.7,330.3 399.4,330.6 400.5,332.5 404.7,332.4 405.2,326.5 406.5,326.3 410.6,329.3 414.2,329.8 415.9,325.8M395.7,330.3 394.8,327.1 397.3,324.7 394.9,322 396.5,319 396,317.2M401.8,310.8 397.1,313.3 397.3,315.2 396,317.2M405.2,192.5 403.3,191.8 397.8,193.6 396.6,189.2M397,267.3 397.2,269.4M403.3,254.6 401.7,257.4 402.8,260.6 398.9,263.1 398.9,264.8 397,267.3M397.2,269.4 402.3,269.8 403,270.8 407.3,271.8M397.6,169.4 401.6,171.8 405,168.9 407.3,171.1 409.3,179.7 411.9,179.8 413.3,183.4M399.6,165.5 397.6,169.4M401.8,310.8 399.3,308.1 400.9,304.4 399.4,303.8 397.9,300.1 400.5,298.5 400.1,295.5 397.4,294.3 396.8,293.3 399.1,289.5M408,290.3 406.5,291.5 403,291.4 401.3,289.2 399.1,289.5M403.3,254.6 402,251.8 403.8,249.3 399.4,237.7M399.4,237.7 401,235.7 405.4,236.7 406.3,233.1 408.5,231.9M400.3,372.2 398.5,374.7 393.9,375.4 393.7,376.4 397.9,381.4 397.1,383.1 401,386.8 401.2,388.4M400.3,372.2 402.1,369.2 404.7,368.4M401.2,388.4 404.8,389.1 406.5,391.2M401.8,310.8 407.9,311.3 408,315.4 411.6,316.2M403.3,254.6 407.9,255.9 411.8,253.8 416,255.5M403.8,202.7 406.1,205.3 405.4,208 407.9,211.4 407.2,216.8 409.4,219.4M403.9,200.9 403.8,202.7M403.9,200.9 401.3,198.2 405.2,192.5M403.9,200.9 407.3,198.7 412.4,200.4 415.7,198.8 418.2,201.7M404.7,368.4 407.2,371.6 409.5,371.9 409.1,376.4 412.4,378.1M405.9,359.7 406.3,364.6 404.7,368.4M405.1,226.5 408.9,230 408.5,231.9M409.4,219.4 409.1,221 405,222.5 405.1,226.5M407.3,409 405.1,412.2M405.2,192.5 406.2,191.9 405.2,186 409.3,185.5 410.5,186.3 412.4,185.5 413.3,183.4M406,353.3 406.7,354.6 405.9,359.7M427.5,363.7 422.5,362.2 423.1,358.7 422.1,356.6 417.5,358.5 415.8,357.7 412.3,360.6 411,359.4 405.9,359.7M425.4,339 423.8,341.6 417.6,342.8 417,346 415.8,346.7 413,344.8 409,347.3 409.4,348.7 406,353.3M407.3,409 404.9,405.5 406.5,403.9 406.1,399.2 408.2,396.7 406.1,392.3 406.5,391.2M406.5,391.2 411.3,389.9M407.3,271.8 407.1,274.5 405.3,276.8 409.6,280.1 406.9,283.6 406.1,286.1 408,290.3M407.3,271.8 407.8,271.2 413.2,271.7 414.9,266.2M432.8,412.1 429.8,412.9 428,411.3 425.6,412.1 423.2,410.2 419.4,413.3 416.9,410.2 412.5,411.4 410.7,408.6 407.3,409M408,290.3 409.8,290.5 412,288.2 417,290.6 416.7,292.4 418.7,294.7 423,294.5M422.5,236 418.1,234.5 417.8,233.8 412,234 408.5,231.9M409.4,219.4 413.1,218.1 416.1,220.1M411.3,389.9 410.3,383.2 412.4,378.1M411.3,389.9 414,389.8 417.1,391.9 417.8,394.2 421.1,395.1 422.3,393.9 426.1,394 427.9,392.3 431.1,393.6M415.9,325.8 412.4,323.9 411.8,321.9 413.1,320.5 411.6,316.2M427.4,309.6 423.6,310.4 420.8,308.3 419,308.3 417.4,309.6 418.7,314 417.9,316 413.8,314.7 411.6,316.2M412.4,378.1 419.3,376 420.5,373.8 425.2,374.7 426.3,371.6 429.8,370.4M418.3,183.2 413.3,183.4M422.6,430 424.3,428.6 425.4,428.9 427.3,427.8 428,423.1 430.7,423.6 433,421.1M427,275.3 422.4,276.1 420.7,273.9 418.9,273.3 419.1,268.6 417,266.7 414.9,266.2M414.9,266.2 415.1,262 416.7,260.3 416,255.5M424.8,332.6 420.5,331.3 418.4,325.9 417.2,325.3 415.9,325.8M416,255.5 417.4,255.1 420.9,251 423.2,252.5 427.1,248.9M416.1,220.1 416.5,221.3 420.4,221.7 424.4,227.3M416.1,220.1 419.6,214.6 418.5,213.6 417.9,209.5 420,207.8 424.1,210.2 425,210 425.7,204.8M418.2,201.7 417.5,203.5 420.4,206.3 423.2,204.3 425.7,204.8M418.2,201.7 421,200.6 420,197.1 422,195.3 419.4,191.2 420.3,187.1M420.3,187.1 418.4,184.9 418.3,183.2M420.9,166.3 421.2,168.6 419.7,169.1 417.7,172.8 418,173.7 414.4,176.6 414.3,178 418.4,180.3 418.3,183.2M429.1,186.9 425.1,185.5 423.9,186.7 420.3,187.1M422.5,236 422.7,239.1 423.7,240.3 421.9,243 423.1,246.4 425.1,246.4 427.1,248.9M424.4,227.3 422.7,230.8 424.8,233.8 422.5,236M423,294.5 423.9,296.1 422.5,298.9 424.1,302.3 423.7,304 427.9,308.3 427.4,309.6M423.7,290.5 423,294.5M423.7,290.5 423,289.9 423,286.4 425.9,284.6 426.1,281.2 427.9,280.2 427,275.3M423.7,290.5 426.9,290.2 429.1,292.8 431.7,293.3 433.1,291.4 437,292.1M426.3,166.1 427,167 425.9,168.3 427.9,172.7 431.3,172.6 432.4,177.6M436.2,225.7 433.1,227.3 431.9,230.4 428.4,230 427.2,227.9 424.4,227.3M424.8,332.6 425.3,337.3M436.4,315.5 436.3,320.9 433.5,320.7 431.7,323.2 430,323.2 428,326.8 425.9,326.9 425.7,331.8 424.8,332.6M425.3,337.3 425.4,339M451.2,326.8 450.1,328.6 445.8,328.8 443.8,331.6 442.9,335.3 437.6,335.2 435.4,337.2 431.4,336.8 430.6,335.6 425.3,337.3M425.4,339 430.9,341.5M438.8,464 439.6,463.6 442.4,465.8 441.2,470.6 445.2,471.4M426.5,204.4 431,207.6 430.4,209.6 432.5,213.1 436.5,212.9M434.4,197.9 428.5,200.1 426.5,204.4M427,275.3 431.6,274.2 432.3,272.9 438,273.1M427.1,248.9 429.6,249.4M427.4,309.6 428.7,312.3 432.3,313 433.6,315.2 436.4,315.5M427.5,363.7 429.1,359.1 428.8,354.5 429.9,353.3 430.2,350.4 426.2,348.2 427.2,344.9 430.6,343.2 430.9,341.5M429.8,370.4 427.3,366.3 427.9,364.6M427.9,364.6 433.2,365 436.2,361.4 439.4,362 441.2,360.2 443.7,360.5 446.2,356.1M461.4,495.2 456.7,496.3 456.8,500.7 452.5,501.4 449.1,504.2 448.9,506.4M429.1,186.9 429.8,189.2 427.8,191.9 429.7,194.8 434.2,194.8 434.9,195.5 434.4,197.9M429.1,186.9 430.6,184.8 430,181.7 432.3,179.1 432.4,177.6M442.5,485 445.9,483.4 445.8,481.2 447.4,479.3M429.6,249.4 430.1,251.1 433.6,252.5 433.7,255.2 431.1,257.4 431.7,259.4 435.9,260.8 436.3,262 432.2,265.7 432.3,268 437.1,269 438.3,272.6M429.6,249.4 431.9,246.8 436,248.2 437.2,247.5M429.8,370.4 430.4,371.1 430.1,375.1 432.9,377M436.8,450.2 438.6,451 441.1,449 442.9,448.8 445.1,451.6 448.9,452 451.4,448.4 452.7,444M433.5,442.1 436.4,440 437.5,440.4 441.1,436 440.8,434 444.3,431.8M446.2,356.1 444.7,353.5 446.9,351.2 447,349.1 442.3,346.9 441.7,344.6 436.4,345.4 435.7,341 430.9,341.5M435.4,404.7 435.5,401.3 433.2,399.3 431.7,399.3 430.4,397.5 431.1,393.6M432.9,392.7 431.1,393.6M432.4,177.6 436.5,176.7M433,421.1 431.5,417.7 433,416.8 433.9,413.1 432.8,412.1M432.8,412.1 433,409.5 435,407.9 435.4,404.7M432.9,392.7 432.4,389.3 430.5,388.2 430.2,385.9 432.5,383.4 430.7,380.6 432.9,377M447,377.4 438.5,372.9 434.9,373.9 434,376.7 432.9,377M442.3,388.4 438.1,389.7 436.6,393.8 432.9,392.7M433,421.1 436.5,421.9 438.4,424M444.5,202.7 442.8,197.5 440.7,197.4 438.7,201 436.1,200.8 434.4,197.9M453.5,406.4 451.5,405 447.9,407.1 446.6,405.1 443.7,404.3 441.1,405.4 435.4,404.7M436.2,225.7 438,230.6M436.2,225.7 436,224.5 431.5,220.8 431.8,219.1 436,218.3 436.5,212.9M438.1,314.6 436.4,315.5M436.5,176.7 438.2,177.9 437.6,183.1 438.7,183.5 444.2,180.8 446.4,183.4 444.2,187.1 444.8,188.5 448,190.3 450.1,189.4 454,192.1M436.5,176.7 436.8,172.2 440,172.4 442.6,168.8M436.5,212.9 440.7,213.8M445.2,298.6 445,297.6 439.6,297.6 437,292.1M437,292.1 438.2,289.9 436.6,287.6 437.3,286.3 441.3,285.3 439.4,281.7 440.6,279.5M437.2,247.5 439.2,248.1 440.2,250.7 444.3,251.3 445,250.5 449.5,250.8M438,230.6 433,232.3 432.6,237 436.3,239.6 437.2,247.5M441.6,165.5 442.6,168.8M440.6,279.5 440.3,278.3 437.8,276.4 438,273.1M438,230.6 439.8,231.7 441.4,231.3 442.6,228.6 450.7,225.8M438.1,314.6 440.5,317.5 444,317.2 443.6,321.3 451,325.6M445.2,298.6 443.2,303.2 440.5,303.7 439.5,304.7 439.6,307.2 437.3,310 438.7,313.4 438.1,314.6M438.3,272.6 440.3,272.3 443.4,268.2 443.3,267.4 446.6,264.9 452,262.2 454.2,262.9M438.4,424 439.5,427.4 443.7,427.8 444.3,431.8M438.4,424 441.8,421.9 444.6,423.6 447.4,419.8 451.7,416.2M458.3,279.2 455.2,280.7 450.9,279.7 450,280.6 445.6,279.4 444.3,280.8 440.6,279.5M440.7,213.8 444.3,216.8 447,215.8 449.6,217.4 448,221.1 450.7,224.1 450.7,225.8M440.7,213.8 442.7,211.1 445.3,211.3 447.5,208 444.5,205.7 444.5,202.7M442.3,388.4 443.6,389.6 445.9,389.5 448.3,387.3 450.2,387.3 451.8,390.9 453.4,390.9 455.4,393 459,390.5M442.3,388.4 442.2,386.3 446.4,382.3 447,377.4M474.3,521.8 471.5,519.9 468.8,523.2 466.2,522.8 465.2,519.8 462.6,519.2 459.1,522M442.6,168.8 444.1,169.7 448.7,168 448.8,173.2 449.5,173.9 451.6,173.9 453.2,172.8 455.7,173.1M452.7,444 451.9,442.8 453.7,438 452.2,436 447.9,437 446.4,432.9 444.3,431.8M447.3,201.9 444.5,202.7M447.4,479.3 445.2,471.4M445.2,471.4 446.7,470 450,469.7 451.4,466.2 456.3,467.5 458.5,462.8M445.2,298.6 449.6,301.8 451.7,298.3 453.1,298.1 454.3,296 456.3,295.4M456.4,356.3 452.2,354.5 450.1,357.2 446.2,356.1M447,377.4 448.7,376.1 453.8,377.5 454.9,374.3 458.2,372M447.3,201.9 449.1,202.3 451.7,205.7 453.4,204.7 458.5,205.2 459.3,209.5 460.7,209.7M447.3,201.9 447,197.9 450.6,195.8 454,192.1M447.4,479.3 452.1,480.2 452,484.3 454.7,485.5 456.2,490.3 457.3,490M449.5,250.8 449.6,255.9 450.6,256.7 455,255.2 456.6,257.5M459.8,236.7 460,240.1 451.8,242.8 451.5,244.8 454.3,247.3 453.2,250.4 449.5,250.8M450.7,225.8 451.7,226.8 456,227.4M451,325.6 452.8,323.6 456.7,323.2 457.3,319.9 460.4,318.9 463.5,321M451.2,326.8 456,328.8 454,333.9 455.5,335.2 456.4,338.3 457.1,339 460.3,338.1 463.9,341.1 463.3,343.3M451.7,416.2 453,417.5 457.2,416.5 459.1,419.3 462.3,418.5 465.6,421.3M453.5,406.4 453.5,409.1 452.4,409.8 451.3,414.7 451.7,416.2M452.7,444 457.4,443.3 457.9,443.9M457,399 455.7,400.7 455.9,405.2 453.5,406.4M454,192.1 456.2,189M454.2,262.9 457.4,264.8 455.9,268.6 458.3,272.1 456.2,274.9 458.3,279.2M454.2,262.9 456.6,257.5M455.7,173.1 456.6,174.7 461.7,175.9 458.9,179.6 460.3,182.3M455.7,173.1 457.5,170.8 457.4,170M456,227.4 456.2,231.8 455,233.3 455,235.6 459.8,236.7M456,227.4 459.9,226.9 460.5,226 460.3,223.3 463.2,221.2 463.6,219.1 465.5,218.1M456.2,189 458.8,189.2 460.4,191.8 459.3,194.6 462.7,195.9 465.5,194.5 466.9,196.1 465.9,199.9 466.9,201.6 466.6,202.8M456.2,189 455.7,187.5 457.5,184.5 459.7,184 460.3,182.3M458.3,297.9 456.3,295.4M456.3,295.4 457.9,292.2 457.7,289.9 455.3,286.4 460.5,283.5M456.4,356.3 456.8,359.1 454.8,361.3 454.7,362.5 455.6,364.1 458,364.8M456.4,356.3 458.4,354.5 459,351.5 456.5,348.9 460.8,344.5 463.3,343.3M466.9,258.9 461.8,260.3 456.6,257.5M457,399 457.5,395.7 461.2,394.4 461.5,393.3 459,390.5M457,399 462.9,398.7 462.6,401.6 465.6,404.9 468,403.3 472.5,406M457.3,490 461.7,492.7 461.4,495.2M457.3,490 460.1,487.5 460.4,484.9 462.2,483.7 462.6,481.1 464.1,480 467.5,481.5 468.9,480.9 469.7,479.4 467.1,476.7 467.4,474.8 470.7,473.3M457.9,443.9 458.5,448.7 453.6,456.5 458.2,459.4 458.5,462.8M457.9,443.9 463.4,443.6M458.2,372 458,370.8 459.5,368.3 458,364.8M458,364.8 461.7,362.2 465.4,361.6 466.8,362.4 467.5,364.3 471,364.6 473.5,361.6M465.7,384.7 462.6,382.6 462.2,380.4 464.7,377.2 459.9,375.3 458.2,372M465.1,315 460.9,316 458.7,314.4 459.9,311 456.3,309.4 457.3,304.9 458.9,302 457.6,299.8 458.3,297.9M458.3,297.9 461.6,296.9 463.8,298.3 465.5,297 468.5,297.3 471.6,293.2 472.5,293.1M458.3,279.2 460.5,283.5M466.4,561.7 467.8,559.4 471.9,562.9 473.4,562.8 474,562.3 474.3,557.9 478.5,557.9M467.7,467.2 464.3,465.5 462.4,465.7 458.5,462.8M459,390.5 459,388.8 459.9,387.7 464.5,387.8 466.1,385.9 465.7,384.7M459.8,236.7 462,234.8 462.9,235 465.4,238.6 467.6,237.8 469.8,239.4M467.2,181.1 465.3,182 464.3,181.4 460.3,182.3M475,281 471.5,282.7 470.4,282.3 466.3,284.9 464.6,283.6 460.5,283.5M460.7,209.7 464,212.5 465.9,215.7 465.5,218.1M466.6,202.8 464,204.5 464,206.6 460.7,209.7M461.4,495.2 463.2,496.9 468,497.4 471.4,501.2 474.1,500.8M470,343 467.5,345.1 463.3,343.3M478.2,452.8 477,449.3 476,448.7 473.4,449.3 470.9,446.7 467.7,447.6 466.7,444.5 463.4,443.6M465.4,430.8 464.7,435.1 462.8,436.3 463,439.5 463.7,440.4 463.4,443.6M475.6,336.5 472.7,332.5 473.9,330.4 473.9,326 472.9,325 469.6,325.3 468.6,320.3 463.5,321M463.5,321 465.1,315M477.8,308.5 476.3,309 476.1,314.2 474.5,314.9 471.9,314 468.2,315.8 466.2,314.7 465.1,315M465.4,430.8 468.3,431.3 470,429.1 474.4,429.5 475.1,427.8 480,427.9 481,425.6 482,425.1 486.3,426.2M465.6,421.3 465.2,422.5 461.8,425.1 461.6,427.4 465.4,430.8M465.5,218.1 468.5,219.6 468.4,223.3 473.1,223.6M465.6,421.3 469.3,419.5 468.1,414.7 468.7,412.9 473.3,412.3 473.9,411 472.5,406M465.7,384.7 468,380.5 471.6,381.7M466.6,202.8 471,206.7 472.1,200.6 473.2,200.3 477.1,201.8M473.8,263.3 468.8,262.9 467.8,259.1 466.9,258.9M466.9,258.9 465.3,253.3 465.6,251 469.9,248.5 471,246 471,243 469.8,242 469.8,239.4M467.7,467.2 470.7,473.3M467.7,467.2 469.7,462.7 473,462.4 474.1,459.4 477.4,458.6 477,454.4 478.2,452.8M472.7,238 469.8,239.4M479.5,545 474.3,539.5 473.3,539.5 472,538.4M470,535 472.6,532.7 472.7,530.8 474.7,528.7 473.8,525.7 474.7,523.2 474.3,521.8M477.6,351.9 476.4,348.7 471.8,347.8 472.2,344.1 470,343M475.6,336.5 475.4,337.7 470.4,338.7 469.1,340.5 470,343M470.7,473.3 473,476.4 477,476.3 478,477.7 481.4,478.8 480.8,484.7 485.2,484.9M471.6,381.7 472.2,383 468.9,386.7 473.1,391.7 473.3,394 479.6,394.2M485.1,374.8 482.2,376.8 480.8,376.2 477.7,376.9 476.7,377.9 473.8,377.7 471.6,381.7M482.5,300.9 474.5,297 472.5,293.1M476.5,282.5 476.9,286.5 477.8,287.6 472.9,291.3 472.5,293.1M475.4,403.6 472.5,406M488.6,244.4 486.9,240.2 483.7,243 480.1,241.9 479.2,240.2 477.2,239.6 476,240 472.7,238M472.7,238 472,235.1 474.4,231.9 471.4,229 473.5,225.6 473.1,223.6M481.8,216.8 476.6,220.6 474.7,220.5 473.1,223.6M484.4,370.8 480.8,371.4 479.6,370.6 479.1,368.9 480.8,366.2 477.5,362.7 476.4,363.1 473.5,361.6M473.5,361.6 472,358.7 477.5,355.5 477.6,351.9M475,281 475.5,278.1 478,277.7 480.2,274.6 477.2,271.1 477.5,270.4 474.2,265.6 474.5,264.1 473.8,263.3M485.8,255.8 483.3,256.7 480.8,260.6 479.8,260.8 477.9,258.7 473.7,258.3 473.8,263.3M485,513.6 483,510.3 480,510.1 479.1,509 475.3,508.9 474.4,507.1 475.4,502.5 474.1,500.8M474.1,500.8 478.2,496.1 477.9,495.3 480.6,490.5 482.5,491.1 485.3,488.9 485.2,484.9M474.3,521.8 477.8,518.6 480.6,518.8 481.2,515.2 485,513.6M476.5,282.5 475,281M491.1,423 490,420.1 485.2,418.1 482.6,419.4 479.8,413.7 479,408.4 475.4,403.6M475.4,403.6 473.8,400 474.3,398.7 479.9,397.1 479.6,394.2M475.4,403.6 479.8,401.9 482.9,404.4 485.5,402 486.9,402.2 488.7,399.5 493.3,399.3 496.3,401.5M482.3,329.4 479.9,329.9 478.4,334.5 475.6,336.5M476.5,282.5 486.4,281M481.8,216.8 483,215.1 483,212.9 478.5,207.3 479.2,205.7 477.1,201.8M477.1,201.8 478.7,200.4M477.6,351.9 480.4,351 483.7,353.6 487.4,351M485,318.7 484.7,316.7 479.4,315.7 481.8,310.8 477.8,308.5M477.8,308.5 479.1,305.5 482.4,304.7 482.5,300.9M478.2,452.8 482,453.7 484.6,452.3 485.7,452.5M478.5,557.9 480.2,561.4 483.7,559.2 486.6,561.7M479.5,545 477.7,547.7 478.6,549.6 476.8,552.5 480,555.3 478.5,557.9M494.8,205.7 489.7,204.1 488.9,205.3 484.3,206 483.3,204.5 483.3,202.5 478.7,200.4M478,197.7 479,198.8 478.7,200.4M492.1,543 488.8,543.4 487.8,544.5 482.9,544.2 479.5,545M489.9,381.5 489.6,382.5 486.7,383.9 487.7,388.8 485.8,390.1 485,392.6 480.1,393.3 479.6,394.2M481.8,216.8 484.2,220.5 484.3,223.9 488.5,225.1M482.3,329.4 483.9,330.1 484.5,332.5 489.9,335.6M482.3,329.4 482.5,323.5 485,318.7M482.5,300.9 485.8,299.1 487.5,300.4M484.1,565 486.6,561.7M485.1,374.8 484.4,370.8M490.9,369.7 489.2,370.9 485,370 484.4,370.8M485,513.6 486.5,514.1 488.4,512.5 492.3,515.1M498.6,312.9 497.2,314.7 495.7,314.1 490.8,315.3 491,318.5 489.8,319.8 485,318.7M485.1,374.8 488.9,376 488.4,378 489.9,381.5M499.2,486.9 492.6,485.6 490.4,487.1 485.2,484.9M485.7,452.5 487.8,456.9 495.2,456.5 496.2,460.3 500.7,460M485.7,452.5 486.5,451.8 488.1,442.7 490.8,438.6M485.8,255.8 487.4,258.6 486.6,262.2 491.6,263.5 490.3,267.6 490.9,269.4M488.6,244.4 487.4,248 484.3,251.8 485.8,255.8M486.3,426.2 486.2,430.4 487.7,431.7 487.2,434.7 490.8,438.6M486.3,426.2 487.6,424.6 491.1,423M486.4,281 490.5,288.5 491.5,288.7M486.4,281 487.3,278.8 484.6,276.4 487.8,272.9 487.7,272 490.9,269.4M493.7,552.3 490.6,553.6 490.3,558.1 486.6,561.7M492.9,356.8 492,355.7 488.8,355.1 487.4,351M487.4,351 489.6,346.4 488,344.5 488.7,341 489.7,339.9 489.9,335.6M487.5,300.4 491.8,304.2 492.1,305.5 494,306.9 495.8,306.8 498.8,311.1 498.6,312.9M487.5,300.4 492.5,297.8 492.5,296.5 495.2,293.6 491.5,288.7M488.5,225.1 489,226.8 492.9,229 494,233 493.5,234.8M488.5,225.1 491.5,222.1 493.8,223.4 498.4,219.8M493.5,243.6 488.6,244.4M489.9,335.6 492.4,332.5 497.2,332.9M499.2,386.1 495.3,382.9 495.4,379.6 489.9,381.5M490.8,438.6 492.4,437.9 493.8,435.1 497.5,435.9 498.8,440 500.4,440.1 503,436.3M506.5,368.4 502.2,368.6 497.1,366.6 496.4,369.3 493.1,370.8 490.9,369.7M490.9,369.7 491,367.1 489.3,365.9 489.3,361.3 492.3,360.5 492.9,356.8M497.7,271.2 493.6,270.6 490.9,269.4M491.1,423 494.8,421.3 495.9,416.6 499.9,412.3M491.5,288.7 498.2,287.5M492.1,543 493.2,546.4 497.2,547.3 496.9,550.8 493.7,552.3M492.1,543 493.4,540.9M492.3,515.1 492.5,516.8 494,518 494.5,521.5 493,527.3 494.9,528.4 495.8,533.2 493.4,540.9M504,507.8 501.5,512.1 498.7,511 496.1,512.5 494.9,512 492.3,515.1M509.1,354.2 502.8,356.3 498.7,354 497.2,356.2 492.9,356.8M493.4,540.9 498.8,542.1 500.1,540.3 504.6,541.3 506.5,538.8 509.6,539.3 509.5,543.6 512.7,545.5M493.5,234.8 496.8,238.8 500,235.3 504,235.9M493.5,243.6 493.5,241.7 489.5,237.8 493.5,234.8M493.5,243.6 497,250.2 500.5,249.1 501.8,250.1M493.7,552.3 495.9,556.9 500,553.4 502.3,557 505.4,555.8 509.4,558.7M494.8,205.7 492.3,209.7 493.1,212.5 497.3,211.8 498.7,213.6 496.7,217.4 498.4,219.8M494.8,205.7 496.1,203M499.9,412.3 499.6,408.1 496.5,405.8 497.2,404.1 496.3,401.5M500.7,395.1 500,399.2 496.3,401.5M507.6,337.6 503.2,334.4 497.2,332.9M506,318.5 502.8,321 503.7,323.7 500.9,325.8 500.5,327.9 498.3,328.8 497.2,332.9M497.7,271.2 501.7,271.3 501.9,276 503.7,276.8M497.7,271.2 498.3,266.2 495.6,263.8 496.9,260.9 500.4,260.9 502.2,257.7 504.5,257.4 506,254.6M507.6,295.4 503,294 502.5,290.9 499,289.2 498.2,287.5M503.7,276.8 504.5,279.3 501.6,283.5 498.4,286.3 498.2,287.5M509.4,215 506.2,215.1 504.5,220.6 501.1,219.4 498.4,219.8M503.6,313.2 498.6,312.9M500.7,395.1 499.9,391.9 501.1,388.9 499.2,386.1M509.5,378.5 503.4,377.9 500.5,379.3 500.9,383.9 499.2,386.1M499.2,486.9 500.2,489.9 498.7,491.7 501,495.6 500.1,497.4 502.8,499.8 502.1,503.1 504.5,505.4 504,507.8M499.2,486.9 501.1,484.7M499.9,412.3 502.2,412.9 503,414.9 506,416 506.1,420.1 509.8,420.8M500.7,395.1 505.7,392.4 507.8,393.2M512.8,201 509.8,199.9 506.8,197.4 503.8,199.4 502,198.9M500.7,460 501.8,462.2 501,464.4 501.6,469.6 503.3,470.7 503.3,471.8 499.5,475.5 500.1,476.3 504,477.8M511.1,446.1 509.9,450.1 507.7,450.3 503.6,453.9 501.4,457 500.7,460M521.6,495 517.3,491.9 518.4,489.3 517.2,486.4 514,486.1 510.4,484.4 509.1,481.1 506.2,482.8 505.1,486.9 501.1,484.7M504,477.8 502.6,481.4 500.8,482.3 501.1,484.7M506,254.6 501.8,250.1M504,235.9 504.3,237.7 506.4,239.7 505,244.3 506.8,245.9 507.1,247.5 501.8,250.1M509.4,558.7 508.9,559.8 504.6,561.3 503.2,563.6 504.1,565M511.1,446.1 508.4,444.1 508.3,440.8 503,436.3M509.3,425.7 506.3,429.5 504.2,430.4 504.2,434.3 503,436.3M505.6,315.6 503.6,313.2M507.6,295.4 507.6,298.3 504.3,300.6 506.3,304.4 503.3,307.4 503.9,308.3 503.6,313.2M507.3,274.3 503.7,276.8M504,507.8 507.7,510.6 511.4,508.8 513.6,510.7M512.1,233.8 510.3,235.7 505.1,234.2 504,235.9M529,466.7 524.7,468.5 522.2,470.5 520.3,470.2 516.6,472.6 514.5,470 510,471.1 509.9,472.9 505.6,475.1 505.4,477.2 504,477.8M506,318.5 505.6,315.6M520.9,304.5 518.5,307.2 516.6,307.6 514.6,306.2 510.6,307.4 507.6,309.7 508.4,314 505.6,315.6M512.4,324.2 508.7,324.6 508.3,320.9 506,318.5M506,254.6 510.9,255 511,259.8 514.2,260.2M506.5,368.4 507.5,372.5 510.2,373.9M506.5,368.4 509,360.8 511.1,359.9 511.6,357.2M522.7,283.6 517.2,278.5 513.9,278.7 512.9,277.3 509.1,277.4 507.3,274.3M507.3,274.3 510.7,272.9 510.8,270 514.2,268.4 513.8,266.4 516.8,263.2 514.2,260.2M507.6,295.4 508.9,293.8 512.5,293.4 514.2,291 515.6,290.5 517.6,292.4 522,292M509.1,354.2 509.9,352 506.3,348.9 506.4,347.3 504.4,345.1 504.9,341.9 507,340.7 507.6,337.6M512.3,336.7 509,336.7 507.6,337.6M507.8,393.2 507.9,396.8 514.5,400.4 518,399.8 520.1,402.3M511.6,384.6 509.6,391.9 507.8,393.2M511.6,357.2 509.1,354.2M509.3,425.7 512.3,426.9 515.8,424.3 517.6,424.9 518.8,427.5 523.4,429.1M509.3,425.7 509.8,420.8M518.1,547 515.9,551.2 516.6,553.3 515.7,554.3 511,554.7 509.4,558.7M509.4,215 510.2,218.1 508.5,220.2 509.9,223 507.8,225 508,228 512.1,233.8M509.4,215 510.1,214.2 516.5,215.2M511.6,384.6 510.4,382.3 510.9,380.4 509.5,378.5M509.5,378.5 510.2,373.9M509.8,420.8 510.9,419.4 508.3,415.2 509,414 512.2,412.9 512.9,411.7 518.6,412.6 518.9,412.2M510.2,373.9 512.7,373.1 513.3,370.1 516.7,369.2 519.2,371.6 522.3,368.6M519.8,445.8 517.5,445 515.6,446.7 511.1,446.1M511.6,384.6 519.5,385.2 522.1,387.2M511.6,357.2 515.1,356M512.1,233.8 518.4,235.1M512.3,336.7 514.2,339.5 515.7,339.8 517.7,344.2 520.3,343.6 522.8,345.4M512.3,336.7 514.4,332.1M512.4,324.2 515.7,326.1 513.9,331.1 514.4,332.1M512.4,324.2 514,320.3 517.5,320.5 519.5,318.2 521.3,314.2M512.7,545.5 518.1,547M512.7,545.5 515.1,541.6 513.7,539.3 516.5,534.3 513.4,529.4 516.1,527 513.6,522.2 515.9,520.3 516.2,519.2 515.3,517 512.2,515.5 513.6,510.7M516.5,215.2 515.7,209.6 513.3,209.7 510.3,206.6 512.8,203.8 512.8,201M519.9,199.9 517.6,201.7 514.1,200.4 512.8,201M513.6,510.7 515.7,510.7 517.3,509.6 520.8,510.1 523,508.3M514.2,260.2 517.4,256.2M514.4,332.1 517.3,333 520.8,332.2 522.8,334.8 527.8,333.7 529.5,335.5M515.1,356 518.6,357.5 519,359.3 520.6,360.3 521.1,361.4 519.4,366 522.3,368.6M522.8,345.4 522.4,349 518.3,349.8 517,349.1 514.2,352.2 515.1,356M516.5,215.2 519.1,214.9 521.4,212.2 524,212.8M526.1,266 517.4,256.2M521.5,252.6 519.2,253.2 517.4,256.2M518.1,547 522,549M518.4,235.1 518.6,238.3 522.8,238.9 521.7,242.9 524,245.1 523.7,246.6 521.4,248.2 521.5,252.6M520.2,233.4 518.4,235.1M518.9,412.2 519,406.6 520.1,402.3M518.9,412.2 523.8,411.6 524.8,412.6 524.5,415.1 527.5,416.9M533.8,599.3 534.4,598.1 533,596 532.8,593.3 535.8,589.9M519.8,445.8 519.8,456 524.7,457.8 525.5,459.1 529.1,458.1 532.3,460.8M527.1,438.2 525.2,440.8 522.3,440.5 520.9,445.2 519.8,445.8M519.9,199.9 522.6,201.7 526.2,199.7 528.2,201.4M523.8,184.7 523.8,185.2 521.7,187.4 522.3,190.5 521.4,192.3 518.8,193.1 518.1,196.4 520,198.6 519.9,199.9M520.1,402.3 523.8,401.7 525.1,402.4 528.9,399.9 529,398.4M520.2,233.4 523.6,236.1 525.5,234.9 529.5,237.1 531.5,235.2M520.2,233.4 522.5,226.3 521.2,221 523.3,218M523,304.7 520.9,304.5M522,292 523.1,293.6 519.4,302.3 520.9,304.5M521.3,314.2 522.4,314.4 525.3,318 527,318.2 528.4,321.4 529.5,321.9 533.1,320M521.3,314.2 520.4,313 521,310.8 524.2,308.8 523,304.7M536,252.2 532.3,249.8 531.3,250.1 528.8,253.9 525.8,250.2 521.5,252.6M523,508.3 524.1,506.3 524.8,500.4 523.6,500 521.6,495M521.6,495 526.5,494.9 526.6,491.9 529.4,490.9 530.6,491.6 534.4,489.6M522,292 522.2,289.4M528.2,559.1 521.8,550.6 522,549M537.8,536.7 537.2,537.1 534,535.9 530.4,538.4 527.2,538.7 524.4,547.6 522,549M522.1,387.2 521.1,390.1 522.6,392.1 525.9,391.4 527,393.2 525.2,396.3 529,398.4M526.4,382.9 524.2,386.9 522.1,387.2M522.7,283.6 520.6,287.5 522.2,289.4M536.5,293.1 534.4,291.6 531.6,293 528.4,291.1 528.3,290 526.2,287.4 522.2,289.4M522.7,283.6 524.5,283.9 526.3,281.7 525,277.7 528.8,276.3M522.7,368.5 525.1,372.1 524.6,374 526.1,376.1 524.4,378.6 526.4,382.9M522.7,368.5 525.7,365.4 529,366.9 530.7,366.2 531.5,360.5 534,360.1M522.8,345.4 524.8,344.4 528.2,347.2 530,346.3M523,508.3 526.3,511.5 527.4,511.4 529.5,513 529.5,515.1 532.5,517.3 534.1,516.6 537.8,519.2M523,304.7 529.4,304.3 529.3,302.4 532.4,298.2 534.3,298.4M524,212.8 523.3,218M534.4,223.9 532.4,222.1 528.8,220.7 528.3,217 523.3,218M527.1,438.2 523.1,433.4 523.4,429.1M523.4,429.1 525.7,426.9M524,212.8 530.1,209.6 530,207.4 527.5,205.2 528.2,201.4M540.2,428.9 539.2,428.2 534.4,429 534.1,429.7 530,431 527.8,427.6 525.7,426.9M525.7,426.9 524.2,423.4 524.3,420.4 527.8,417.9 527.5,416.9M530.9,183.7 532,184.3 532.6,188.4 534.1,189.4 533,195.5M528.8,276.3 528.2,273.2 531.2,270 526.6,267.3 526.1,266M535.8,254.4 532.9,256.2 533.8,260.5 529.2,261.4 528.9,263.8 526.1,266M534.5,382.4 533.1,383.6 529.3,380.8 526.4,382.9M538.3,446.7 536,443.6 535.3,439.9 533.3,438.6 531,439.4 528.3,437.9 527.1,438.2M527.5,416.9 530.5,412 533.4,414.8 538.2,413.8M528.8,567.4 531.3,565.9 530.9,562.7 527.8,560.5 528.2,559.1M528.2,559.1 534.2,557.8 534.6,555.1 535.5,554.2 541.2,555.9 544.1,555.8M528.2,201.4 530.9,200.7M535.8,589.9 536.3,585.6 534.6,583.7 532.9,584 528.3,581M528.8,276.3 533.5,276.3 534.5,273.3 537.2,271.9 538.8,272.4 540.1,274.2 539.9,276.2 541.6,278.4M536.4,469 535.6,467.7 530.9,468.3 529,466.7M532.3,460.8 532.3,461.7 529.2,464.7 529,466.7M529,398.4 530.8,396.6 533.9,397M529.5,335.5 529.4,337.3 530.6,339.2 529.4,342.6 530.6,345.1 530,346.3M529.5,335.5 532.1,334.7M538.7,351.2 535.2,350.3 533.2,350.8 530,346.3M545.4,567.5 545,569.1 541.2,572.5 535.2,572.5 533.7,570.8 531.7,571.3M546.9,215.1 543.7,212.7 542,212.9 540.4,211.3 540.7,208.7 537,205.8 535.3,203.5 530.9,200.7M533,195.5 530.9,200.7M531.5,235.2 535.1,235.8 535.7,237.8 534.7,240.8 536.6,242.8 540.6,242.8 541.7,243.5M531.5,235.2 530.7,232 532.7,229.1 534,228.7 534.4,223.9M540.5,336.8 537.5,334.4 535.1,336 532.1,334.7M533.1,320 536.1,322.4 535.4,324.9 533.5,325.5 532.6,329.4 533.7,330.5 532.1,334.7M532.3,460.8 535.7,457.8 534.8,454.4 537,451.8 536.6,450.8 538.3,446.7M549,190.2 546.4,193.1 544.5,193.4 542.3,192 534.3,195.9 533,195.5M539.5,316.6 533.6,318.2 533.1,320M533.9,397 535,400.9 536.2,401.8 536.1,404.6 537,406.2 541,407.3M533.9,397 535.2,395.3 535.1,393.1 537.2,390.8 537,388.2 538.7,386.7M539.1,371.7 538.7,369.1 535.2,366.7 536.2,364.5 534,360.1M534,360.1 536.3,358.4M539.5,316.6 542.9,311.9 541.6,310.4 543.1,305.5 539.6,303.7 539.9,300.3 534.3,298.4M534.3,298.4 536.9,294.2M534.4,223.9 539,223.2 539.8,224.3 543.4,225.2 545.8,222.2M534.4,489.6 532.3,486.2 533.6,478.5 534.8,477.9 536.3,474.9 535,472.6 536.4,469M552.2,488.5 547.2,488 540.4,492.2 538.2,488.7 534.4,489.6M538.7,386.7 538.2,383.4 534.5,382.4M534.5,382.4 534.9,378.9 538,377.8 537.1,373.4 539.1,371.7M548,587.4 542.7,587.6 541.9,590 538.4,590.9 535.8,589.9M535.8,254.4 537.3,255.7 540.4,255.9M536,252.2 535.8,254.4M536,252.2 540.6,249.1 542.4,246.9 541.7,243.5M550.5,361.1 545.8,361.3 541.7,360.2 540.5,361.1 536.3,358.4M538.7,351.2 539.2,354.7 536.6,356.7 536.3,358.4M536.4,469 538.6,469.7 541.8,467.8 543.8,468.7 546.1,464.8 549.4,467.5 550.9,467.5M543.4,287.1 536.5,293.1M536.9,294.2 541.3,296.1 541.7,298.1 544.9,299 546,304.7 548.9,304.5 550.8,300.3 553.6,300.6M548.8,549.3 548.8,547 546,544.4 542.3,537.5 537.8,536.7M539.5,526.9 541.2,530.9 538.2,533.2 537.8,536.7M539.5,526.9 538.2,526.6 535.9,523.2 537.8,519.2M537.8,519.2 540.2,518.2 540,512.6 542.3,512 543.7,508.5 546.4,507.9 549.5,501.2 551.5,500.8 552.2,499.7 551.4,495.6 554,493.7M538.2,413.8 540.4,417.6 540.7,420.7 543.9,424.3M538.2,413.8 538.5,412.6 541,410.5 541,407.3M551.6,443.1 550.3,442.4 544.9,444.8 544.2,444.4 541.1,447.2 538.3,446.7M538.7,386.7 541.6,387 542.8,388.3 546.9,387.9 547.7,386.9M538.7,351.2 542.2,350.3 543.1,347.9M539.1,371.7 541.2,372.4 544.6,370.4 546.9,374.4 550.7,372.8 552.1,373.6 552.7,376.9M539.5,526.9 541.2,525.7 546.8,526.7 547,527.5 552,528.9 552.8,528.3 553.7,524 558.5,526.2 559.5,525.6 560,521.7 560.9,521.1M539.5,316.6 543.5,318.5M540.2,428.9 545,430.5 545.3,432.2 547.8,433.9 550.2,432.6 551.6,433.4 552.4,436.8M543.9,424.3 540.2,428.9M540.4,255.9 542.4,258.5 541.7,260.4 545.5,263.8 545.2,266.3 549.5,271.4M540.4,255.9 542.2,252.4 544.7,253.5 547.5,252.2 548.5,252.8 549.1,256 551.7,256.9 553,256.2 555.3,257.5M540.5,336.8 538.9,339.7 540.8,343.3 540.3,344.2 543.1,347.9M540.5,336.8 541.8,336.5 543.1,333.8 546.9,333.7 547,329.9 548.9,329.3M551.6,400.3 549.8,401.3 550.1,405 547.4,407.3 545.2,402.5 542.5,401.9 541,407.3M543.4,287.1 542.5,284.5 543.5,281.9 541.5,279.5 541.6,278.4M541.6,278.4 545.2,276.5 544.1,273.7 544.5,272.7 549.5,271.4M541.7,243.5 545,240.7 547.9,241.4 549.7,239.3 552.7,239.5 553.3,238.9M547.4,182.5 549.1,183.9 547,187.1 549,190.2M552.9,351.8 549.8,349.8 547.6,350.1 545.6,347.2 543.1,347.9M543.4,287.1 555.4,290.7M548.9,329.3 550.1,325.6 546.3,324.8 544.6,326 541.6,325 541.1,323.2 543.9,319.4 543.5,318.5M543.5,318.5 545.6,314.5 548.3,315.8 552,313.8 553.7,315 556.9,312.6 560.8,313.7M543.9,424.3 546.2,423.7 547.3,420.1 549.4,419.9 551.8,416.9M544.1,555.8 549.5,562.5 545.4,567.5M544.1,555.8 545.8,554.3 545.6,550.6 548.8,549.3M545.4,567.5 549.9,569.3M545.8,222.2 550.2,223.5 550,225.8 554,228.7M545.8,222.2 545,218.9 547.1,216.9 546.9,215.1M558.1,204.4 554.7,206.3 550.5,206.2 548.6,209.4 549.7,211 546.9,215.1M547.7,386.9 550.6,387.4 552.3,389.7 555.2,390.1 555.7,392M552.7,376.9 550.9,379.3 551,381 546.8,383.3 547.7,386.9M557.2,600.1 557.7,599.4 556.8,598.9M551.2,595 550.2,594.4 549.9,592.2 548.4,591.4 548,587.4M548,587.4 547.8,582.6 551.5,581.6 552.7,580.1M563.1,548.5 558.4,546.1 554.5,546.8 553.6,550.2 552.5,550.9 550.5,550.8 548.8,549.3M548.9,329.3 552.3,331.4M551.8,190.6 549,190.2M555.2,271.2 550.1,272.3 549.5,271.4M549.9,569.3 549.8,572.3 552.9,573.8 551,577.5 552.7,580.1M549.9,569.3 555.1,566.5 559.5,567 561.2,565.2 565.3,568.7 566.9,567 566,562.6 566.8,561.3M550.5,361.1 554.8,365.4 553.9,368.1 556.1,370.9 555.6,372 557.7,375.2M550.5,361.1 550.7,358 555.2,357.2M550.9,467.5 551.5,468.6 550.3,473.5 554.3,473.4 555.7,475.1 555.2,477 552,478.4 550.7,481.8 556.8,483M552.3,464.6 550.9,467.5M554.9,407 554.1,406.1 554.3,401 551.6,400.3M555.7,392 553.4,395.5 551.4,395.8 551.6,400.3M551.6,443.1 551.8,444.3 555.2,447.7 555.1,448.7 549,449.8 551,454.4 553.7,456.1 553.7,458.4 550.7,461.5 552.3,464.6M551.6,443.1 554.7,441.2M558.1,204.4 557.6,199.7 553.9,198.5 551.8,190.6M551.8,190.6 555.2,187.6 558.6,190.2 561.9,189.3 563,185.2 567.3,184.7M560.9,431.2 558.1,428.6 558.2,426.1 554.3,424.3 555.3,420.2 551.8,416.9M551.8,416.9 554.4,413.8 552.4,410.3 554.9,407M554,493.7 552.2,488.5M556.8,483 556,487.6 552.2,488.5M563.4,461.1 561.5,464.7 557.4,463.4 556.2,464.8 552.3,464.6M552.3,331.4 551.7,334.7 553.2,336.4 555.7,336.8 557.2,338.9 560.9,339.8 561.4,345.1M552.3,331.4 553.4,330.4 554.1,327 555,326.5 559.4,327.8 561.1,326.7M554.7,441.2 552.4,436.8M560.9,431.2 558.4,435.1 557.4,434.7 552.4,436.8M552.7,580.1 555.4,580.1 558.2,582 562.1,582.3 564.2,586 565.2,586.2M552.7,376.9 556.2,377.6 557.7,375.2M552.9,351.8 555.2,357.2M552.9,351.8 554.9,350.2 553.2,344.9 553.8,343.9 554.9,343.6 560.5,346 561.4,345.1M553.3,238.9 553.1,235 549,234.5 548.3,232.9 549.5,231 554.1,230.1 554,228.7M553.3,238.9 557.4,238.8 558.3,241.2 563.8,241M553.6,300.6 555.4,304 555,304.9 556,308.2 561.4,307.6M556.3,294.7 556,298.1 553.6,300.6M554,493.7 557.6,494.4 558.3,497.9M554,228.7 555.8,225.8 559.7,226.3 560.6,222.9 564,221.6M554.7,441.2 558,444.7 561.2,444.3 562.6,446.1M554.9,407 556.6,407.9 561.1,407.4 562.4,405.9 565.3,406.2M555.2,271.2 557,272.9 558,278.7 561.2,279.1 562.5,283.2M556.2,266.8 555.2,267.9 555.2,271.2M568.9,362.8 565.9,361.7 565,360 562.4,359.1 559.1,361 555.2,357.2M555.3,257.5 556.2,261.4 555.1,262.4 556.2,266.8M555.3,257.5 559.1,254.8 557.1,252.2 557.2,249.8 561.7,249 562.5,247.8M556.3,294.7 555.4,290.7M562.5,283.2 562.1,284.4 557.1,283.4 556.5,284.4 557,289.5 555.4,290.7M555.7,392 559.5,394.7 562.1,393.8 562.4,390.7 565.1,388.7M556.2,266.8 559.6,267.3 560.4,268.3 566.2,267.4M569.4,297.3 567.6,292.8 563.9,294 562.2,293.3 560.2,294.8 556.3,294.7M556.8,483 557.5,482.4 557.8,479.8 561.4,476.9 564.6,482.3 567.1,481.6 568.1,478.1 573.8,477.5M561.3,374.9 557.7,375.2M558.1,204.4 560.8,204.1 563.3,207.4M558.3,497.9 560.9,498.3 564,496.3 565.8,497.5 569.1,496.8M558.3,497.9 557.2,499.2 558.1,503.1 559.5,504 560.1,506.7 557.7,510.7 558.3,513 556.2,516.7 560,517.9 560.9,521.1M559.3,607.4 561.6,610.5 568.5,613.3 571,613.2 572.7,610.9 576.5,611.3M559,606.6 560.4,604.3 560.1,601.4 558.6,599.5 559.8,597.9 564.1,596.7 564.8,594.7 568.5,594.8 569.6,593.5M560.8,313.7 559.6,318.1 562.1,320.2 560.9,324 561.3,325.7M560.8,313.7 562.4,310.2 561.4,307.6M566.8,527.9 563.4,526.4 564.1,521.9 560.9,521.1M564.5,427.7 562.2,430.8 560.9,431.2M561.1,326.7 567.9,333.4 567.4,334.6 563,337 562.7,338.3 567.8,341.9M561.3,325.7 567.5,324.1 569,325.5 570.9,325.1 573.2,322.1 574.4,321.8M561.3,374.9 562.8,377.8 561.6,379.9 564.9,383.4 563.8,385.5 565.1,388.7M561.3,374.9 561.7,373.7 566.6,371.1 568,371.9 570.6,371.4M561.4,345.1 566.7,344.4M571,307.9 569,309.4 564.1,304.5 562,306 561.4,307.6M562.5,283.2 565.5,280.7 568.5,281.4M562.5,247.8 565.8,248 566.5,251.5 565.1,253.3 566.7,256.4 568.3,256.9 571.5,254.5 573.5,255.2 573.9,261.3M563.8,241 564,241.8 561.9,245.9 562.5,247.8M562.6,446.1 562.5,449.6 567.6,451.6 567.3,456.2 563.9,457 562.5,458.5 563.4,461.1M562.6,446.1 567.9,445 569.4,445.6 571.5,444.4 572.1,442.6 576.5,439.5 577.5,439.7M563.1,548.5 563.4,553.5 566.8,561.3M565.3,546.9 563.1,548.5M563.3,207.4 562.2,209 563.4,212.4 566.7,213.1 565.8,217.7 564.2,218.8 564,221.6M563.3,207.4 569.9,200.9 573.3,201.1M574.3,469.7 570.5,470.2 567.7,463 563.4,461.1M563.8,241 564.2,239.9 569.3,238.7M565.5,223.1 564,221.6M564.5,427.7 568.9,430.1 569.4,431 572.6,430.7 574.9,433.2 577.1,432.9M574.8,416.9 573.3,419.1 570.7,419.5 568.7,417.9 564.5,419 563.9,421 566.2,423.8 564.5,427.7M567.3,184.7 568,183.8 567.9,183.3M568.7,393 566.2,388.8 565.1,388.7M569.6,593.5 565.2,586.2M565.2,586.2 569.5,583.1 570.8,577.6 571.5,577.4M565.3,546.9 569.2,547.8 570,547.2 574.3,549.1 576.8,544.9 577.4,544.6 580,547.3 584.3,545.4M565.3,546.9 563.5,542.6 566.4,541 566.3,537.3 564.6,535.8 564.5,533.6 566.2,532.1 566.8,527.9M572.9,414.1 569.2,415.3 567.4,412.2 565.9,411.7 565.3,406.2M565.3,406.2 566.1,399.5 569.3,395.1 568.7,393M565.5,223.1 565.2,227.3 564.3,228.2 565.4,233 567.7,233.3 569.2,234.7 569.3,238.7M565.5,223.1 568.5,222.7 570.7,224.9 573.1,224.9 574.7,223.1 578.7,224.7M568.7,271.7 566.7,269.9 566.2,267.4M566.2,267.4 573.9,261.3M566.7,344.4 569.1,348.5 568.6,349.8 570.1,354 569.8,355.3 571.1,357.3M566.7,344.4 567.8,341.9M573.2,523.1 568,523.4 566.8,527.9M566.8,561.3 570,561.6 571.1,564.3 573.4,565.1M573.3,201.1 575.4,196.4 575.1,192.9 573.6,191.9 569.2,192.6 567.9,190 568.6,188.4 567.3,184.7M576.6,339 573.7,340 572.9,342.7 567.8,341.9M577.9,290.7 573,285.7 572.9,283.2 569,282.4 568.5,281.4M568.7,271.7 570.9,276.9 569.6,277.7 568.5,281.4M568.7,393 572.6,390.1 573.2,390.5M568.7,271.7 572.2,270.4 575.9,270.8 578.9,273.8 581.1,269.5M568.9,362.8 568.8,364.7 571.3,367.9 570.6,371.4M568.9,362.8 570,362.1 571.1,357.3M569.1,496.8 569.4,501.1 571.3,502.5 570.7,505.1 573.1,506.8 576.5,505.2 578.2,508.7M579.2,489.7 576.7,492.1 573.8,490.3 571.8,491.4 571.8,493.9 569.5,495.5 569.1,496.8M569.3,238.7 575.5,242.8 578.7,239.2 580.1,239.3M569.4,297.3 571,307.9M579.6,294.6 575.5,297.1 573.2,295.7 569.4,297.3M569.6,593.5 571.4,593.4 573.8,595.5M570.6,371.4 571.8,372.1 575.9,371.8 576.7,372.8 580.5,373.5M571,307.9 574.4,308.2 575.8,309.7 576.4,312.8M581.1,353.4 579,357.2 576.6,358.3 571.1,357.3M571.5,577.4 573.9,579 576.9,578.1 579.6,582.1 581.5,582 586,584.4M571.5,577.4 572.9,574 571.9,571.8 573.4,565.1M572.9,414.1 574.8,416.9M578.6,395.2 580.2,398.5 579.1,400.2 574.7,401.7 577.6,406.3 579.1,410.5 578.6,411.8 573.5,411.4 572.9,414.1M573.2,390.5 574.3,396 578.6,395.2M581,377.7 577.9,379.3 579.5,383.3 576.5,385.7 577.9,388.1 576.7,390.3 573.2,390.5M582.5,533 580.7,531.9 581.7,527.1 581,526 577.7,527.3 573.2,523.1M578.2,508.7 575.4,511 576,513.3 579.5,514.6 577.1,518.3 574.7,518.4 573.1,520.9 573.2,523.1M573.3,201.1 576,202.7M581.5,562.7 576.4,561.6 574.9,564.5 573.4,565.1M573.8,477.5 574.3,479.3 576.5,480.8 576.1,485.9 577.5,486.4 579.2,489.7M574.6,470.2 573.5,475.3 573.8,477.5M577.3,610.5 576.9,606.8 575.4,604.8 578.3,601.7 578.2,600 574.2,599.3 573.3,597.4 573.8,595.5M586,584.4 586,588.3 581.1,588.4 580,596.5 573.8,595.5M580.2,261.1 577.5,260.2 573.9,261.3M585.3,451.7 582.4,453.5 581.9,455.7 579.3,456.4 578.5,461.2 579,465.2 574.8,467 574.3,469.7M577.7,330.1 576.5,329.5 577.9,324.8 577.3,323.2 574.4,321.8M574.4,321.8 576.4,312.8M594.2,471 589.5,472.8 588.3,468.9 586,468.5 582.8,470.7 581.3,470.3 579.2,472 574.6,470.2M576.7,416.6 574.8,416.9M586.4,176.1 588.5,176 589.1,176.8M580.9,222.4 579.5,219.8 575.2,220 575.4,215.7 579.2,211.9 578.5,207.1 576.7,206.7 576,202.7M588.2,197.7 586,199.5 583.4,198.9 581,201 580.2,200.7 576,202.7M579,312.8 576.4,312.8M576.6,339 579.2,341.8 581,341.4 583.7,343.8 581.2,347.7 581.9,349.8M577.7,330.1 578.7,335.8 577.1,336.9 576.6,339M576.7,416.6 581.8,421.9M576.7,416.6 578.8,412.2 581.6,414.2 585,413.1 587.3,414.4M577.1,432.9 579.1,435.7M577.1,432.9 580.6,426.7 580.2,425.9 581.8,421.9M577.5,439.7 578.5,443.2 583.6,444.9 582.4,448 585.3,451.7M579.1,435.7 577.5,439.7M581,330.2 577.7,330.1M577.9,290.7 579.6,294.6M583.7,279.3 582.1,281.5 582.8,285.3 582,285.8 581.6,288.6 577.9,290.7M578.2,508.7 579.3,509 582.7,505.9 585,507.6 586.9,507.3M578.6,395.2 579.1,394 582.9,391.8 584.8,393M578.7,224.7 579.4,227.3 581.2,227.8 582.8,230.4 581.7,233.1 583.4,235.3 580.1,239.3M578.7,224.7 580.9,222.4M579,312.8 582.6,315.5 584.5,315.4 585.8,319 587.1,319.7M579,312.8 582.2,309.8 583.6,310.3 587.7,308.6 590.2,304.1M595.8,438.7 592.2,438 591.3,436.9 588.5,437.6 585.9,433.6 583,433.7 579.1,435.7M579.2,489.7 584.3,487.3 585.5,489.3 588.3,490.2M587.7,292.8 584.9,291.2 580.6,294.9 579.6,294.6M580.1,239.3 582.5,241.7M581.1,269.5 579.8,266.8 580.9,262.5 580.2,261.1M580.2,261.1 582.3,258.4 580.3,255.3 580.6,254.5 583.1,253.5M581,377.7 580.5,373.5M580.5,373.5 583.4,370.8M580.9,222.4 583.3,222.5 586.1,225 589.5,220.4 590.4,220.4M581,330.2 582.6,332.1 586.7,331.5 587.9,332.8 590.3,333.2 596.5,331.5M581,330.2 588,322.2 587.1,319.7M581,377.7 582.4,378.2 583.3,379.7 586.7,380.5 586.3,385.9 589.1,390.1M584.2,271 581.1,269.5M581.1,353.4 583.9,355.1 584,357.9 582.5,358.8 581.8,362.5 584.8,366.2 583.4,370.8M581.1,353.4 580.6,351.8 581.9,349.8M590.7,567.9 587.7,565.6 584.9,566.7 582.2,565.9 581.5,562.7M588.9,548.6 586,551.6 586.3,553.3 585.1,554.9 585.5,557.3 581.9,559.3 581.5,562.7M581.8,421.9 584.3,422.3 587.2,419.8M585.2,349.7 581.9,349.8M582.5,533 581.6,537.9 584.3,545.4M582.5,533 585.5,532.3 586.7,530.7 589.9,530.9 592.2,527.8 593.8,527.5M582.5,241.7 582.4,244.5 583.8,245.9 583.1,253.5M582.5,241.7 586.2,240.3 586.7,238.5 590.1,236.8 591.4,238 597.9,238.7M583.1,253.5 585.7,254.8 587.6,254.1 590,255 592.7,253 596.4,257.6 599.1,255.9 602.1,258.6M593.3,370.9 590.1,372.7 588.3,370.8 583.4,370.8M583.7,279.3 587.7,280.4 587.9,281.9 591.5,285 592.9,284.2M584.2,271 583.7,279.3M584.2,271 587.5,268.6 590.6,272.1 594.5,269.2M588.9,548.6 586.9,545.9 584.3,545.4M590.1,404.2 589.1,404.3 586.2,400.6 589.3,396.5 585.6,394.7 584.8,393M584.8,393 589.1,390.1M596.1,359.1 594.3,358.4 592.1,358.9 589.7,357 589.3,354.7 586.4,353.8 585.2,349.7M593.9,347.4 592.1,351.7 591.4,351.9 587.8,348.2 585.2,349.7M588.9,449.7 585.3,451.7M586,584.4 588.8,582.6M586.9,507.3 590.6,512.4 594.1,511.9M586.9,507.3 588.5,504.9 587.1,499.5 588.1,495 589.3,494.2M587.1,319.7 590.8,316.8 593.8,319.3M587.2,419.8 589.8,421 590.2,423.5 595,427.8M587.3,414.4 586.3,417.7 587.2,419.8M593.5,408.9 589.5,410.8 587.3,414.4M587.7,292.8 587.4,296.3 586.3,297.3 586.3,301.2 589.6,302.8 590.2,304.1M592.6,292.6 589.6,291.9 587.7,292.8M588.2,197.7 591.8,200.3 590.8,201.9 591.5,206.1 596.2,203.8 597.6,204.4M590.4,191.5 588.6,194.1 588.2,197.7M588.3,490.2 589.3,494.2M588.3,490.2 591.3,487.4 590.8,485.3 593.2,482.2 596,482.3 597.6,481 597,475.3M591.9,587 592.2,585.5 588.8,582.6M590.7,567.9 589.9,574.5 592.5,576.8 592,579.2 589,580.5 588.8,582.6M588.9,449.7 591.5,453.4 590.8,456.3 596.1,456.6M597.6,443.5 593.3,445.2 592.8,446.7 588.9,449.7M601.3,549.5 597.7,548.2 594.3,552 592.8,551.6 591.6,549.4 588.9,548.6M596.4,384.4 591.9,385.9 591.6,390.8 589.1,390.1M589.1,176.8 592.5,177.2 594.8,174.1 599.2,176.7 601.6,174.3M589.1,176.8 585,181.7 587.5,187.8 588.9,188.4 590.4,191.5M589.3,494.2 590.8,494.6 594.4,491.9 597.8,495.4 597.7,497.1 601.5,497.6M590.1,404.2 593.5,408.9M590.1,404.2 592.6,400.6 596.4,402.4 599.5,401.3 600.5,399.7M590.2,304.1 591.9,304.5 593.8,306.8 596.5,306.3M590.4,191.5 594.8,189.9 595.9,190.7 599.8,190.8 601.6,189.2 603.1,189.2M590.4,220.4 593.4,222.6 593.6,225.8 597.5,227.7M597.6,204.4 598.1,207.5 595.4,209.9 597.5,213.5 596.5,215.9 592.5,215.5 590.4,220.4M601.8,563.2 598.7,567.1 596.7,567.3 594,565.2 590.7,567.9M601.5,301 599,299.4 598.3,296.4 595,296.5 593.2,295.1 592.6,292.6M592.6,292.6 595.1,290.2 596.3,290.1 597.3,288.2 596.1,284.5M592.9,284.2 596.1,284.5M592.9,284.2 593.8,279.9 596.4,279.8 597.8,278.2 596.8,274.7 597.7,273.3 594.5,269.2M596.7,384 594.3,378.4 596.7,374.2 593.3,370.9M593.3,370.9 593.7,369.5 598,368.1M593.5,408.9 594.2,411.6 598.3,414.6 602.6,415.2M593.8,319.3 593.8,320.3 597,323.3 597.6,325.5 598.8,326.4M593.8,319.3 596.3,317 595.7,311.9 599.3,310.4M593.8,527.5 595.4,531.1 599.8,530.4 604.8,532.7 605.1,534.9 608.7,537M594.1,511.9 595.7,515.1 592.9,516.6 593.1,519.6 591.4,521.6 595.2,525.1 593.8,527.5M605.1,347.5 602.3,347.5 600.4,345.2 599.4,345.3 597,348.1 593.9,347.4M593.9,347.4 590.9,343 591.5,339.6 595.2,338.1 599.5,334.7M594.1,511.9 595.2,509.9 597.3,509.7 599.6,511.9 601.3,511.8M597,475.3 594.2,471M596.1,456.6 595.9,460.5 593.9,461.7 593.2,464.5 596.7,466.3 597.4,468 594.2,471M594.5,269.2 594.7,267.9 596.7,266 600.9,267.4M598.2,434.4 594,432.8 595,427.8M595,427.8 599.4,427.6 600,425.4 603.7,422.9 601.2,419.6 603.2,416.7M595.8,438.7 597.6,443.5M595.8,438.7 598.4,436.2 598.2,434.4M598,368.1 597.7,365.3 595.9,364.2 596.1,359.1M609.3,359.7 604.8,358.6 604.2,357.2 599.4,357 597.7,358.8 596.1,359.1M596.1,284.5 597.6,283.1 600.8,283.3 601.7,286.3 604.6,286.4 607.1,283M601.8,453.7 599.2,456.4 596.1,456.6M596.4,384.4 595.9,389.6 597.5,390.8 596.2,395.7 598.4,396.6 600.5,399.7M596.5,306.3 599.3,310.4M601.5,301 601,304.4 597.2,304.2 596.5,306.3M599.5,334.7 596.5,331.5M596.5,331.5 598.9,327.4 598.8,326.4M603.4,384.8 596.7,384M597.5,227.7 595.8,232.8 599.1,234.1 599.9,235.4M597.5,227.7 600.4,223.4 602.5,223.4 605.2,226 608.3,224.6 610.5,221.5M597.6,204.4 601,202.2M597.6,443.5 603,444.2 603.9,445.7M597.9,238.7 600,241 598.2,243.3 600.1,246.7 602.9,248 600,253.2 605,254.6M599.9,235.4 597.9,238.7M610.6,366.5 605.6,369.2 603.4,367.5 599.7,369.7 598,368.1M598.2,434.4 601.2,431 608.8,432.1M598.3,474.8 602.4,477.1 605,475.8 607.2,477.7 605.6,481.5 608.4,483.5M598.3,474.8 599.7,472.8 602.5,471.8 603.2,469.5 610.5,468.4 610.9,468 609.5,463.5 613.2,461.4M598.8,326.4 602.2,324.8 605.5,325.7M604,311.2 600.7,311.1 599.3,310.4M599.5,334.7 602.3,333.2 603.9,334.2M613.6,238.8 610.1,237.3 608.8,232.2 605.5,233.5 604.8,235.2 602.6,236.4 599.9,235.4M600.5,399.7 601.6,399.6 605.9,403.3M613.6,275.3 610.2,273.6 610.1,271.3 608.9,270.4 604.7,271.2 600.9,267.4M600.9,267.4 602.5,263.4 600.8,261.2 602.1,258.6M601,202.2 603.3,206.5 605,207.1M603.1,189.2 604.7,193.8 601.8,195.9 602,197.3 600.5,200 601,202.2M601.3,511.8 604.2,515.1 610.3,520 613.8,519.3M604.1,501.5 604.3,503.2 602.5,506.5 603.3,508.3 601.3,511.8M601.3,549.5 601.9,550.7 599.6,553.4 600.1,555.6 604.2,558 601.3,561.7 601.8,563.2M601.3,549.5 602.7,545.7 602.1,544.8 602.5,541 603.1,540.4 606.7,540.9 608.7,537M601.5,497.6 604.1,501.5M601.5,497.6 603.8,495.3 603.5,493.4 605.2,491.3 608.7,491.7 609.8,487.7 608.1,485.6 608.4,483.5M601.5,301 603.1,300.4 605.6,295.3 606.1,295.4M601.6,174.3 605.3,177 607.9,180.4 607.3,182.9 609.7,185.1M604.8,565.3 601.8,563.2M601.8,453.7 604.6,456.2 604.4,458.3 606,460.5 611.3,457.3 613.2,461.4M601.8,453.7 602.9,450.8 602.3,448.8 603.9,445.7M602.1,258.6 603.4,258.3 605,254.6M602.6,415.2 603.2,416.7M609.7,411.7 608.9,413.2 603.9,413.5 602.6,415.2M603.1,189.2 604.3,188.4 607.2,188.6 609.7,185.1M603.2,416.7 606.2,418.2 604.9,422.4 610.1,423.2M603.4,384.8 604.4,386.6 608.1,386.2 609.5,387.9 607,391.8 608.8,394.6M610.9,377.8 607,379.2 606.3,382 604.7,382.3 603.4,384.8M607.1,446.2 603.9,445.7M606.9,343.8 602.3,342.1 601.8,340 604.6,338.1 603.9,334.2M608.4,333.4 603.9,334.2M605.8,319.8 604.4,318.5 605.5,316.2 604,311.2M604,311.2 605.5,309.9 606,306.5 610.6,306.6 611.7,303.3M624.2,502.9 622.8,502 619.1,503.5 615.8,502.2 615.4,500.2 611.6,498.7 609.1,500.4 606.6,499.5 604.1,501.5M604.8,565.3 607.2,567.9 610.9,567.4 610.7,572.2 612.2,573.7 612.2,574.3M604.8,565.3 607.5,562.9 610.5,564.4 612.6,561.2 617.3,563.6 618.6,560.1 624.3,559.6M605,207.1 606.7,210.6 607.2,214.6 608.9,215.6 610.8,219.9 610.5,221.5M605,207.1 607.3,204.8 610.9,205.3 615.9,204.5 617,201.9 617.7,201.9M614.3,254.6 609.9,254.7 608.7,255.8 605,254.6M605.1,347.5 607.7,350.4 609.3,354.3 611,355.2M605.1,347.5 606.9,343.8M605.5,325.7 604.7,329.5 608.1,331.3 608.4,333.4M605.5,325.7 606.9,325.1 605.8,319.8M605.8,319.8 609.9,319.9 612.8,322.9 616,318.5 619.1,320.7M609.7,411.7 609.1,409.4 606.4,407.9 605.1,405.4 605.9,403.3M605.9,403.3 608.8,394.6M611.7,303.3 608.8,301.5 608.9,299.6 606.1,295.4M606.1,295.4 610.5,293.7 610.7,290.4M606.9,343.8 611.5,346.5 612.4,345.6 612.3,341.8 615.4,340.5 616.9,341.5 618.8,341.3 620.5,338.8M607.1,283 610.2,284.8 608.5,288.7 610.7,290.4M607.1,283 606.2,280.5 609.2,278.7 611.6,279.1 613.6,275.3M621.2,456.5 620,455.6 618.9,451.5 614.3,452.2 613.7,451.4 614.5,446 613.4,445 608.6,448.2 607.1,446.2M612.5,437.3 612.6,443 608.7,442.4 607.1,446.2M608.4,333.4 611.7,333.3 614.3,336.5 616.8,335.4M608.4,483.5 609.5,482.8 613.6,483.6M611.1,536.3 608.7,537M608.8,432.1 608.8,433.7 611.1,436.8 612.5,437.3M608.8,432.1 607.7,427.8 610.2,424.5 610.1,423.2M608.8,394.6 613.6,394.4M610.6,366.5 609,364.5 609.3,359.7M609.3,359.7 611,355.2M616.3,411.9 614.6,412.5 609.7,411.7M614.8,420 613.6,419.7 611.5,421 610.1,423.2M610.5,221.5 614.9,224.6M610.7,290.4 613.9,288.9 615.8,291.9 619.6,289.7M610.8,185 613.7,187.6 612.1,191.2 612.7,192.9 614.1,193.8 618.7,190.9 621,194.9 621.8,198.9M622.8,176 621.7,176.4 620.7,178.9 616.8,179.1 616.1,181.9 612.2,182.8 610.8,185M611.3,366.8 611.9,370.5 608.3,373.6 610.9,377.8M610.9,377.8 615.4,376.2 617.8,379.9 620.9,381.7M611,355.2 612.7,354.9 614.8,351.8 618.8,354 619.5,356.3 621.9,357.5M625,542.2 624.1,542.2 621.1,537.6 619.4,537.7 617.7,541.2 615.8,542 613.5,541.2 611.1,536.3M611.1,536.3 611.4,534.6 609.9,530.1 612.7,528.4 613.1,524.8 615.3,523.2 613.8,519.3M624.6,364.9 620.9,368.1 617.6,366.9 616.9,365.8 613.8,365.5 611.3,366.8M618.6,307.2 616.1,306.4 615.8,305.4 612.6,303.1 611.7,303.3M612.5,437.3 614.9,436.7 616,435 619.6,435.1M613.2,461.4 615.3,465.2 618.7,464.4M613.6,483.6 614.8,486 618.4,483.7 622,486.3 620.9,489.1 627.3,493.5 628.4,497.1M613.6,483.6 614.4,479.9 618.8,480.9 619.6,480.2 619.8,476.8 624.2,475.7M613.6,275.3 616,274.6M620.5,406.7 617.3,405.5 616.9,403.2 618.2,400.3 614.2,398.2 613.6,394.4M621,386.2 620.6,389.9 617.6,392.1 617.4,393 613.6,394.4M613.6,238.8 614.2,236.5 611.9,232 615.9,230.9 616.2,230.2 614.9,224.6M619.4,517.2 613.8,519.3M627.8,237.7 620.3,238.3 616.8,240.4 613.9,239.5M614.3,254.6 614.6,252.6 611.9,249.6 612.6,246.8 611.9,245.8 611.9,242.3 613.9,239.5M615.3,256.3 614.3,254.6M616.9,422.5 614.8,420M616.3,411.9 618.6,416.7 614.8,420M614.9,224.6 617.3,222 620.7,222.3 622.9,221.6 625.1,218.3M618.3,267.3 614.6,263.2 616.3,260.9 614.9,257.9 615.3,256.3M615.3,256.3 623,254.4 624.4,255 627.4,253.7M616,274.6 617.8,276.4 621.5,274.7 623.7,275.4 625,277.5 624.7,278.5 627.7,282.5M618.3,267.3 618.8,270.2 616,273.2 616,274.6M620.5,406.7 621.1,409.6 620,411.1 616.3,411.9M620.5,338.8 616.8,335.4M619.1,320.7 619.1,323.3 621.1,325 620.9,327.4 619.8,328.4 619.7,332.4 617.5,333.5 616.8,335.4M616.9,422.5 617.4,425 621.2,426.5 619.6,430.9 621,432.6M616.9,422.5 621.3,420.5 624,422.7 625.8,419 628.8,418.2 634.2,421.5M625.1,218.3 622.6,215.3 623.5,213.2 622.2,211.1 617.3,210.4 617.3,208.5 621.8,205.7 621.9,205 617.7,201.9M621.8,198.9 617.7,201.9M618.3,267.3 621.2,265.2 624.4,269.4 625.7,269.8 628.2,264.9 630.8,265.5 632.3,264.5M618.6,307.2 621,311.8 620.9,315.3 622.7,317.1M618.6,307.2 620.8,305 620.3,302.6 623.5,300.3M618.7,464.4 620.9,467.5 619.7,469.8 620.3,471.5 623.1,472.2M621.2,456.5 621.5,458 618.7,464.4M619.1,320.7 621.9,319.5 622.7,317.1M619.4,517.2 620.5,521.2 625.9,521.2 631.3,524.7M619.4,517.2 622.9,515.5 624,512 622.6,511 622.2,508.5 624.9,504.4 624.2,502.9M619.6,289.7 620.8,291 620.2,293.8 622.7,296.2 622.3,297.8 623.5,300.3M619.6,289.7 619.5,288.2 620.6,286.7 623.9,286 627.7,282.5M619.6,435.1 623.2,440.7 621.1,443.3 622,445.9 625.2,447.1 624.2,451 626.1,453.7M619.6,435.1 621,432.6M620.5,406.7 624,403.9M620.5,338.8 622.7,338.3M621,386.2 620.9,381.7M625.6,378.9 624.9,380.8 620.9,381.7M631.4,430.5 624.3,430.6 623,432.4 621,432.6M630.2,394 628.6,392.9 628.2,389 626.1,387.9 625.3,386.2 621,386.2M626.1,453.7 621.2,456.5M627.6,197.8 623,199.6 621.8,198.9M621.9,357.5 624.9,359.6M621.9,357.5 624.3,354.5 623.7,350.6 625.6,349 624.5,345.3 629,342.4M622.7,317.1 626.4,316.3 626.9,315.2 629.6,313.9M622.7,338.3 623.8,340 628.3,341.2 629,342.4M634.9,326 632.6,329.8 631,329.7 627.9,332.8 628.8,335.6 622.7,338.3M624.2,475.7 623.1,472.2M636.5,463.7 634.6,466 634.9,469.4 634.2,470.4 632.5,471 629.8,469.7 627.4,471.1 625.5,470.5 623.1,472.2M630.7,299.1 628.5,298.9 625.7,301.4 623.5,300.3M633,413.1 629.4,412.1 628.6,408.7 626.1,408.4 624,403.9M624,403.9 624.4,402.8 627.3,401.8 629.9,403.1 633.8,400.8M624.2,475.7 631.4,475.2 632.6,479.7 636.9,478.8 638.7,480.2 638.9,481.6M629,499.7 624.2,502.9M628.8,563.9 624.7,561.5 624.3,559.6M627.2,546.6 625,549.2 628.9,552.1 627.8,554.2 625.4,554.6 624.3,559.6M626.1,365.7 624.6,364.9M624.6,364.9 624.9,359.6M624.9,359.6 634.9,356.5 638,353.6 640.3,357.5 642,357.8M625,542.2 627.2,546.6M625,542.2 625.7,541.5 626.4,537.7 623.6,535.9 623.8,534.6 626.7,532.7 629,533.5 630.4,532.6 631.5,528.3M627.5,218.2 625.1,218.3M625.6,378.9 624.1,376.6 625.3,373.6 624.7,371.5 626.9,368.7 626.1,365.7M625.6,378.9 630.1,378.3 634.4,379.3M626.1,365.7 629.4,363.8 632.1,364.3 632,368.9 634.6,369.5 637.2,367.8 639.5,371.2M637.9,458.9 635.6,456.9 635.2,454.6 633.6,454.3 628.6,457.1 626.7,453.9M636.3,444.3 631.2,446.3 630.5,450.5 626.7,453.9M644.2,544.1 641.4,544.1 639.2,547 635.6,544.7 634.5,545.1 633.9,548.4 631.7,549.6 629,546.4 627.2,546.6M627.4,253.7 630.6,255.7M627.4,253.7 627.5,251.3 625.4,248.4 628.2,245.5 627,242.9 628.5,240.6 627.8,237.7M627.5,218.2 629.2,221.9 631.5,222.7 631.2,227.1 635,228.6M627.5,218.2 628.8,216.6 633.4,217.6 633.8,217.2 633.3,212.4 634.9,208.4M627.6,197.8 629.8,198 633,201.1 635.2,201.3M630,182.4 627.7,183.7 627.1,187.8 630.1,191 626.2,193.8 627.6,197.8M627.7,282.5 631.5,285M627.8,237.7 628.3,236.8 633.5,236.8M628.4,497.1 629,499.7M628.4,497.1 632.7,495.1 631.4,491.4 634.8,489.5 634.7,488 638.4,484.3 638.9,481.6M629,499.7 630.1,500.5 632.6,500.2 635,502.6 637.7,501.3 639.1,501.7 639.6,505.3 641.1,506.4M629,342.4 631.2,345.6 634.1,345.1 637.8,347M629.6,313.9 633.2,315.9M629.6,313.9 630.1,311.4 633.2,309.6 631.6,305.5M633.8,400.8 634,398.8 630.1,396.3 630.2,394M630.2,394 636.8,389.9 638.3,389.9M632.3,264.5 633.5,261.6 630,258.7 630.6,255.7M630.6,255.7 632.9,254.7 634,252.2 633.8,250.8 636.8,247.7 636.8,246.1 639,244.8M630.7,299.1 631.9,300.3 631.6,305.5M633,295.3 630.7,299.1M631.5,528.3 631.3,524.7M631.3,524.7 632.6,523.5 636.2,523.3 638.2,521.5 640.3,521.1 641.5,518.4 643.3,517.5 644.1,514.4M631.4,430.5 632.2,432 630.9,435 632.9,437.7 635.7,436.5M631.4,430.5 632.6,428.1 630.7,425.2 633.9,422.7 634.2,421.5M633,295.3 631.6,293 632.1,291.3 634,290 634.9,287.1 631.5,285M634,280.3 631.5,285M644.5,538.7 640.3,538.3 639.9,536.9 642.4,532.3 639.8,531 635.6,534.2 634.3,529.1 631.5,528.3M642.1,307.3 638.6,308 636.5,304.2 631.6,305.5M636.5,266.8 632.3,264.5M633,295.3 635.3,295.9 638,292.6 639.6,292.4 640.8,293.1 641.1,297.5 646.5,297.7M633,413.1 633,415.5 634.7,417.1M633,413.1 634,412.3 639,412.3 639.3,410.8 638.6,408.6 640.1,405M633.2,315.9 633.1,318.8 631.7,319.6 630.4,322.2 631.3,324.3 634.6,325.2 634.9,326M642.9,319.3 641.8,315.2 635.3,314.1 633.2,315.9M633.5,236.8 634.4,238 634.5,240.1 640,241.5 639,244.8M635,228.6 635.3,231.4 633.7,233.1 633.5,236.8M633.8,400.8 636.4,403.1 639.1,403.1 640.1,405M634,280.3 636.6,281.9 640.1,280.2 641.2,280.7 642.9,285.4 646.2,284.3 649.7,287.2M636.5,266.8 634.6,270.8 635.1,272 634.4,274.4 635.3,276.2 634,280.3M634.7,417.1 634.2,421.5M640.3,386.9 635.4,383.6 634.4,379.3M634.4,379.3 636.1,377.3 635.1,374.3 638.3,373.1 639.5,371.2M643.5,422.6 639.7,422.2 638.3,420.9 638.9,416.5 634.7,417.1M639.9,328.3 634.9,326M635,228.6 639.6,227.5 640.7,225.9 644.7,226.3M640.4,439.8 635.7,436.5M635.7,436.5 636.5,433 639.4,432.4 640.8,430 640.2,428.3 643.3,425M636.3,444.3 638.3,448.3 642.4,449.8M636.3,444.3 636.4,443.3 640.4,439.8M636.5,266.8 640,267.1M636.5,463.7 640.5,465 640.8,466 644.8,468.3 645.5,470 650.8,468.9M636.5,463.7 637.9,458.9M643.5,355.1 641.7,352.6 642.6,350.9 641,347.7 637.8,347M637.8,347 639,343.1 645.1,340.1 644.8,336.6 646.8,334.3M640,458.6 637.9,458.9M645.5,400.8 641.5,399.1 643.4,393.7 639.4,391.9 638.3,389.9M638.3,389.9 640.3,386.9M638.9,481.6 645.2,482.3M639,244.8 642.2,246.7M639.5,371.2 642.7,370.6M639.9,328.3 646.8,334.3M642.9,319.3 640.8,322.3 641.5,324 639.9,328.3M650.9,460.6 649.4,460.1 648.2,458.6 645.6,458.5 642.8,461.1 640,458.6M642.4,449.8 641.7,454.7 640,458.6M640,267.1 640.8,267.9 640.9,272 647.1,271.2 647.9,273.3M640,267.1 641.6,262.5 644.1,262.8 645.9,260.8 644.8,257.9 646.9,255.2 647.7,255.3M643.4,405.9 640.1,405M640.3,386.9 641.2,386.4 644.5,388.9 646.5,388.1 647.3,385.2 649.7,385.2M640.4,439.8 641.3,440.3 646.2,438.3 647.7,438.9 651.9,436M641.1,506.4 639.7,510.6 640.2,511.9 641.8,512.1 644.1,514.4M650.7,497.2 645.9,496 644.6,497.8 645.4,501.2 642.1,506.2 641.1,506.4M642,357.8 643.3,359.5 642.1,364.5 642.7,370.6M642,357.8 643.5,355.1M648.8,317.4 643.5,314.3 645.5,310.3 642.1,307.3M647,299.5 645.6,302.9 643.4,303.6 642.1,307.3M642.4,449.8 645.1,449.2 647.3,450.3 648.5,449.2 653.2,449.3M645.5,372.3 642.7,370.6M642.9,319.3 646.4,319.8 648.8,317.4M643.3,425 646.4,428.9 651.6,429.5M643.5,422.6 643.3,425M647,419 645.8,413.4 647.2,411.6 643.4,405.9M646.1,401.7 643.4,405.9M647,419 644.6,420.7 643.5,422.6M643.5,355.1 645.9,354.9 646.3,350.6 647.1,350 650.3,351.2 651.3,354.2 653.4,354.9 656.1,352.6 655.6,349.5 660.3,347.5M644.1,514.4 647.3,513.8 649.7,518.2M646.9,551.1 643.4,552 641.8,551.2 645.3,546.1 644.2,544.1M644.5,538.7 644.9,542.9 644.2,544.1M654.4,530.5 651,528.8 649.5,529.3 648,532.4 648.9,533.8 647.6,537.4 645.5,537.7 644.5,538.7M644.7,226.3 645.2,229.9 647.4,231.1 648.8,231M650.4,224.9 647.3,224.2 644.7,226.3M652.3,489.3 650.4,487.9 650.5,484.4 646.3,484.3 645.2,482.3M645.2,482.3 645.6,480.7 644.4,477.1 648.7,475.2 652.2,471M645.5,372.3 647.2,375.9 644.3,379.4 645.8,381.8 649.5,381 651,383.3M645.5,372.3 646.7,371.1 650.9,370.4 651.2,367.1 655.9,366.4 657.4,367.3M651.6,388.5 649.5,390.1 649,393 647.7,394.2 648.2,396.3 645.5,400.8M646.1,401.7 647.4,402.3 649.8,401.8 653.2,404.4 653.5,405.5M647,299.5 646.5,297.7M649.7,287.2 648.8,289.9 649.2,294.7 647.4,295.5 646.5,297.7M653,335.5 649.3,336 646.8,334.3M650.5,412.8 650.7,416.5 647,419M647,299.5 652.2,300.6 653,303.4 657.7,304.9 658.8,303.7 661.9,304M647.9,273.3 652.8,274.1M647.9,273.3 648.9,279 648.1,281.3 653.4,284.2M648.8,317.4 651.3,318.1M649.7,287.2 653.4,284.2M654.4,530.5 656.5,526.6 653.5,523.6 652.5,523.6 649.7,518.2M649.7,518.2 651.5,517.3 655.2,517.7 656.9,516.4 659.5,516.4M651.6,388.5 649.7,385.2M649.7,385.2 651,383.3M650.5,412.8 655.3,414.3 655.5,417.1 657.1,418M653.5,405.5 652.8,406.5 652.7,409.3 650.1,412.2 650.5,412.8M650.7,497.2 650.4,492.7 651.9,491.7 652.3,489.3M650.7,497.2 655.5,495.3 656.8,496.3 660.9,495.6 662,497.1 661,500.8 662.3,502.5M650.8,468.9 652.2,471M650.8,468.9 651.3,466.7 653.3,464.7M653.3,464.7 650.9,460.6M653.2,449.3 653,453.4 652,454.3 654.2,458 650.9,460.6M651,383.3 653.1,383.2 654.2,380.8 657.4,381 657.9,376.3M651.3,318.1 651.8,321.4 654.7,323.4 653.3,327 653.9,329M651.3,318.1 653.5,316.7 653.5,310.5 658.9,313.5 661.3,310.1 662.8,309.8 663.8,308.5M651.9,436 653.3,432.8 651.6,429.5M651.6,429.5 653.8,426.9 655.2,427.4 657.2,431.3 661,429M651.6,388.5 654.6,388.4 654.9,392.6 657.4,394.2M653.7,443.6 653.6,437.4 651.9,436M659.4,474.5 656.5,471.3 653.9,471.8 652.2,471M659.2,480.9 654.4,485.5 654.7,488.1 652.3,489.3M658.8,338.8 656.2,335.8 653,335.5M653,335.5 652,330.9 653.9,329M653.3,464.7 656.6,462.9 660.5,465.1 662,461.3 664.8,461.6M653.4,284.2 658.1,285.2M653.5,405.5 657.7,405.7M654.4,448.3 653.7,443.6M665.2,437.3 663,437.4 661.1,440.7 659.3,440.5 656.4,443.3 653.7,443.6M653.9,329 655,329.4 659.6,326.8 661.7,329.3 666.4,326.4M665,536.3 661.8,533.6 658.6,535.8 654.4,530.5M666.2,449.3 662.7,448.9 661.4,452.2 658.4,452.8 657.2,449.5 654.4,448.3M657.1,418 657.9,420.2 656.6,422.4 659,425.3 660.2,425.6 661,429M661,415.8 657.1,418M657.4,367.3 658.9,371.9 657.3,374.1 657.9,376.3M657.4,367.3 659.7,361.8 663.8,363.4M657.7,405.7 658,401.6 659.3,400.8 659,397.6 657.7,396.7 657.4,394.2M660.9,392 657.4,394.2M657.7,405.7 660.9,405.7 662.4,401.9 663.3,401.6M661.9,376.7 657.9,376.3M658.8,338.8 662.3,343 669.2,335.9M658.8,338.8 655.2,342.9 661.1,346.3 660.3,347.5M659.4,474.5 658.7,476.5 659.2,480.9M659.2,480.9 663.2,480.8 665.2,482.6 664.7,484.4 667.5,488.3M659.4,474.5 662.7,472 662.7,470.5 665.5,467.6M671.9,520.1 667.1,517.7 661.2,519 659.5,516.4M659.5,516.4 661.4,513.3 660.9,510.4 660.2,510 660.3,505.3 662.1,503.7 662.3,502.5M660.3,347.5 660.3,352.1 663.1,353.6M660.9,392 662.6,394.3 666,393.9 668.3,397.5 664.3,399.3 663.3,401.6M664.9,389.2 661,391.3 660.9,392M661,429 663.7,430.5M661,415.8 663.9,419.7 662.8,423 665.4,425.1M661,415.8 661.1,414.2 664.7,412.4M661.9,304 663.8,308.5M666.8,292.8 663.6,294.6 662.6,297.1 665.6,299.7 664.9,301.8 661.9,304M664.9,389.2 664.1,386.1 665,384.5 663.9,382.1 661.8,381.2 661.9,376.7M661.9,376.7 663.5,375.4 666,376.7 669.4,374.8M662.3,502.5 670.8,498.8M663.1,353.6 661.4,357.3 664.9,359 663.8,363.4M674.6,350.7 669.5,350.6 669.2,354 666.8,355.1 664.1,353.2 663.1,353.6M666.8,292.8 667,289.9 665.7,289.2M665.7,403.8 663.3,401.6M666.9,435.4 666.6,433.6 663.7,430.5M665.4,425.1 665.4,428.9 663.7,430.5M673.8,365.9 671.5,364.7 667.3,368.3 663.8,363.4M668.5,309.6 666.2,307.8 663.8,308.5M664.7,412.4 673.3,414 676.3,416.7 678.4,416.5M664.7,412.4 663,408 664.6,407.1 665.7,403.8M665.5,467.6 664.9,466 665.9,463.8 664.8,461.6M664.8,461.6 666.8,458.2 668.1,457.8M664.9,389.2 667.3,390.5 669.5,387.2 671.1,386.7 673.4,388.6 677.2,387M665.2,437.3 667.1,441 664.3,443.4 666.6,445.8 666.2,449.3M666.9,435.4 665.2,437.3M665.4,425.1 668.2,424.5 668.9,423 672.5,422.5 674.3,420.7 678.3,422.6M672.8,475.2 671.9,475.4 668.5,472.3 667,468.3 665.5,467.6M665.7,403.8 668.8,403.5 669.6,404.2 673.4,402.1M669.2,335.9 668.2,334.2 666.3,332.9 667.4,327.1 666.4,326.4M668,320.5 666.5,321.3 665.7,324.5 666.4,326.4M677.3,291.7 672.7,292.3 669.1,294.8 666.8,292.8M666.9,435.4 671.5,437.3 676,434.9M667.2,450.4 669.8,450.6 671.9,446.2 676.2,448.7 679.1,448.2M667.2,450.4 665.5,453.2 668.1,457.8M670.8,498.8 667.4,494.9 667.3,492.7 666.3,491.1 667.5,488.3M667.5,488.3 668.5,488 670.9,484.3 674.1,484M668,320.5 671.5,321.5 673.5,320.3 676.2,321.3 678,320.4M668,320.5 668.9,315.1 667.8,314.3 668.5,309.6M677,460.9 669.4,462.7 668.1,457.8M668.5,309.6 671.1,308.9 671.8,305.8 675.4,305.8M669.7,532.7 667.6,530.5 669.5,524.9 672.4,523.3 671.9,520.1M676.7,336.5 671.8,337.3 669.2,335.9M669.4,374.8 671.4,376.2 671.6,378.2 674.5,379.7 676.2,379.3 677.7,382.5 676.5,385.1 677.2,387M673.8,365.9 672.3,370.6 669.3,371 669.4,374.8M670.8,498.8 671.7,499.7 675.2,499.5M671.9,520.1 674.4,517.4 676.5,517M672.8,475.2 676.6,477.9 673.9,481.2 674.1,484M672.8,475.2 675.1,471.9 674.5,468.2 680.5,469.5 682.9,467.1M679.4,411.9 677.4,410.2 674.7,410.4 672.9,408.5 675.2,404.1 673.4,402.1M677.6,398.3 675.6,398.1 673.7,399.8 673.4,402.1M673.8,365.9 675.7,365.5 677.6,363.8M674.1,484 678,485.6 683.2,485.8M674.6,350.7 674.4,353 677,356.5 679.2,356.2 681.4,358.5M679.6,340 676,342.9 678,347.2 674.6,350.7M680.9,511.5 680.1,507.7 681,507 680.8,503 676.6,503.1 675.2,499.5M675.2,499.5 680.6,498.8 680.1,494.4 684.1,493.7 685.1,492 683.2,489 683.7,486.8M680.8,306.5 676,306.5 675.4,305.8M677.3,291.7 678.7,293 678.3,296 674.7,298.7 676.2,301.2 675.4,305.8M676,434.9 679.6,436.7M676,434.9 677.6,430.6 676.6,426 678.2,424.3M684.5,522.2 684.5,522.1 681.9,521.1 678.9,521.7 676.5,517M676.5,517 677.4,514.2 680.9,511.5M679.6,340 676.7,336.5M676.7,336.5 678,333.5 682,333.3 680.8,327M677,460.9 679.9,463.5 681.8,463.7 682.9,467.1M677,460.9 679.1,457.7 681,457.5 682.7,453.2M677.2,387 678.6,388M679.4,287.7 677.2,289.1 677.3,291.7M677.6,363.8 681.4,365.7 681.9,368.2 684.3,369.5 685,369.3M681.4,358.5 677.6,363.8M677.6,398.3 678.8,399.2 683.9,397.5 688.3,399.3M677.6,398.3 679.4,394 676.7,392.1 678.6,388M680.8,327 682.3,323.3 681.9,321.7 678,320.4M680.8,306.5 681.2,310.4 680.5,310.9 680.1,315.7 678.4,316.4 678,320.4M678.2,424.3 681.8,427.2 683.7,426.6 685.2,427.3M678.2,424.3 678.3,422.6M678.3,422.6 680.2,418 678.4,416.5M679.4,411.9 678.4,416.5M678.6,388 679.8,388 683.1,382.8M682.7,453.2 680.5,451.8 679.1,448.2M679.1,448.2 679.1,445.8 681.3,442.5M681.7,412 679.4,411.9M679.6,436.7 678.5,439.7 681.3,442.5M679.6,436.7 680.9,436 681.3,432.6 684.7,432M679.6,340 682,343 684.5,343.6 687.1,341.5 688.2,341.5M680.8,306.5 681.9,304.7 687.5,306.4 688.5,305.1 693.2,304.3M686.4,328.2 680.8,327M680.9,511.5 684.2,513 686.1,510.9 689.3,511.9 690.7,510.7M689.4,440.7 684.3,439.3 682.3,442.4 681.3,442.5M681.4,358.5 683.6,358.8 685.2,354.5 686.7,353.9 688.4,349.7M681.7,412 683.2,414.8 686.8,415 687.3,417.3 690.4,418.6M681.7,412 683.3,410.6 682.8,405.9 683.8,404.7 687.4,407.1 690.3,405.3M694.5,453.1 689.5,453.2 687.5,450.6 686.4,450.5 682.7,453.2M682.9,467.1 686,471.4 688.6,471.9M683.1,382.8 685.7,385.2 689.7,384 691,385.3 690,388.1 691.6,390.1M683.1,382.8 686.6,379.8 686.9,378 691.3,376.8 691.3,376.6M683.2,485.8 684.4,482.1 687.7,481.7 688.5,481 688.1,476.2 688.9,475.2M693.2,496.7 691.4,494.2 687.5,491.3 688.7,487.6 683.7,486.8M684.7,432 686.5,435.1 689,435.6M684.7,432 685.7,430.4 685.2,427.3M685.2,427.3 687.3,426.3 690.4,418.6M688.3,399.3 690.3,405.3M691.6,390.1 688.3,399.3M688.9,475.2 688.6,471.9M696.5,462 694.9,461.7 689,462.8 688.6,471.9M688.9,475.2 696.8,478.5 698.9,473.7 699.7,473.7M689.4,440.7 689,435.6M689,435.6 692.5,435 694.6,431.5M689.4,440.7 696.8,446.3 697.3,447.7 694.5,453.1M690.3,405.3 693.2,406.5 698.9,405.6 699.9,408 703.6,408.2M690.4,418.6 692.8,418.7 695.7,417.7 698.5,420.3M694.1,516.7 694.6,514.6 693.8,511 690.7,510.7M693.2,496.7 692.9,499.2 690.5,501.3 691.5,505.4 690.7,510.7M697.4,387 694.5,387.5 693.5,389.8 691.6,390.1M693.2,496.7 697.2,495.6 699.2,496.7 701.4,496.2M697.7,308.7 693.2,304.3M696.3,293.1 695.2,295.2 695.2,299.7 693.3,300.8 693.2,304.3M694.5,453.1 694.5,454.9 697.9,458 696.5,462M706.6,449.6 701.7,450.3 700.9,453.4 694.5,453.1M708.1,436.7 704,435.6 703.7,434.6 701.1,432.5 697.9,435.3 694.6,431.5M694.6,431.5 695.4,430 695,427.9 696.5,426.1 695.7,422.9 698.5,420.3M700.1,464.6 699.2,463 696.5,462M697.4,387 698.5,389.6 702.4,390.1 702.8,394.1 703.9,394.9M704.2,384.2 702.3,385.3 699.7,384 698.6,384.4 697.4,387M698.5,420.3 702.1,415M708.9,481.6 706.5,478.6 704.2,479.7 701.6,478.7 701.9,475.8 699.7,473.7M699.7,473.7 702,471 701.8,470 698.4,468.2 700.1,464.6M713.2,462.7 708.7,465.5 706.2,462.5 702.9,465.7 700.1,464.6M701.4,496.2 705.8,495.7 707.1,496.9 710.3,497 711.4,500.8M701.4,496.2 700.6,488 704,487.6 703.9,483.7 707.7,483.7 708.9,481.6M702.1,415 705.6,419.4M702.1,415 703.5,413.8 704.4,408.9 703.6,408.2M706,403.4 704.8,404.1 703.6,408.2M703.9,394.9 704.7,398.5 706,399.5 706,403.4M708.1,393.2 703.9,394.9M711.3,429.2 708.6,426.9 708.4,425.2 706.8,424.3 705.6,419.4M705.6,419.4 712.3,416.5 716.9,418.5 717.8,418.2M711.6,404.3 710.7,403.9 709,405 706,403.4M706.6,449.6 710.1,450.4 714.1,455.8 716.1,456.2M706.6,449.6 706.7,446.9 702.9,444.4 704.9,441.3 707.9,441M707.9,441 709.3,443.6 713.1,443.1 713.8,439.8 716.6,439.7 719.2,442.3M707.9,441 708.6,439.5 708.1,436.7M711.3,429.2 709,432.6 709.8,434.6 708.1,436.7M711.1,481.4 708.9,481.6M711.4,500.8 708.2,502.4 709.5,506.6 707.3,508.8 708.2,510.7M711.1,481.4 712.6,484.1 715.2,484.4 716.7,488.3 716.1,489.2 717.7,492 715.6,496.3M718.3,478.3 717.5,481.3 712.5,479.7 711.1,481.4M711.3,429.2 713.5,429.1 714.8,433.3 720.2,432M711.4,500.8 713.5,502 715.2,500.7 715.6,496.3M718.3,478.3 717.1,475.8 719.2,473.1 717.8,469.2 714.8,469.3 713.7,467.9 714,463.8 713.2,462.7M716.1,459.7 713.2,461.9 713.2,462.7M724.3,497.9 721,496.4 719.7,497.3 715.6,496.3M716.1,459.7 716.1,456.2M716.1,456.2 719.9,456 721.8,453.2 720.3,450.5 720.6,448 724.9,444.7M716.1,459.7 719.7,461.8 721.8,461.3 723,463 728,463.7 728.5,464.4 733.8,463.7M724.3,423.6 723.1,422.2 721.2,422.1 717.8,418.2M717.8,418.2 719.9,415.7 719.2,413.7 717,412.1 717,410.8M734.1,469.9 733.2,472.3 728.5,473.4 728,476.4 723.3,476.9 722.8,478 718.3,478.3M719.2,442.3 724.2,443.3 724.9,444.7M720.2,432 721.8,436.5 719.2,442.3M720.2,432 721,429.2 724.3,426.3 724.3,423.6M724.3,423.6 728.6,422.1 729.9,423M727.3,502.7 725.3,502.8 723.6,501.3 724.3,497.9M738.5,492.2 732.2,492 730.8,494 726.4,492.3 725.1,497.5 724.3,497.9M732.4,441.5 729.8,444.2 724.9,444.7M730.5,415.9 729.9,417.2 733.4,419.6 733.4,420.5M735.1,436.8 732.7,434.9 732.7,431.8 728.3,431 728.3,427.9 730.6,426 729.9,423M729.9,423 733.4,420.5M732.4,441.5 734.9,445 734.6,446.7 730.9,448.4 731.9,451.4 734.4,451.9 735.5,454.7M732.4,441.5 734.1,440.1 735.1,436.8M733.4,420.5 735.4,422.4 738.7,420.9 739.9,421.8 744.3,419.4M734.1,469.9 733.4,468.8 734.3,464.4 733.8,463.7M735.5,454.7 734.2,456.5 736.3,459.6 734,461.7 733.8,463.7M744.7,411.9 743.2,415.7 744.1,416.7 744.3,419.4M734.1,469.9 738.4,469.6 740.3,471.8M761.7,407.5 759.5,406.1M735.1,436.8 737.4,435.7 740,438.1 742.8,437.6 744.1,434.5 745.5,434.3 748.3,437.5 750.4,437.7M745.5,454.6 744.4,454.5 740.4,456.7 739.1,455 735.5,454.7M738.6,494.2 738.5,492.2M738.6,491.5 737.5,488.5 735.1,487.4 735.3,482.6 733.5,481.2 732.7,477.9 734.7,475.1 738.6,475.6 740.3,471.8M738.6,491.5 744.4,487.9 744.8,484.7 748.7,482.6 750.1,483.5 753.9,482.4M740.3,471.8 742.7,471.6 744.8,475.6 748.6,474.5M744.3,419.4 745.1,420.6 749.7,421.6 748.3,425.9 752.7,427.2M754.5,461.6 751.8,460.1 750.6,456.2 747.3,456.2 745.5,454.6M750.9,438.9 749.6,442 751,444.7 749.8,446.2 746.3,446.3 744.9,447.9 747,450.7 745.5,454.6M748.6,474.5 749.4,475.2 749.7,478.4 753,479.2M748.6,474.5 748.2,471.3 749,470.5 749,466.9 749.9,465.9 751.6,465.9 754.5,463.3 754.5,461.6M752.7,427.2 753.9,429.7 751.5,432.1 751.9,435.3 750.4,437.7M765.3,443.2 762.3,443 760.3,440.4 754.9,440.9 750.9,438.9M766.1,395.3 767.2,395.8 767.5,398.1 770.5,399.6M752.7,427.2 753.9,422.3 755.2,421.8 758.7,424.1 761.9,422.4M753,479.2 754.2,481.5 753.9,482.4M753,479.2 755.5,474.9 757.6,476.4 762.6,475.2 767,476.4 768.6,475.5M757,493.4 756,492.4 757.6,490.3 753.9,482.4M766.3,455.7 762.8,459.3 759.6,456.6 757.6,457.1 756.7,460 754.5,461.6M761.7,407.5 761,409.2 761.6,411.5 760.4,413.5 762.5,416.5 761.7,418.7 762.4,420.2 761.9,422.4M761.7,407.5 767.2,409.5 769.2,407M761.9,422.4 765.2,424.9 768.9,422.6M765.3,443.2 764.6,449.7 765.7,450.8 765.4,454 766.3,455.7M765.3,443.2 767,439.6 768.9,438.4M766.3,455.7 768.4,459.6 770.1,459.7 772.2,462.3M776.1,479.7 773.7,475.8 770.9,476.6 768.6,475.5M768.6,475.5 768.2,470.6 767.1,468.3 768.5,464.8 770.5,464.6 772.2,462.3M768.9,438.4 768.7,436.3 772.2,432.3 772,431.5 768.4,429.5 771,424.9 768.9,422.6M768.9,422.6 769,421 772.1,418.7 778,417.9M777.9,434.5 775.2,434.9 774,437.2 768.9,438.4M779.3,408.9 777,407.9 773.4,411.1 770.7,407.4 769.2,407M770.5,399.6 770.7,401.5 768.1,404.3 769.2,407M777.4,396.5 776.1,397.5 773.1,396.9 770.5,399.6M772.2,462.3 774.1,462.2 775,461.2M787,489.8 783.9,493.2 783.8,495.7M772.1,491.6 771.5,490.4 773.3,488.2 772.6,485.8 770.8,484.8 769.9,482.5 775.8,480.8 776.1,479.7M788.4,471.3 783.7,472 782.1,469.6 783.5,467.2 781.5,462.6 780.5,461.4 775,461.2M788.4,446.1 786.6,448.3 785,448.2 782.1,450.1 783.7,454.3 779.5,456.7 777.7,455.7 774.8,458 775,461.2M789.2,476.3 784.4,477 783,474.7 779.9,475.4 778.8,478.8 776.1,479.7M787.8,402.2 784.5,401.7 782.9,399.4 777.4,396.5M777.4,396.5 776.8,392.9M777.9,434.5 779.1,439.5 783.6,439.6 784.2,441.9 787.8,443.1 788.4,446.1M777.9,434.5 778.9,432 781.7,429.7 783.1,429.8 784.6,426.7 788.1,426.6M789.1,425.2 786,422.3 782.6,423.7 781.4,423.4 782.3,418.2 778,417.9M778,417.9 777.8,413.7 779.3,408.9M785.8,406.7 783.9,406.3 781.6,409.3 779.3,408.9M795.2,418.2 793.7,415.3 794.4,412.8 789.1,410.4 788.2,410.8 785.8,406.7M785.8,406.7 788.4,403.8 787.8,402.2M795.5,497.6 793.1,496.9 791.7,493.9 790,493.5 787,489.8M789.2,476.3 790.8,477.4 787.8,481.1 789.8,484 787.1,486.2 787,489.8M795.8,395.7 789.7,396.4 788.9,397.9 789.3,399.5 787.8,402.2M794.2,434.8 790.1,432.2 788.3,429.9 788.1,426.6M789.1,425.2 788.1,426.6M789.2,476.3 788.4,471.3M788.4,471.3 789.2,470.4 793.7,472M788.4,446.1 792.9,446.1M795.2,418.2 791.6,421.1 791.7,424.2 789.1,425.2M794.2,434.8 790.5,438.6 792.9,446.1M809.9,447.9 806,450 802.6,446.7 800.7,447.1 799.2,450.6 798.3,450.7 793.5,447.1M797.6,463.7 797.9,461.6 796,459.2 796.6,456.6 791.1,452.2 793.5,447.1M797.8,392 795.8,395.7M793.7,472 792,477.6 792.9,478.2 795.7,477.9 798.4,474 801,474.9 801,474.9M793.7,472 796,471.1 794,465.6 797.6,463.7M794.2,434.8 796.3,431.9 798.3,431.5 800.4,433.2 802.7,433.2M795.2,418.2 798.4,417.7 799.6,414.2 804.6,414.7M797.9,502.7 798.2,502.3 795.5,499.7 795.5,497.6M795.5,497.6 797.7,495.8 797.8,493.9 801.1,490.3 803.7,493.1 806.5,491.4M795.8,395.7 801.8,400 805.9,400.8M807.1,465.6 804.3,465.5 803.2,463.8 798.9,464.7 797.6,463.7M802.7,433.2 806,435.8 808.7,441 812.2,440.2 813.4,441.5M802.7,433.2 804.6,428.4 802,426.7 802,426 805.1,422 801.8,419.7 804.7,415.2M807.1,407.3 804.7,410.9 805.4,412.7 804.6,414.7M804.7,415.2 808.3,418.4 811.5,418.1 811,423.6 812.4,424.9 815.2,423.8 815.8,421 817.6,420.4 820.4,423 821.5,422.7M805.9,400.8 804.7,405.2 807.1,407.3M814.2,389.5 814.8,395.4 811.8,398.2 807.3,399.2 805.9,400.8M807.1,407.3 810.6,406.9 815.7,409.4 817.5,409.5 819.4,411.1M807.1,465.6 808.4,467.8 811.4,467.9 811.7,469.5M807.1,465.6 808.6,462.8 810.9,462.5 811.6,461.6 810.4,456.2M810.4,456.2 809.9,455 811.5,450.5 809.9,447.9M813.4,441.5 812.2,445.8 809.9,447.9M810.4,456.2 813.8,456.2 816.7,459 819.3,457.4 822.9,459.6M813.4,441.5 818.6,444.2 820.3,443.1 819.7,439.3 821.2,437.1M814.2,389.5 810.6,385.5 810.7,385.2M812.1,384.2 817.3,382.6 817,382.3M814.2,389.5 815.5,389 819.6,392.2 821.9,392.2M819.4,411.1 819.7,416.3 821.9,416.6 823.7,419.2 821.5,422.7M819.4,411.1 822.5,410.8 823.6,408.1M821.2,437.1 820.3,432.9 825.7,433.5 827,429.4M821.2,437.1 824.3,437.1 826.7,440.7 827.4,443.3 829.1,444.5M826.7,379.4 826.9,383.3 829.3,384.6M821.5,422.7 824.2,424.8 823.7,428 827,429.4M827.1,399.7 826.9,396.9 822.6,395.9 821.9,392.2M821.9,392.2 823.5,389.8 826.9,389.5 829.3,384.6M822.9,459.6 825.2,462M822.9,459.6 826.1,456.7 829.1,457.5 830.1,456.7 831.2,453.2M823.6,408.1 827.2,409.1 827.4,411 830.4,412.5 830.4,414.1 834.1,415.9M823.6,408.1 824.8,404.5 823.3,402 827.1,399.7M827,429.4 833.1,427.3M837.2,399.9 833.4,403.9 827.1,399.7M829.1,444.5 829.6,446.3 831.8,447.6 830.4,452 831.2,453.2M829.1,444.5 832.7,441.8 834.9,444.1 837.4,443.9 838.6,441.8 839.2,441.7M829.3,384.6 833.2,388.1 835.2,386.4 837.6,386.7M840.1,455.4 839.7,454.4 836.2,454.2 834.4,452.7 831.2,453.2M841.7,376.2 839,377.6 839.5,379.4 843.4,381 843.6,382.6M837.8,426.6 833.1,427.3M833.1,427.3 832.6,421.5 834.1,415.9M842.7,412.7 839.4,413.9 838.9,416 834.1,415.9M837.6,386.7 840,390.5 839.3,391.1 839.1,396 837.3,397.4 837.2,399.9M837.2,399.9 842.5,399.9 844.5,396M837.6,386.7 839.4,384.2 841.7,384.7 843.6,382.6M841.6,438.9 841.8,437.7 840.2,435.7 837.7,435.9 836.4,432.3 838.8,430 837.8,426.6M848.1,421.3 844.5,421.8 844,426.6 838.6,425.4 837.8,426.6M848.1,421.3 847.8,416.9 846.4,415.8 844.7,415.9 842.7,412.7M848,399.3 847.8,401 845.4,402.6 847.3,407.7 843.6,409.6 842.7,412.7M850.8,385.6 848.5,384 846.6,384.4 843.6,382.6M844.5,396 848,399.3M850.8,385.6 849.8,388.6 851.5,391.2 850.2,394.1 846.7,393.8 844.5,396M848,399.3 851.7,397.5 853.8,401.9 858.5,400.2 859.9,402.5 863.2,403.2M848.1,421.3 849.5,422.1M859.2,409 856.4,412.1 854,412.5 853,415.8 853.7,419.7 852.3,420.6M850.8,385.6 852.6,383.9M862.6,392.1 862.2,392.9 866.1,395.2 865.8,396.8 864.3,398 864.8,401.5M866.5,415.5 867.5,413.8 866.8,412.1 863.2,411.9 859.2,409M863.2,403.2 864.3,406.1 859.2,409M863.2,403.2 864.8,401.5M864.8,401.5 869.6,402.2 870.2,400.5M870.2,400.5 875.5,400.7 875.8,403.6 878.7,404.6 879.1,405.6 878,408.7 882,410.7M879.9,389.9 878.7,391.6 877.4,391.9 876.7,396.3 876.2,396.8 873,395.8 871.7,396.5 870.2,400.5M891,404.6 888.9,407.8 887.9,408 884.4,405.6 882,410.7M891,404.6 890.7,403.5 892.8,397 891.7,393.5 892.5,393.2" fill="none" stroke="#606060" stroke-opacity="0.85" stroke-width="0.9" stroke-linejoin="round"/>
</g>
<path d="M366,154.5 373.8,157.5 380,162.5 392,163 404,167 441.5,165.5 449,166.2 451.5,170 470.2,170 466.5,176.2 468.5,190 475.2,198.8 481.5,196.2 485.2,187.5 491.5,187.5 494,198.8 499,208.8 501.5,207.5 502.8,187.5 521.5,185 539,182.5 554,182.5 555.2,176.2 564,183.8 574,182.5 577.8,177 584,182.5 587.8,172.5 596.5,170 604,174.5 619,169.5 625.2,180 635.2,185 639,193.8 634,203.8 636.5,216.2 647.8,218.8 651.5,227.5 644,237.5 641.5,250 647.8,255 646.5,265 650,270 655,277.5 660,290 677.5,287.5 687.5,288.8 700,295 700,305 693.8,315 690,322.5 686.2,327.5 688.8,340 686.2,347.5 691.2,352.5 685,360 685,370 690,376.2 698.8,378.8 707.5,387.5 708.8,400 713.8,407.5 720,413.8 732.5,416.2 750,410 758.3,407 762.5,403.8 758.3,400.2 763.9,397 767.9,393.9 764.7,390.7 771,389.9 772.6,394.7 778.2,392.3 786.2,391.5 792.5,393.9 803.7,389.9 813.2,383.5 822.8,380.4 835.5,377.2 845.1,375.6 849.9,377.2 851.5,382.7 857,388.3 861,392.3 872.2,390.7 880.1,389.9 891.3,392.3 896.8,396.3 896.8,401 892.9,404.2 889.7,409 880.1,412.2 873.8,414.6 861,416.2 851.5,421 844.3,424.9 843.5,432.1 841.9,438.5 837.9,443.2 841.9,448 849.9,456 841.9,455.2 833.9,456 826,460.8 822.8,465.5 814.8,467.1 808.5,471.9 800.5,475.1 792.5,479.9 790.9,484.6 793.5,487.5 798.9,486.2 805.3,488.6 807.7,494.2 806.2,497.5 808.8,503.8 803.8,505 797.5,502.5 790,503.8 787.5,500 788.5,495 783,495.8 771.8,491.5 765.5,492.6 755.9,493.5 748,493.4 740,493.5 732.5,497.5 725,505 720,511.2 715,507.5 710,510 700,513.8 690,518.8 680,525 670,532.5 660,540 655,545 645,552.5 635,560 625,566.2 615,572.5 605,578.8 597.5,584 586.2,590 582.5,606.2 575,612.5 567.5,618.8 560,610 555,592.5 547.5,597.5 540,596.2 530,601.2 525,592.5 527.5,580 532.5,572.5 526.2,563.8 517.5,565 500,565 482.5,565 467.5,565 465,557.5 467.5,547.5 472.5,537.5 462.5,527.5 456.2,517.5 450,507.5 440,497.5 442.5,485 438.8,470 438.8,455 433.8,442.5 425,431.2 412.5,425 407.5,417.5 397.5,417 390,421 380,420 370,421.2 357.5,417.5 347.5,421.2 340,418.8 337.5,411.2 327.5,407.5 315,405 306.2,403.8 300,398.8 290,396.2 276.2,398.8 265,396.2 250,392.5 240,387.5 230,386.2 227.5,392.5 220,396.2 207.5,393.8 195,393.8 185,390 172.5,391.2 162.5,392.5 148.8,395 146.2,388.8 155,382.5 167.5,375 180,368.8 195,360 207.5,350 212.5,337.5 222.5,327.5 233.8,312.5 231.2,303.8 237.5,300 245,297.5 246.2,290 250,280 250,270 256.2,267.5 258.8,260 265,255 270.5,247.5 270,236.2 272.5,227.5 280,220 289.2,211.2 292.5,205 300,200.5 312.5,197.5 318.8,192.5 320.5,182.5 326.2,175 337.5,168.8 352.5,163 358.8,157.5Z" fill="none" stroke="#5a5a5a" stroke-width="1" stroke-linejoin="round"/>
<path id="stn" d="M383,167.3l2.7,2.7l-2.7,2.7l-2.7,-2.7zM328,188.1l2.7,2.7l-2.7,2.7l-2.7,-2.7zM348,190.1l2.7,2.7l-2.7,2.7l-2.7,-2.7zM358.8,191.8l2.7,2.7l-2.7,2.7l-2.7,-2.7zM358.8,194.1l2.7,2.7l-2.7,2.7l-2.7,-2.7zM372,197.1l2.7,2.7l-2.7,2.7l-2.7,-2.7zM383,194.1l2.7,2.7l-2.7,2.7l-2.7,-2.7zM331,206.3l2.7,2.7l-2.7,2.7l-2.7,-2.7zM354.8,209.1l2.7,2.7l-2.7,2.7l-2.7,-2.7zM358.8,227.3l2.7,2.7l-2.7,2.7l-2.7,-2.7zM381.8,225.1l2.7,2.7l-2.7,2.7l-2.7,-2.7zM291.8,246.1l2.7,2.7l-2.7,2.7l-2.7,-2.7zM315.8,267.1l2.7,2.7l-2.7,2.7l-2.7,-2.7zM332.8,274.1l2.7,2.7l-2.7,2.7l-2.7,-2.7zM368.8,271.1l2.7,2.7l-2.7,2.7l-2.7,-2.7zM273.8,286.1l2.7,2.7l-2.7,2.7l-2.7,-2.7zM277.8,295.1l2.7,2.7l-2.7,2.7l-2.7,-2.7zM315.8,311.3l2.7,2.7l-2.7,2.7l-2.7,-2.7zM234.8,316.1l2.7,2.7l-2.7,2.7l-2.7,-2.7zM362.8,332.1l2.7,2.7l-2.7,2.7l-2.7,-2.7zM372.8,342.1l2.7,2.7l-2.7,2.7l-2.7,-2.7zM419,178.1l2.7,2.7l-2.7,2.7l-2.7,-2.7zM457.8,173.1l2.7,2.7l-2.7,2.7l-2.7,-2.7zM407.8,205.1l2.7,2.7l-2.7,2.7l-2.7,-2.7zM406.5,223.1l2.7,2.7l-2.7,2.7l-2.7,-2.7zM464,212.1l2.7,2.7l-2.7,2.7l-2.7,-2.7zM430.8,235.1l2.7,2.7l-2.7,2.7l-2.7,-2.7zM448.8,239.1l2.7,2.7l-2.7,2.7l-2.7,-2.7zM464,241.1l2.7,2.7l-2.7,2.7l-2.7,-2.7zM500,232.1l2.7,2.7l-2.7,2.7l-2.7,-2.7zM495.8,272.1l2.7,2.7l-2.7,2.7l-2.7,-2.7zM422.8,300.1l2.7,2.7l-2.7,2.7l-2.7,-2.7zM484.8,304.1l2.7,2.7l-2.7,2.7l-2.7,-2.7zM529.8,230.1l2.7,2.7l-2.7,2.7l-2.7,-2.7zM521,246.1l2.7,2.7l-2.7,2.7l-2.7,-2.7zM548.8,198.1l2.7,2.7l-2.7,2.7l-2.7,-2.7zM593.8,199.3l2.7,2.7l-2.7,2.7l-2.7,-2.7zM595.8,171.1l2.7,2.7l-2.7,2.7l-2.7,-2.7zM614.8,192.1l2.7,2.7l-2.7,2.7l-2.7,-2.7zM582.8,216.1l2.7,2.7l-2.7,2.7l-2.7,-2.7zM623.8,216.1l2.7,2.7l-2.7,2.7l-2.7,-2.7zM624.8,254.1l2.7,2.7l-2.7,2.7l-2.7,-2.7zM624.8,268.1l2.7,2.7l-2.7,2.7l-2.7,-2.7zM644.8,268.1l2.7,2.7l-2.7,2.7l-2.7,-2.7zM634.8,276.1l2.7,2.7l-2.7,2.7l-2.7,-2.7zM572.8,264.1l2.7,2.7l-2.7,2.7l-2.7,-2.7zM590.8,269.1l2.7,2.7l-2.7,2.7l-2.7,-2.7zM611.8,293.1l2.7,2.7l-2.7,2.7l-2.7,-2.7zM656.8,293.1l2.7,2.7l-2.7,2.7l-2.7,-2.7zM667.8,304.1l2.7,2.7l-2.7,2.7l-2.7,-2.7zM651.8,318.1l2.7,2.7l-2.7,2.7l-2.7,-2.7zM653.8,320.1l2.7,2.7l-2.7,2.7l-2.7,-2.7zM604.8,330.1l2.7,2.7l-2.7,2.7l-2.7,-2.7zM680.8,309.1l2.7,2.7l-2.7,2.7l-2.7,-2.7zM667.8,324.1l2.7,2.7l-2.7,2.7l-2.7,-2.7zM677.8,334.1l2.7,2.7l-2.7,2.7l-2.7,-2.7zM679.8,342.1l2.7,2.7l-2.7,2.7l-2.7,-2.7zM659.8,397.1l2.7,2.7l-2.7,2.7l-2.7,-2.7zM679.8,395.1l2.7,2.7l-2.7,2.7l-2.7,-2.7zM681.8,395.1l2.7,2.7l-2.7,2.7l-2.7,-2.7zM651.8,414.1l2.7,2.7l-2.7,2.7l-2.7,-2.7zM670.8,422.1l2.7,2.7l-2.7,2.7l-2.7,-2.7zM695.8,419.1l2.7,2.7l-2.7,2.7l-2.7,-2.7zM707.8,414.1l2.7,2.7l-2.7,2.7l-2.7,-2.7zM715.8,409.1l2.7,2.7l-2.7,2.7l-2.7,-2.7zM712.8,426.1l2.7,2.7l-2.7,2.7l-2.7,-2.7zM694.8,432.1l2.7,2.7l-2.7,2.7l-2.7,-2.7zM702.8,433.1l2.7,2.7l-2.7,2.7l-2.7,-2.7zM708.8,436.1l2.7,2.7l-2.7,2.7l-2.7,-2.7zM663.8,437.1l2.7,2.7l-2.7,2.7l-2.7,-2.7zM667.8,439.1l2.7,2.7l-2.7,2.7l-2.7,-2.7zM677.8,439.1l2.7,2.7l-2.7,2.7l-2.7,-2.7zM579.8,384.1l2.7,2.7l-2.7,2.7l-2.7,-2.7zM620.8,383.1l2.7,2.7l-2.7,2.7l-2.7,-2.7zM604.8,398.1l2.7,2.7l-2.7,2.7l-2.7,-2.7zM620.8,404.1l2.7,2.7l-2.7,2.7l-2.7,-2.7zM635.8,408.1l2.7,2.7l-2.7,2.7l-2.7,-2.7zM614.8,422.1l2.7,2.7l-2.7,2.7l-2.7,-2.7zM639.8,429.1l2.7,2.7l-2.7,2.7l-2.7,-2.7zM569.8,472.1l2.7,2.7l-2.7,2.7l-2.7,-2.7zM565.8,482.1l2.7,2.7l-2.7,2.7l-2.7,-2.7zM616.8,502.1l2.7,2.7l-2.7,2.7l-2.7,-2.7zM651.8,500.1l2.7,2.7l-2.7,2.7l-2.7,-2.7zM663.8,493.1l2.7,2.7l-2.7,2.7l-2.7,-2.7zM714.8,499.1l2.7,2.7l-2.7,2.7l-2.7,-2.7zM764.8,482.1l2.7,2.7l-2.7,2.7l-2.7,-2.7zM789.8,475.1l2.7,2.7l-2.7,2.7l-2.7,-2.7zM796.8,471.1l2.7,2.7l-2.7,2.7l-2.7,-2.7zM812.8,461.1l2.7,2.7l-2.7,2.7l-2.7,-2.7zM820.8,460.1l2.7,2.7l-2.7,2.7l-2.7,-2.7zM791.8,489.1l2.7,2.7l-2.7,2.7l-2.7,-2.7zM796.8,491.1l2.7,2.7l-2.7,2.7l-2.7,-2.7zM788.8,498.6l2.7,2.7l-2.7,2.7l-2.7,-2.7zM618.8,530l2.7,2.7l-2.7,2.7l-2.7,-2.7zM644.8,530l2.7,2.7l-2.7,2.7l-2.7,-2.7zM658.8,533l2.7,2.7l-2.7,2.7l-2.7,-2.7zM579.8,538l2.7,2.7l-2.7,2.7l-2.7,-2.7zM586.8,547l2.7,2.7l-2.7,2.7l-2.7,-2.7zM574.8,563l2.7,2.7l-2.7,2.7l-2.7,-2.7zM583.8,566l2.7,2.7l-2.7,2.7l-2.7,-2.7zM450.8,444.1l2.7,2.7l-2.7,2.7l-2.7,-2.7zM459.8,440.1l2.7,2.7l-2.7,2.7l-2.7,-2.7zM459.8,450.1l2.7,2.7l-2.7,2.7l-2.7,-2.7zM513.8,454.1l2.7,2.7l-2.7,2.7l-2.7,-2.7zM469.8,467.1l2.7,2.7l-2.7,2.7l-2.7,-2.7zM453.8,493.1l2.7,2.7l-2.7,2.7l-2.7,-2.7zM478.8,495.1l2.7,2.7l-2.7,2.7l-2.7,-2.7zM462.8,516l2.7,2.7l-2.7,2.7l-2.7,-2.7zM543.8,506.1l2.7,2.7l-2.7,2.7l-2.7,-2.7zM579.8,591l2.7,2.7l-2.7,2.7l-2.7,-2.7zM504.8,548l2.7,2.7l-2.7,2.7l-2.7,-2.7zM525.8,554l2.7,2.7l-2.7,2.7l-2.7,-2.7zM490.8,559l2.7,2.7l-2.7,2.7l-2.7,-2.7zM505.8,559l2.7,2.7l-2.7,2.7l-2.7,-2.7zM288.8,348.1l2.7,2.7l-2.7,2.7l-2.7,-2.7zM245.8,363.1l2.7,2.7l-2.7,2.7l-2.7,-2.7zM194.8,367.1l2.7,2.7l-2.7,2.7l-2.7,-2.7zM315.8,394.1l2.7,2.7l-2.7,2.7l-2.7,-2.7zM340.8,406.1l2.7,2.7l-2.7,2.7l-2.7,-2.7zM361.8,404.6l2.7,2.7l-2.7,2.7l-2.7,-2.7zM369.8,394.1l2.7,2.7l-2.7,2.7l-2.7,-2.7zM374.8,397.1l2.7,2.7l-2.7,2.7l-2.7,-2.7zM387.8,404.1l2.7,2.7l-2.7,2.7l-2.7,-2.7zM410.8,356.1l2.7,2.7l-2.7,2.7l-2.7,-2.7zM442.8,365.1l2.7,2.7l-2.7,2.7l-2.7,-2.7zM474.8,372.1l2.7,2.7l-2.7,2.7l-2.7,-2.7zM527.8,400.1l2.7,2.7l-2.7,2.7l-2.7,-2.7zM425.8,417.1l2.7,2.7l-2.7,2.7l-2.7,-2.7zM435.8,415.1l2.7,2.7l-2.7,2.7l-2.7,-2.7zM440.8,428.1l2.7,2.7l-2.7,2.7l-2.7,-2.7zM461.8,428.1l2.7,2.7l-2.7,2.7l-2.7,-2.7zM541.8,429.1l2.7,2.7l-2.7,2.7l-2.7,-2.7z" fill="#2aa58c" stroke="#08201a" stroke-width="0.85"/>
<!-- titles -->
<text x="166" y="100.6" font-size="29.5" textLength="718" lengthAdjust="spacingAndGlyphs">Índice de Umidade do Solo e Desenvolvimento Vegetal</text>
<text x="326" y="128.8" font-size="16" textLength="427" lengthAdjust="spacingAndGlyphs">Monitoramento Agroclimático 23 a 25 de Novembro de 2015</text>
<text class="b" x="145" y="430" font-size="15.5" textLength="79.5" lengthAdjust="spacingAndGlyphs">Prof. 25cm</text>
<!-- legend -->
<text class="b" x="176" y="507.5" font-size="20.6" textLength="85" lengthAdjust="spacingAndGlyphs">Legenda</text>
<text class="b" x="176" y="542" font-size="19.2" textLength="57.5" lengthAdjust="spacingAndGlyphs">CWDF</text>
<g stroke="#6e6e6e" stroke-width="1">
<rect x="175.5" y="555.9" width="42.5" height="21.3" fill="#ff0000"/>
<rect x="175.5" y="584.2" width="42.5" height="21.3" fill="#ffff00"/>
<rect x="175.5" y="612.5" width="42.5" height="21.3" fill="#aaff00"/>
<rect x="175.5" y="641" width="42.5" height="21.3" fill="#00a9e6"/>
<rect x="175.5" y="669.5" width="42.5" height="21.3" fill="#004da8"/>
<rect x="175.5" y="698" width="42.5" height="21.3" fill="#ffffff"/>
</g>
<path d="M196.2,734.4l2.8,2.8l-2.8,2.8l-2.8,-2.8z" fill="#2aa08a" stroke="#0c2b26" stroke-width="0.8"/>
<g font-size="15.4">
<text x="224.5" y="570.6" textLength="72" lengthAdjust="spacingAndGlyphs">0,00 - 0,20</text>
<text x="224.5" y="598.9" textLength="72" lengthAdjust="spacingAndGlyphs">0,20 - 0,70</text>
<text x="224.5" y="627.1" textLength="72" lengthAdjust="spacingAndGlyphs">0,70 - 0,90</text>
<text x="224.5" y="656" textLength="72" lengthAdjust="spacingAndGlyphs">0,90 - 0,95</text>
<text x="224.5" y="685" textLength="72" lengthAdjust="spacingAndGlyphs">0,95 - 1,00</text>
<text x="224.5" y="713.7" textLength="186" lengthAdjust="spacingAndGlyphs">Delimitação Municipios_SP</text>
<text x="224.5" y="742.7" textLength="155.5" lengthAdjust="spacingAndGlyphs">Postos Meteorológicos</text>
</g>
<g font-size="15.7">
<text x="98.3" y="577.3" textLength="45.5" lengthAdjust="spacingAndGlyphs">Crítico</text>
<text x="98.3" y="614.4" textLength="65.7" lengthAdjust="spacingAndGlyphs">Razoável</text>
<text x="98.5" y="669.3" textLength="41.3" lengthAdjust="spacingAndGlyphs">Ótimo</text>
</g>
<!-- scale bar -->
<g font-size="13.5" text-anchor="middle">
<text x="447" y="705.9" textLength="6.6" lengthAdjust="spacingAndGlyphs">0</text>
<text x="475.5" y="705.9" textLength="24" lengthAdjust="spacingAndGlyphs">37,5</text>
<text x="505" y="705.9" textLength="13" lengthAdjust="spacingAndGlyphs">75</text>
<text x="561" y="705.9" textLength="19.7" lengthAdjust="spacingAndGlyphs">150</text>
<text x="617.5" y="705.9" textLength="19.7" lengthAdjust="spacingAndGlyphs">225</text>
<text x="674.3" y="705.9" textLength="19.7" lengthAdjust="spacingAndGlyphs">300</text>
</g>
<text x="679.3" y="725.6" font-size="13.5" textLength="18" lengthAdjust="spacingAndGlyphs">Km</text>
<rect x="448.4" y="713.5" width="227" height="12.6" fill="#fff" stroke="#000" stroke-width="1"/>
<path d="M448,713h28.5v7h-28.5zM476.5,720h29v6.6h-29zM505.5,713h56.3v7h-56.3zM561.8,720h56.9v6.6h-56.9zM618.7,713h57v7h-57z" fill="#000"/>
<text x="514.4" y="754.5" font-size="16.5" textLength="88.2" lengthAdjust="spacingAndGlyphs">1:5.000.000</text>
<!-- compass -->
<g transform="translate(553.6,655.4)">
<g id="cq">
<path d="M0,0L11.6,-11.6" stroke="#000" stroke-width="0.75"/>
<path d="M2.7,-10.6A10.9,10.9 0 0 1 6.9,-8.5M8.5,-6.9A10.9,10.9 0 0 1 10.6,-2.7" fill="none" stroke="#000" stroke-width="2.5"/>
<path d="M0,-20.4L2.8,-2.8L0,0Z" fill="#000"/>
<path d="M0,-20.4L-2.8,-2.8L0,0Z" fill="#fff" stroke="#000" stroke-width="0.55"/>
</g>
<use href="#cq" transform="rotate(90)"/><use href="#cq" transform="rotate(180)"/><use href="#cq" transform="rotate(270)"/>
<g font-size="6.4" text-anchor="middle" font-weight="bold">
<text class="b" x="0" y="-22.8">N</text><text class="b" x="0" y="28">S</text><text class="b" x="-24.3" y="2.3">W</text><text class="b" x="23.6" y="2.3">E</text>
</g>
</g>
<!-- CEPA logo -->
<rect x="792" y="557.7" width="67.8" height="28.3" fill="#f1f4ec"/>
<text class="b" x="793.2" y="582.6" font-size="28.8" textLength="65.7" lengthAdjust="spacingAndGlyphs" style="fill:url(#cepa);stroke:url(#cepa);stroke-width:0.9">CEPA</text>
<text class="b" x="745" y="604.7" font-size="13.6" textLength="166.8" lengthAdjust="spacingAndGlyphs" style="fill:#3b7a1c">www.cepaempresa.com.br</text>
<!-- IAC logo -->
<rect x="802" y="620.7" width="58.1" height="15.1" fill="#2e2a8e"/>
<path d="M802,635.3L860.1,622" stroke="#fff" stroke-width="1.4"/>
<rect x="802" y="662.3" width="58.1" height="15.5" fill="#2e2a8e"/>
<path d="M802,662.8L860.1,676" stroke="#fff" stroke-width="1.4"/>
<text class="serif" x="801.5" y="659.8" font-size="32.5" textLength="59" lengthAdjust="spacingAndGlyphs">IAC</text>
<text class="b" x="803" y="683" font-size="3.6" style="fill:#555" textLength="56" lengthAdjust="spacingAndGlyphs">INSTITUTO AGRONÔMICO</text>
<text class="b" x="754.4" y="702.6" font-size="13.8" textLength="148" lengthAdjust="spacingAndGlyphs">www.ciicagro.sp.gov.br</text>
<text class="b" x="731.5" y="736.7" font-size="14.5" textLength="218" lengthAdjust="spacingAndGlyphs">Fonte de Dados: CIIAGRO - IAC</text>
<text class="b" x="731.5" y="753.6" font-size="14.5" textLength="137" lengthAdjust="spacingAndGlyphs">Campinas/SP - 2015</text>

</svg>
</body></html>
